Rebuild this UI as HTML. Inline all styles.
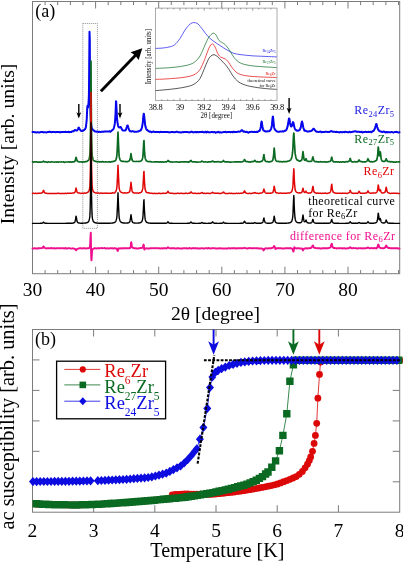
<!DOCTYPE html>
<html><head><meta charset="utf-8"><title>fig</title>
<style>html,body{margin:0;padding:0;background:#fff;}body{width:403px;height:566px;overflow:hidden;}svg{display:block;will-change:transform;}text{font-family:'Liberation Serif', serif;}</style>
</head><body>
<svg width="403" height="566" viewBox="0 0 403 566">
<rect x="0" y="0" width="403" height="566" fill="#fff"/>
<g stroke="#7c7c7c" stroke-width="1" fill="none">
<rect x="32.5" y="1.5" width="367.2" height="272.2"/>
<path d="M45.1 273.7v-3.6M45.1 1.5v3.6M57.7 273.7v-3.6M57.7 1.5v3.6M70.4 273.7v-3.6M70.4 1.5v3.6M83.0 273.7v-3.6M83.0 1.5v3.6M95.6 273.7v-7.0M95.6 1.5v7.0M108.2 273.7v-3.6M108.2 1.5v3.6M120.8 273.7v-3.6M120.8 1.5v3.6M133.5 273.7v-3.6M133.5 1.5v3.6M146.1 273.7v-3.6M146.1 1.5v3.6M158.7 273.7v-7.0M158.7 1.5v7.0M171.3 273.7v-3.6M171.3 1.5v3.6M183.9 273.7v-3.6M183.9 1.5v3.6M196.6 273.7v-3.6M196.6 1.5v3.6M209.2 273.7v-3.6M209.2 1.5v3.6M221.8 273.7v-7.0M221.8 1.5v7.0M234.4 273.7v-3.6M234.4 1.5v3.6M247.0 273.7v-3.6M247.0 1.5v3.6M259.7 273.7v-3.6M259.7 1.5v3.6M272.3 273.7v-3.6M272.3 1.5v3.6M284.9 273.7v-7.0M284.9 1.5v7.0M297.5 273.7v-3.6M297.5 1.5v3.6M310.1 273.7v-3.6M310.1 1.5v3.6M322.8 273.7v-3.6M322.8 1.5v3.6M335.4 273.7v-3.6M335.4 1.5v3.6M348.0 273.7v-7.0M348.0 1.5v7.0M360.6 273.7v-3.6M360.6 1.5v3.6M373.2 273.7v-3.6M373.2 1.5v3.6M385.9 273.7v-3.6M385.9 1.5v3.6M398.5 273.7v-3.6M398.5 1.5v3.6"/>
</g>
<rect x="82.8" y="23.5" width="14.6" height="204.8" fill="none" stroke="#777" stroke-width="0.8" stroke-dasharray="1 1"/>
<g fill="none" stroke-linejoin="round" stroke-linecap="round">
<path d="M32.5 131.9 L32.8 131.9 L33.0 131.9 L33.2 131.9 L33.5 131.9 L33.8 131.9 L34.0 132.0 L34.2 132.1 L34.5 132.2 L34.8 132.2 L35.0 132.3 L35.2 132.3 L35.5 132.3 L35.8 132.4 L36.0 132.4 L36.2 132.4 L36.5 132.4 L36.8 132.4 L37.0 132.3 L37.2 132.2 L37.5 132.2 L37.8 132.2 L38.0 132.3 L38.2 132.3 L38.5 132.4 L38.8 132.4 L39.0 132.4 L39.2 132.5 L39.5 132.5 L39.8 132.4 L40.0 132.3 L40.2 132.2 L40.5 132.1 L40.8 132.1 L41.0 132.1 L41.2 132.1 L41.5 132.1 L41.8 132.1 L42.0 132.1 L42.2 132.1 L42.5 132.0 L42.8 132.1 L43.0 132.2 L43.2 132.3 L43.5 132.4 L43.8 132.3 L44.0 132.3 L44.2 132.2 L44.5 132.2 L44.8 132.2 L45.0 132.2 L45.2 132.2 L45.5 132.2 L45.8 132.3 L46.0 132.3 L46.2 132.4 L46.5 132.5 L46.8 132.4 L47.0 132.3 L47.2 132.2 L47.5 132.0 L47.8 132.1 L48.0 132.1 L48.2 132.1 L48.5 132.1 L48.8 132.0 L49.0 131.9 L49.2 131.7 L49.5 131.6 L49.8 131.7 L50.0 131.9 L50.2 132.0 L50.5 132.1 L50.8 132.1 L51.0 132.1 L51.2 132.2 L51.5 132.2 L51.8 132.1 L52.0 132.0 L52.2 132.0 L52.5 131.9 L52.8 131.9 L53.0 132.0 L53.2 132.0 L53.5 132.1 L53.8 132.1 L54.0 132.0 L54.2 132.0 L54.5 131.9 L54.8 132.0 L55.0 132.1 L55.2 132.1 L55.5 132.2 L55.8 132.2 L56.0 132.2 L56.2 132.1 L56.5 132.1 L56.8 132.0 L57.0 132.0 L57.2 131.9 L57.5 131.9 L57.8 131.9 L58.0 131.9 L58.2 132.0 L58.5 132.0 L58.8 132.0 L59.0 132.0 L59.2 132.1 L59.5 132.1 L59.8 132.2 L60.0 132.2 L60.2 132.3 L60.5 132.4 L60.8 132.3 L61.0 132.2 L61.2 132.1 L61.5 132.0 L61.8 132.0 L62.0 132.0 L62.2 132.1 L62.5 132.1 L62.8 132.0 L63.0 132.0 L63.2 132.0 L63.5 131.9 L63.8 132.0 L64.0 132.0 L64.2 132.0 L64.5 132.0 L64.8 132.0 L65.0 131.9 L65.2 131.9 L65.5 131.8 L65.8 131.9 L66.0 131.9 L66.2 132.0 L66.5 132.1 L66.8 132.0 L67.0 132.0 L67.2 132.0 L67.5 132.0 L67.8 131.9 L68.0 131.9 L68.2 131.9 L68.5 131.8 L68.8 131.9 L69.0 132.0 L69.2 132.1 L69.5 132.2 L69.8 132.1 L70.0 132.1 L70.2 132.0 L70.5 132.0 L70.8 132.0 L71.0 132.0 L71.2 131.9 L71.5 131.9 L71.8 131.7 L72.0 131.6 L72.2 131.4 L72.5 131.2 L72.8 131.2 L73.0 131.3 L73.2 131.3 L73.5 131.3 L73.8 131.1 L74.0 130.8 L74.2 130.6 L74.5 130.3 L74.8 130.1 L75.0 130.0 L75.2 130.0 L75.5 130.1 L75.8 130.3 L76.0 130.4 L76.2 130.5 L76.5 130.6 L76.8 130.6 L77.0 130.5 L77.2 130.4 L77.5 130.1 L77.8 129.6 L78.0 129.0 L78.2 128.3 L78.5 127.7 L78.8 127.6 L79.0 127.7 L79.2 128.2 L79.5 128.8 L79.8 129.2 L80.0 129.6 L80.2 129.9 L80.5 130.1 L80.8 130.4 L81.0 130.7 L81.2 130.9 L81.5 131.1 L81.8 131.1 L82.0 131.1 L82.2 131.0 L82.5 130.9 L82.8 130.8 L83.0 130.7 L83.2 130.5 L83.5 130.3 L83.8 130.2 L84.0 130.0 L84.2 129.8 L84.5 129.6 L84.8 129.4 L85.0 129.2 L85.2 128.8 L85.5 128.3 L85.8 127.5 L86.0 126.3 L86.2 124.5 L86.5 122.0 L86.8 118.3 L87.0 113.2 L87.2 108.1 L87.5 105.8 L87.8 106.8 L88.0 107.5 L88.2 106.2 L88.5 103.1 L88.8 98.4 L89.0 88.9 L89.2 66.3 L89.5 31.7 L89.8 39.8 L90.0 78.3 L90.2 101.5 L90.5 113.0 L90.8 119.1 L91.0 122.8 L91.2 125.1 L91.5 126.7 L91.8 127.7 L92.0 128.4 L92.2 128.9 L92.5 129.3 L92.8 129.6 L93.0 129.9 L93.2 130.1 L93.5 130.2 L93.8 130.5 L94.0 130.7 L94.2 130.9 L94.5 131.1 L94.8 131.3 L95.0 131.4 L95.2 131.5 L95.5 131.6 L95.8 131.6 L96.0 131.7 L96.2 131.7 L96.5 131.7 L96.8 131.6 L97.0 131.6 L97.2 131.5 L97.5 131.4 L97.8 131.6 L98.0 131.8 L98.2 131.9 L98.5 132.1 L98.8 132.0 L99.0 131.9 L99.2 131.8 L99.5 131.8 L99.8 131.8 L100.0 131.9 L100.2 131.9 L100.5 132.0 L100.8 132.0 L101.0 131.9 L101.2 131.9 L101.5 131.8 L101.8 131.8 L102.0 131.8 L102.2 131.8 L102.5 131.8 L102.8 131.8 L103.0 131.8 L103.2 131.8 L103.5 131.8 L103.8 131.7 L104.0 131.6 L104.2 131.5 L104.5 131.4 L104.8 131.5 L105.0 131.5 L105.2 131.6 L105.5 131.6 L105.8 131.6 L106.0 131.5 L106.2 131.5 L106.5 131.4 L106.8 131.5 L107.0 131.5 L107.2 131.6 L107.5 131.6 L107.8 131.6 L108.0 131.6 L108.2 131.6 L108.5 131.6 L108.8 131.5 L109.0 131.4 L109.2 131.4 L109.5 131.3 L109.8 131.4 L110.0 131.5 L110.2 131.6 L110.5 131.7 L110.8 131.5 L111.0 131.2 L111.2 131.0 L111.5 130.7 L111.8 130.5 L112.0 130.4 L112.2 130.2 L112.5 129.9 L112.8 129.8 L113.0 129.5 L113.2 129.2 L113.5 128.8 L113.8 128.2 L114.0 127.4 L114.2 126.4 L114.5 125.2 L114.8 123.7 L115.0 121.6 L115.2 118.7 L115.5 114.1 L115.8 107.6 L116.0 101.2 L116.2 101.8 L116.5 108.4 L116.8 114.1 L117.0 118.0 L117.2 120.7 L117.5 122.5 L117.8 124.1 L118.0 125.2 L118.2 126.1 L118.5 126.8 L118.8 127.2 L119.0 127.5 L119.2 127.5 L119.5 127.5 L119.8 127.3 L120.0 127.1 L120.2 126.9 L120.5 126.9 L120.8 127.1 L121.0 127.5 L121.2 128.0 L121.5 128.5 L121.8 129.0 L122.0 129.4 L122.2 129.8 L122.5 130.1 L122.8 130.3 L123.0 130.4 L123.2 130.5 L123.5 130.6 L123.8 130.6 L124.0 130.6 L124.2 130.6 L124.5 130.5 L124.8 130.5 L125.0 130.6 L125.2 130.5 L125.5 130.4 L125.8 130.0 L126.0 129.4 L126.2 128.7 L126.5 127.8 L126.8 127.1 L127.0 126.3 L127.2 125.6 L127.5 125.5 L127.8 125.7 L128.0 126.4 L128.2 127.3 L128.5 128.1 L128.8 128.9 L129.0 129.6 L129.2 130.1 L129.5 130.6 L129.8 130.8 L130.0 131.0 L130.2 131.2 L130.5 131.3 L130.8 131.4 L131.0 131.4 L131.2 131.5 L131.5 131.5 L131.8 131.4 L132.0 131.3 L132.2 131.2 L132.5 131.1 L132.8 131.2 L133.0 131.3 L133.2 131.4 L133.5 131.5 L133.8 131.5 L134.0 131.6 L134.2 131.7 L134.5 131.8 L134.8 131.8 L135.0 131.7 L135.2 131.7 L135.5 131.7 L135.8 131.7 L136.0 131.8 L136.2 131.8 L136.5 131.8 L136.8 131.7 L137.0 131.7 L137.2 131.6 L137.5 131.5 L137.8 131.5 L138.0 131.4 L138.2 131.4 L138.5 131.4 L138.8 131.3 L139.0 131.1 L139.2 130.9 L139.5 130.8 L139.8 130.7 L140.0 130.7 L140.2 130.6 L140.5 130.5 L140.8 130.2 L141.0 129.8 L141.2 129.3 L141.5 128.7 L141.8 128.0 L142.0 127.2 L142.2 126.0 L142.5 124.6 L142.8 122.6 L143.0 120.2 L143.2 117.5 L143.5 115.0 L143.8 113.7 L144.0 114.2 L144.2 116.2 L144.5 118.8 L144.8 121.4 L145.0 123.6 L145.2 125.3 L145.5 126.6 L145.8 127.6 L146.0 128.3 L146.2 128.9 L146.5 129.4 L146.8 129.7 L147.0 130.0 L147.2 130.2 L147.5 130.4 L147.8 130.5 L148.0 130.7 L148.2 130.8 L148.5 130.9 L148.8 131.1 L149.0 131.4 L149.2 131.6 L149.5 131.8 L149.8 131.7 L150.0 131.7 L150.2 131.6 L150.5 131.5 L150.8 131.7 L151.0 131.9 L151.2 132.0 L151.5 132.2 L151.8 132.1 L152.0 132.0 L152.2 131.9 L152.5 131.9 L152.8 131.8 L153.0 131.7 L153.2 131.6 L153.5 131.5 L153.8 131.6 L154.0 131.7 L154.2 131.9 L154.5 132.0 L154.8 132.0 L155.0 132.0 L155.2 132.1 L155.5 132.1 L155.8 132.0 L156.0 132.0 L156.2 132.0 L156.5 132.0 L156.8 132.0 L157.0 132.0 L157.2 132.0 L157.5 132.0 L157.8 132.0 L158.0 132.0 L158.2 132.0 L158.5 132.0 L158.8 132.1 L159.0 132.1 L159.2 132.2 L159.5 132.2 L159.8 132.1 L160.0 132.0 L160.2 131.9 L160.5 131.8 L160.8 131.9 L161.0 131.9 L161.2 131.9 L161.5 131.9 L161.8 132.0 L162.0 132.0 L162.2 132.1 L162.5 132.1 L162.8 132.1 L163.0 132.1 L163.2 132.1 L163.5 132.0 L163.8 132.0 L164.0 132.0 L164.2 132.0 L164.5 132.0 L164.8 131.9 L165.0 131.9 L165.2 131.9 L165.5 131.9 L165.8 131.9 L166.0 132.0 L166.2 132.0 L166.5 132.0 L166.8 132.0 L167.0 132.0 L167.2 132.0 L167.5 132.0 L167.8 132.0 L168.0 132.1 L168.2 132.1 L168.5 132.2 L168.8 132.2 L169.0 132.3 L169.2 132.3 L169.5 132.4 L169.8 132.3 L170.0 132.3 L170.2 132.3 L170.5 132.2 L170.8 132.2 L171.0 132.1 L171.2 132.0 L171.5 131.9 L171.8 131.9 L172.0 131.9 L172.2 131.9 L172.5 131.9 L172.8 132.0 L173.0 132.0 L173.2 132.1 L173.5 132.1 L173.8 132.2 L174.0 132.2 L174.2 132.2 L174.5 132.3 L174.8 132.2 L175.0 132.2 L175.2 132.1 L175.5 132.1 L175.8 132.0 L176.0 131.9 L176.2 131.9 L176.5 131.8 L176.8 131.8 L177.0 131.8 L177.2 131.8 L177.5 131.9 L177.8 132.0 L178.0 132.1 L178.2 132.2 L178.5 132.3 L178.8 132.3 L179.0 132.2 L179.2 132.2 L179.5 132.2 L179.8 132.2 L180.0 132.3 L180.2 132.4 L180.5 132.5 L180.8 132.5 L181.0 132.4 L181.2 132.4 L181.5 132.4 L181.8 132.3 L182.0 132.3 L182.2 132.2 L182.5 132.1 L182.8 132.1 L183.0 132.1 L183.2 132.1 L183.5 132.2 L183.8 132.1 L184.0 132.1 L184.2 132.0 L184.5 132.0 L184.8 131.9 L185.0 131.9 L185.2 131.9 L185.5 131.9 L185.8 131.9 L186.0 131.9 L186.2 132.0 L186.5 132.0 L186.8 132.0 L187.0 131.9 L187.2 131.9 L187.5 131.9 L187.8 132.0 L188.0 132.1 L188.2 132.2 L188.5 132.3 L188.8 132.3 L189.0 132.4 L189.2 132.4 L189.5 132.4 L189.8 132.3 L190.0 132.2 L190.2 132.1 L190.5 132.1 L190.8 131.9 L191.0 131.8 L191.2 131.7 L191.5 131.6 L191.8 131.7 L192.0 131.8 L192.2 132.0 L192.5 132.1 L192.8 132.2 L193.0 132.3 L193.2 132.3 L193.5 132.4 L193.8 132.3 L194.0 132.3 L194.2 132.2 L194.5 132.1 L194.8 132.1 L195.0 132.0 L195.2 131.9 L195.5 131.9 L195.8 132.0 L196.0 132.1 L196.2 132.3 L196.5 132.4 L196.8 132.3 L197.0 132.2 L197.2 132.1 L197.5 132.0 L197.8 132.1 L198.0 132.1 L198.2 132.2 L198.5 132.3 L198.8 132.2 L199.0 132.1 L199.2 132.0 L199.5 131.9 L199.8 131.9 L200.0 131.9 L200.2 132.0 L200.5 132.0 L200.8 132.0 L201.0 132.1 L201.2 132.1 L201.5 132.1 L201.8 132.0 L202.0 131.9 L202.2 131.8 L202.5 131.7 L202.8 131.9 L203.0 132.0 L203.2 132.1 L203.5 132.3 L203.8 132.3 L204.0 132.3 L204.2 132.3 L204.5 132.3 L204.8 132.2 L205.0 132.0 L205.2 131.9 L205.5 131.8 L205.8 131.9 L206.0 132.1 L206.2 132.2 L206.5 132.4 L206.8 132.2 L207.0 132.0 L207.2 131.9 L207.5 131.7 L207.8 131.8 L208.0 131.9 L208.2 132.1 L208.5 132.2 L208.8 132.2 L209.0 132.3 L209.2 132.3 L209.5 132.4 L209.8 132.3 L210.0 132.3 L210.2 132.2 L210.5 132.2 L210.8 132.2 L211.0 132.2 L211.2 132.1 L211.5 132.1 L211.8 132.1 L212.0 132.1 L212.2 132.1 L212.5 132.1 L212.8 132.1 L213.0 132.2 L213.2 132.2 L213.5 132.2 L213.8 132.1 L214.0 132.1 L214.2 132.0 L214.5 131.9 L214.8 132.1 L215.0 132.3 L215.2 132.5 L215.5 132.7 L215.8 132.6 L216.0 132.5 L216.2 132.4 L216.5 132.3 L216.8 132.3 L217.0 132.3 L217.2 132.2 L217.5 132.2 L217.8 132.1 L218.0 132.0 L218.2 131.9 L218.5 131.8 L218.8 132.0 L219.0 132.2 L219.2 132.4 L219.5 132.6 L219.8 132.5 L220.0 132.4 L220.2 132.3 L220.5 132.2 L220.8 132.3 L221.0 132.3 L221.2 132.4 L221.5 132.4 L221.8 132.4 L222.0 132.4 L222.2 132.3 L222.5 132.3 L222.8 132.2 L223.0 132.2 L223.2 132.1 L223.5 132.0 L223.8 132.0 L224.0 132.0 L224.2 132.1 L224.5 132.1 L224.8 132.0 L225.0 132.0 L225.2 131.9 L225.5 131.8 L225.8 132.0 L226.0 132.1 L226.2 132.2 L226.5 132.3 L226.8 132.2 L227.0 132.2 L227.2 132.1 L227.5 132.1 L227.8 132.0 L228.0 132.0 L228.2 131.9 L228.5 131.9 L228.8 131.9 L229.0 131.9 L229.2 131.9 L229.5 131.9 L229.8 132.0 L230.0 132.1 L230.2 132.1 L230.5 132.2 L230.8 132.1 L231.0 132.0 L231.2 132.0 L231.5 131.9 L231.8 132.0 L232.0 132.1 L232.2 132.2 L232.5 132.3 L232.8 132.2 L233.0 132.0 L233.2 131.9 L233.5 131.7 L233.8 131.8 L234.0 131.9 L234.2 132.0 L234.5 132.1 L234.8 132.1 L235.0 132.1 L235.2 132.1 L235.5 132.1 L235.8 132.1 L236.0 132.0 L236.2 132.0 L236.5 132.0 L236.8 131.9 L237.0 131.9 L237.2 131.9 L237.5 131.8 L237.8 131.7 L238.0 131.7 L238.2 131.6 L238.5 131.5 L238.8 131.6 L239.0 131.7 L239.2 131.7 L239.5 131.8 L239.8 131.7 L240.0 131.6 L240.2 131.5 L240.5 131.4 L240.8 131.1 L241.0 130.9 L241.2 130.6 L241.5 130.3 L241.8 130.2 L242.0 130.2 L242.2 130.3 L242.5 130.6 L242.8 130.9 L243.0 131.2 L243.2 131.4 L243.5 131.7 L243.8 131.7 L244.0 131.6 L244.2 131.6 L244.5 131.5 L244.8 131.6 L245.0 131.8 L245.2 131.9 L245.5 132.0 L245.8 131.9 L246.0 131.9 L246.2 131.8 L246.5 131.7 L246.8 131.9 L247.0 132.0 L247.2 132.1 L247.5 132.2 L247.8 132.3 L248.0 132.5 L248.2 132.6 L248.5 132.7 L248.8 132.5 L249.0 132.3 L249.2 132.1 L249.5 132.0 L249.8 132.0 L250.0 132.0 L250.2 132.0 L250.5 132.0 L250.8 131.9 L251.0 131.8 L251.2 131.8 L251.5 131.7 L251.8 131.7 L252.0 131.8 L252.2 131.8 L252.5 131.9 L252.8 131.9 L253.0 131.9 L253.2 131.9 L253.5 131.9 L253.8 131.9 L254.0 131.9 L254.2 131.9 L254.5 131.8 L254.8 131.9 L255.0 131.9 L255.2 131.9 L255.5 132.0 L255.8 131.9 L256.0 131.9 L256.2 131.9 L256.5 131.8 L256.8 131.9 L257.0 131.9 L257.2 131.9 L257.5 132.0 L257.8 131.8 L258.0 131.6 L258.2 131.4 L258.5 131.2 L258.8 131.2 L259.0 131.1 L259.2 131.0 L259.5 130.8 L259.8 130.4 L260.0 129.9 L260.2 129.2 L260.5 128.3 L260.8 126.9 L261.0 125.1 L261.2 123.1 L261.5 121.6 L261.8 121.8 L262.0 123.3 L262.2 125.3 L262.5 126.9 L262.8 128.3 L263.0 129.2 L263.2 129.9 L263.5 130.5 L263.8 130.6 L264.0 130.7 L264.2 130.7 L264.5 130.7 L264.8 131.0 L265.0 131.2 L265.2 131.4 L265.5 131.6 L265.8 131.5 L266.0 131.5 L266.2 131.4 L266.5 131.4 L266.8 131.4 L267.0 131.3 L267.2 131.3 L267.5 131.3 L267.8 131.3 L268.0 131.3 L268.2 131.3 L268.5 131.3 L268.8 131.3 L269.0 131.2 L269.2 131.1 L269.5 131.0 L269.8 130.8 L270.0 130.5 L270.2 130.2 L270.5 129.8 L270.8 129.5 L271.0 129.1 L271.2 128.4 L271.5 127.6 L271.8 126.3 L272.0 124.4 L272.2 121.9 L272.5 119.0 L272.8 116.7 L273.0 116.6 L273.2 118.8 L273.5 121.9 L273.8 124.5 L274.0 126.4 L274.2 127.7 L274.5 128.7 L274.8 129.3 L275.0 129.7 L275.2 130.0 L275.5 130.2 L275.8 130.5 L276.0 130.7 L276.2 130.9 L276.5 131.1 L276.8 131.3 L277.0 131.4 L277.2 131.5 L277.5 131.6 L277.8 131.7 L278.0 131.7 L278.2 131.7 L278.5 131.7 L278.8 131.7 L279.0 131.7 L279.2 131.7 L279.5 131.7 L279.8 131.6 L280.0 131.6 L280.2 131.5 L280.5 131.5 L280.8 131.5 L281.0 131.5 L281.2 131.5 L281.5 131.5 L281.8 131.4 L282.0 131.4 L282.2 131.3 L282.5 131.3 L282.8 131.3 L283.0 131.4 L283.2 131.5 L283.5 131.5 L283.8 131.4 L284.0 131.2 L284.2 131.0 L284.5 130.8 L284.8 130.8 L285.0 130.8 L285.2 130.7 L285.5 130.7 L285.8 130.5 L286.0 130.2 L286.2 129.9 L286.5 129.6 L286.8 129.0 L287.0 128.4 L287.2 127.6 L287.5 126.6 L287.8 125.6 L288.0 124.3 L288.2 122.8 L288.5 121.1 L288.8 119.5 L289.0 118.5 L289.2 118.5 L289.5 119.5 L289.8 121.1 L290.0 122.7 L290.2 124.0 L290.5 125.1 L290.8 125.8 L291.0 126.3 L291.2 126.5 L291.5 126.5 L291.8 126.0 L292.0 125.4 L292.2 124.5 L292.5 123.4 L292.8 122.6 L293.0 122.1 L293.2 122.3 L293.5 123.1 L293.8 124.3 L294.0 125.5 L294.2 126.6 L294.5 127.6 L294.8 128.3 L295.0 128.9 L295.2 129.3 L295.5 129.7 L295.8 129.9 L296.0 130.1 L296.2 130.2 L296.5 130.3 L296.8 130.4 L297.0 130.5 L297.2 130.7 L297.5 130.7 L297.8 130.7 L298.0 130.7 L298.2 130.6 L298.5 130.5 L298.8 130.4 L299.0 130.3 L299.2 130.2 L299.5 130.0 L299.8 129.7 L300.0 129.4 L300.2 128.9 L300.5 128.3 L300.8 127.3 L301.0 126.1 L301.2 124.7 L301.5 123.2 L301.8 122.0 L302.0 121.5 L302.2 122.0 L302.5 123.2 L302.8 124.7 L303.0 126.1 L303.2 127.2 L303.5 128.1 L303.8 129.0 L304.0 129.7 L304.2 130.2 L304.5 130.7 L304.8 130.8 L305.0 130.8 L305.2 130.7 L305.5 130.6 L305.8 130.8 L306.0 130.9 L306.2 131.1 L306.5 131.2 L306.8 131.3 L307.0 131.4 L307.2 131.5 L307.5 131.6 L307.8 131.6 L308.0 131.6 L308.2 131.6 L308.5 131.6 L308.8 131.5 L309.0 131.4 L309.2 131.4 L309.5 131.3 L309.8 131.3 L310.0 131.2 L310.2 131.2 L310.5 131.1 L310.8 131.1 L311.0 131.0 L311.2 130.9 L311.5 130.8 L311.8 130.6 L312.0 130.4 L312.2 130.2 L312.5 129.9 L312.8 129.6 L313.0 129.2 L313.2 128.9 L313.5 128.7 L313.8 128.7 L314.0 128.9 L314.2 129.2 L314.5 129.5 L314.8 129.9 L315.0 130.3 L315.2 130.6 L315.5 130.9 L315.8 131.1 L316.0 131.3 L316.2 131.5 L316.5 131.6 L316.8 131.7 L317.0 131.8 L317.2 131.8 L317.5 131.8 L317.8 131.8 L318.0 131.9 L318.2 131.9 L318.5 131.9 L318.8 131.9 L319.0 131.9 L319.2 131.8 L319.5 131.8 L319.8 131.7 L320.0 131.6 L320.2 131.6 L320.5 131.5 L320.8 131.7 L321.0 131.9 L321.2 132.1 L321.5 132.3 L321.8 132.2 L322.0 132.1 L322.2 132.0 L322.5 131.9 L322.8 131.9 L323.0 132.0 L323.2 132.0 L323.5 132.0 L323.8 132.0 L324.0 132.0 L324.2 132.0 L324.5 131.9 L324.8 131.9 L325.0 131.8 L325.2 131.8 L325.5 131.7 L325.8 131.7 L326.0 131.7 L326.2 131.7 L326.5 131.7 L326.8 131.8 L327.0 131.8 L327.2 131.9 L327.5 131.9 L327.8 131.9 L328.0 131.9 L328.2 131.9 L328.5 131.9 L328.8 131.9 L329.0 131.9 L329.2 131.9 L329.5 131.9 L329.8 131.8 L330.0 131.6 L330.2 131.5 L330.5 131.4 L330.8 131.3 L331.0 131.2 L331.2 131.1 L331.5 131.1 L331.8 131.2 L332.0 131.4 L332.2 131.5 L332.5 131.7 L332.8 131.7 L333.0 131.7 L333.2 131.7 L333.5 131.7 L333.8 131.7 L334.0 131.7 L334.2 131.8 L334.5 131.8 L334.8 131.8 L335.0 131.9 L335.2 131.9 L335.5 131.9 L335.8 131.9 L336.0 131.9 L336.2 131.8 L336.5 131.8 L336.8 131.9 L337.0 132.0 L337.2 132.0 L337.5 132.1 L337.8 132.1 L338.0 132.2 L338.2 132.2 L338.5 132.3 L338.8 132.3 L339.0 132.3 L339.2 132.3 L339.5 132.4 L339.8 132.2 L340.0 132.1 L340.2 132.0 L340.5 131.9 L340.8 132.0 L341.0 132.0 L341.2 132.1 L341.5 132.2 L341.8 132.2 L342.0 132.2 L342.2 132.2 L342.5 132.2 L342.8 132.1 L343.0 132.1 L343.2 132.0 L343.5 131.9 L343.8 132.0 L344.0 132.1 L344.2 132.2 L344.5 132.3 L344.8 132.1 L345.0 132.0 L345.2 131.9 L345.5 131.7 L345.8 131.8 L346.0 131.8 L346.2 131.9 L346.5 132.0 L346.8 132.0 L347.0 132.1 L347.2 132.1 L347.5 132.2 L347.8 132.2 L348.0 132.2 L348.2 132.2 L348.5 132.2 L348.8 132.1 L349.0 132.0 L349.2 131.9 L349.5 131.8 L349.8 131.9 L350.0 132.0 L350.2 132.2 L350.5 132.3 L350.8 132.2 L351.0 132.2 L351.2 132.1 L351.5 132.1 L351.8 132.0 L352.0 132.0 L352.2 131.9 L352.5 131.8 L352.8 131.8 L353.0 131.7 L353.2 131.7 L353.5 131.6 L353.8 131.5 L354.0 131.5 L354.2 131.4 L354.5 131.4 L354.8 131.3 L355.0 131.3 L355.2 131.3 L355.5 131.3 L355.8 131.4 L356.0 131.5 L356.2 131.6 L356.5 131.7 L356.8 131.8 L357.0 131.8 L357.2 131.8 L357.5 131.9 L357.8 131.8 L358.0 131.8 L358.2 131.7 L358.5 131.7 L358.8 131.7 L359.0 131.8 L359.2 131.8 L359.5 131.9 L359.8 131.9 L360.0 132.0 L360.2 132.1 L360.5 132.1 L360.8 132.0 L361.0 131.9 L361.2 131.8 L361.5 131.7 L361.8 131.9 L362.0 132.1 L362.2 132.3 L362.5 132.5 L362.8 132.4 L363.0 132.3 L363.2 132.2 L363.5 132.0 L363.8 132.0 L364.0 132.0 L364.2 131.9 L364.5 131.9 L364.8 131.9 L365.0 131.9 L365.2 131.8 L365.5 131.8 L365.8 131.9 L366.0 131.9 L366.2 132.0 L366.5 132.0 L366.8 132.0 L367.0 132.0 L367.2 132.1 L367.5 132.1 L367.8 132.0 L368.0 132.0 L368.2 131.9 L368.5 131.8 L368.8 131.9 L369.0 131.9 L369.2 131.9 L369.5 131.9 L369.8 131.9 L370.0 131.8 L370.2 131.8 L370.5 131.7 L370.8 131.8 L371.0 132.0 L371.2 132.1 L371.5 132.3 L371.8 132.0 L372.0 131.8 L372.2 131.5 L372.5 131.3 L372.8 131.2 L373.0 131.1 L373.2 131.1 L373.5 130.9 L373.8 130.6 L374.0 130.2 L374.2 129.8 L374.5 129.2 L374.8 128.7 L375.0 128.0 L375.2 127.2 L375.5 126.2 L375.8 125.2 L376.0 124.4 L376.2 124.0 L376.5 124.2 L376.8 124.9 L377.0 125.9 L377.2 127.0 L377.5 128.0 L377.8 128.7 L378.0 129.2 L378.2 129.7 L378.5 130.0 L378.8 130.4 L379.0 130.7 L379.2 130.9 L379.5 131.1 L379.8 131.2 L380.0 131.3 L380.2 131.4 L380.5 131.4 L380.8 131.5 L381.0 131.6 L381.2 131.7 L381.5 131.7 L381.8 131.8 L382.0 131.9 L382.2 132.0 L382.5 132.0 L382.8 131.9 L383.0 131.8 L383.2 131.6 L383.5 131.5 L383.8 131.6 L384.0 131.7 L384.2 131.7 L384.5 131.8 L384.8 132.0 L385.0 132.2 L385.2 132.3 L385.5 132.5 L385.8 132.3 L386.0 132.2 L386.2 132.0 L386.5 131.9 L386.8 132.0 L387.0 132.1 L387.2 132.3 L387.5 132.4 L387.8 132.3 L388.0 132.3 L388.2 132.2 L388.5 132.1 L388.8 132.2 L389.0 132.2 L389.2 132.2 L389.5 132.2 L389.8 132.2 L390.0 132.2 L390.2 132.2 L390.5 132.2 L390.8 132.2 L391.0 132.2 L391.2 132.1 L391.5 132.1 L391.8 132.1 L392.0 132.1 L392.2 132.2 L392.5 132.2 L392.8 132.3 L393.0 132.3 L393.2 132.4 L393.5 132.5 L393.8 132.4 L394.0 132.3 L394.2 132.2 L394.5 132.1 L394.8 132.1 L395.0 132.1 L395.2 132.1 L395.5 132.1 L395.8 132.0 L396.0 131.9 L396.2 131.8 L396.5 131.8 L396.8 131.9 L397.0 132.0 L397.2 132.1 L397.5 132.3 L397.8 132.3 L398.0 132.3 L398.2 132.4 L398.5 132.4 L398.8 132.4 L399.0 132.3 L399.2 132.3 L399.5 132.2" stroke="#0505ee" stroke-width="2.0"/>
<path d="M32.5 161.7 L32.8 161.8 L33.0 161.9 L33.2 162.0 L33.5 162.1 L33.8 162.0 L34.0 162.0 L34.2 162.0 L34.5 161.9 L34.8 161.9 L35.0 162.0 L35.2 162.0 L35.5 162.0 L35.8 161.9 L36.0 161.9 L36.2 161.9 L36.5 161.9 L36.8 161.9 L37.0 162.0 L37.2 162.1 L37.5 162.2 L37.8 162.1 L38.0 162.1 L38.2 162.1 L38.5 162.0 L38.8 162.0 L39.0 162.1 L39.2 162.1 L39.5 162.1 L39.8 162.1 L40.0 162.1 L40.2 162.1 L40.5 162.1 L40.8 162.1 L41.0 162.1 L41.2 162.1 L41.5 162.0 L41.8 162.0 L42.0 162.0 L42.2 161.9 L42.5 161.8 L42.8 161.7 L43.0 161.6 L43.2 161.4 L43.5 161.2 L43.8 161.4 L44.0 161.6 L44.2 161.8 L44.5 161.9 L44.8 161.9 L45.0 161.9 L45.2 161.9 L45.5 161.9 L45.8 161.9 L46.0 162.0 L46.2 162.0 L46.5 162.0 L46.8 162.1 L47.0 162.2 L47.2 162.3 L47.5 162.4 L47.8 162.2 L48.0 162.1 L48.2 162.0 L48.5 161.8 L48.8 161.9 L49.0 161.9 L49.2 162.0 L49.5 162.0 L49.8 162.0 L50.0 162.1 L50.2 162.1 L50.5 162.1 L50.8 162.0 L51.0 162.0 L51.2 162.0 L51.5 161.9 L51.8 161.9 L52.0 161.9 L52.2 161.9 L52.5 162.0 L52.8 162.0 L53.0 162.0 L53.2 162.0 L53.5 162.0 L53.8 162.0 L54.0 162.0 L54.2 162.1 L54.5 162.1 L54.8 162.1 L55.0 162.0 L55.2 162.0 L55.5 162.0 L55.8 162.0 L56.0 162.1 L56.2 162.1 L56.5 162.2 L56.8 162.1 L57.0 162.0 L57.2 161.9 L57.5 161.8 L57.8 161.9 L58.0 162.0 L58.2 162.1 L58.5 162.1 L58.8 162.1 L59.0 162.1 L59.2 162.0 L59.5 162.0 L59.8 162.0 L60.0 162.0 L60.2 162.0 L60.5 162.0 L60.8 162.0 L61.0 162.0 L61.2 162.0 L61.5 161.9 L61.8 162.0 L62.0 162.0 L62.2 162.0 L62.5 162.0 L62.8 162.0 L63.0 162.0 L63.2 161.9 L63.5 161.9 L63.8 162.0 L64.0 162.2 L64.2 162.3 L64.5 162.4 L64.8 162.3 L65.0 162.2 L65.2 162.1 L65.5 162.0 L65.8 162.0 L66.0 162.0 L66.2 162.0 L66.5 162.0 L66.8 162.0 L67.0 162.0 L67.2 162.0 L67.5 162.0 L67.8 162.0 L68.0 161.9 L68.2 161.8 L68.5 161.8 L68.8 161.8 L69.0 161.9 L69.2 162.0 L69.5 162.1 L69.8 162.0 L70.0 162.0 L70.2 162.0 L70.5 161.9 L70.8 162.0 L71.0 162.1 L71.2 162.1 L71.5 162.2 L71.8 162.1 L72.0 162.0 L72.2 161.9 L72.5 161.8 L72.8 161.9 L73.0 161.9 L73.2 161.9 L73.5 162.0 L73.8 161.9 L74.0 161.8 L74.2 161.7 L74.5 161.6 L74.8 161.3 L75.0 160.9 L75.2 160.3 L75.5 159.4 L75.8 158.3 L76.0 157.3 L76.2 157.5 L76.5 158.7 L76.8 159.8 L77.0 160.5 L77.2 160.9 L77.5 161.2 L77.8 161.4 L78.0 161.5 L78.2 161.6 L78.5 161.6 L78.8 161.7 L79.0 161.8 L79.2 161.9 L79.5 162.0 L79.8 162.0 L80.0 162.0 L80.2 162.0 L80.5 162.0 L80.8 161.9 L81.0 161.9 L81.2 161.8 L81.5 161.8 L81.8 161.9 L82.0 161.9 L82.2 162.0 L82.5 162.1 L82.8 162.0 L83.0 161.9 L83.2 161.8 L83.5 161.7 L83.8 161.8 L84.0 161.8 L84.2 161.9 L84.5 161.9 L84.8 161.9 L85.0 161.8 L85.2 161.7 L85.5 161.6 L85.8 161.6 L86.0 161.6 L86.2 161.6 L86.5 161.6 L86.8 161.4 L87.0 161.3 L87.2 161.1 L87.5 160.9 L87.8 160.8 L88.0 160.6 L88.2 160.4 L88.5 160.1 L88.8 159.8 L89.0 159.3 L89.2 158.5 L89.5 157.4 L89.8 155.5 L90.0 152.2 L90.2 145.8 L90.5 131.6 L90.8 98.0 L91.0 61.2 L91.2 98.0 L91.5 131.4 L91.8 145.7 L92.0 152.1 L92.2 155.4 L92.5 157.3 L92.8 158.6 L93.0 159.4 L93.2 160.0 L93.5 160.4 L93.8 160.6 L94.0 160.8 L94.2 161.0 L94.5 161.1 L94.8 161.1 L95.0 161.2 L95.2 161.3 L95.5 161.3 L95.8 161.4 L96.0 161.5 L96.2 161.6 L96.5 161.6 L96.8 161.7 L97.0 161.7 L97.2 161.7 L97.5 161.8 L97.8 161.8 L98.0 161.7 L98.2 161.7 L98.5 161.7 L98.8 161.7 L99.0 161.8 L99.2 161.8 L99.5 161.9 L99.8 161.8 L100.0 161.8 L100.2 161.8 L100.5 161.7 L100.8 161.8 L101.0 161.8 L101.2 161.9 L101.5 161.9 L101.8 161.8 L102.0 161.8 L102.2 161.7 L102.5 161.7 L102.8 161.7 L103.0 161.8 L103.2 161.9 L103.5 161.9 L103.8 161.9 L104.0 162.0 L104.2 162.0 L104.5 162.0 L104.8 162.0 L105.0 161.9 L105.2 161.9 L105.5 161.9 L105.8 161.9 L106.0 161.9 L106.2 161.9 L106.5 162.0 L106.8 162.0 L107.0 162.0 L107.2 162.0 L107.5 162.0 L107.8 162.0 L108.0 161.9 L108.2 161.9 L108.5 161.9 L108.8 161.8 L109.0 161.8 L109.2 161.8 L109.5 161.7 L109.8 161.8 L110.0 161.9 L110.2 162.0 L110.5 162.1 L110.8 162.0 L111.0 161.9 L111.2 161.8 L111.5 161.7 L111.8 161.7 L112.0 161.7 L112.2 161.7 L112.5 161.6 L112.8 161.6 L113.0 161.6 L113.2 161.5 L113.5 161.5 L113.8 161.4 L114.0 161.3 L114.2 161.1 L114.5 161.0 L114.8 160.9 L115.0 160.9 L115.2 160.7 L115.5 160.5 L115.8 160.1 L116.0 159.5 L116.2 158.8 L116.5 157.7 L116.8 156.3 L117.0 154.0 L117.2 150.3 L117.5 144.3 L117.8 136.4 L118.0 132.0 L118.2 136.4 L118.5 144.2 L118.8 150.3 L119.0 154.0 L119.2 156.4 L119.5 157.9 L119.8 158.8 L120.0 159.5 L120.2 160.0 L120.5 160.4 L120.8 160.6 L121.0 160.9 L121.2 161.0 L121.5 161.2 L121.8 161.2 L122.0 161.3 L122.2 161.3 L122.5 161.4 L122.8 161.4 L123.0 161.3 L123.2 161.3 L123.5 161.3 L123.8 161.4 L124.0 161.4 L124.2 161.5 L124.5 161.5 L124.8 161.5 L125.0 161.6 L125.2 161.6 L125.5 161.6 L125.8 161.6 L126.0 161.6 L126.2 161.6 L126.5 161.6 L126.8 161.6 L127.0 161.7 L127.2 161.7 L127.5 161.7 L127.8 161.6 L128.0 161.5 L128.2 161.4 L128.5 161.3 L128.8 161.2 L129.0 161.0 L129.2 160.8 L129.5 160.5 L129.8 160.2 L130.0 159.6 L130.2 158.7 L130.5 157.2 L130.8 154.9 L131.0 153.6 L131.2 154.8 L131.5 156.9 L131.8 158.5 L132.0 159.6 L132.2 160.2 L132.5 160.6 L132.8 160.9 L133.0 161.1 L133.2 161.3 L133.5 161.4 L133.8 161.5 L134.0 161.5 L134.2 161.5 L134.5 161.5 L134.8 161.5 L135.0 161.5 L135.2 161.5 L135.5 161.5 L135.8 161.5 L136.0 161.5 L136.2 161.5 L136.5 161.4 L136.8 161.5 L137.0 161.5 L137.2 161.5 L137.5 161.5 L137.8 161.5 L138.0 161.5 L138.2 161.5 L138.5 161.4 L138.8 161.5 L139.0 161.5 L139.2 161.5 L139.5 161.5 L139.8 161.4 L140.0 161.4 L140.2 161.3 L140.5 161.2 L140.8 161.1 L141.0 161.0 L141.2 160.8 L141.5 160.6 L141.8 160.3 L142.0 159.9 L142.2 159.4 L142.5 158.5 L142.8 157.2 L143.0 155.2 L143.2 151.9 L143.5 146.8 L143.8 141.3 L144.0 140.5 L144.2 145.5 L144.5 150.9 L144.8 154.5 L145.0 156.8 L145.2 158.2 L145.5 159.1 L145.8 159.7 L146.0 160.2 L146.2 160.6 L146.5 160.9 L146.8 161.0 L147.0 161.2 L147.2 161.3 L147.5 161.3 L147.8 161.4 L148.0 161.5 L148.2 161.5 L148.5 161.5 L148.8 161.6 L149.0 161.6 L149.2 161.7 L149.5 161.7 L149.8 161.7 L150.0 161.7 L150.2 161.7 L150.5 161.7 L150.8 161.7 L151.0 161.7 L151.2 161.8 L151.5 161.8 L151.8 161.9 L152.0 161.9 L152.2 162.0 L152.5 162.0 L152.8 162.0 L153.0 162.0 L153.2 162.0 L153.5 162.0 L153.8 162.0 L154.0 161.9 L154.2 161.9 L154.5 161.8 L154.8 161.8 L155.0 161.8 L155.2 161.8 L155.5 161.8 L155.8 161.8 L156.0 161.8 L156.2 161.8 L156.5 161.8 L156.8 161.8 L157.0 161.8 L157.2 161.9 L157.5 161.9 L157.8 161.9 L158.0 161.9 L158.2 161.9 L158.5 161.9 L158.8 162.0 L159.0 162.0 L159.2 162.1 L159.5 162.2 L159.8 162.1 L160.0 162.0 L160.2 161.9 L160.5 161.8 L160.8 161.8 L161.0 161.9 L161.2 162.0 L161.5 162.1 L161.8 162.0 L162.0 161.9 L162.2 161.9 L162.5 161.8 L162.8 161.9 L163.0 162.0 L163.2 162.0 L163.5 162.1 L163.8 162.1 L164.0 162.1 L164.2 162.0 L164.5 162.0 L164.8 162.0 L165.0 161.9 L165.2 161.9 L165.5 161.9 L165.8 161.9 L166.0 161.9 L166.2 161.8 L166.5 161.8 L166.8 161.7 L167.0 161.6 L167.2 161.4 L167.5 161.1 L167.8 160.7 L168.0 160.4 L168.2 160.5 L168.5 160.9 L168.8 161.2 L169.0 161.5 L169.2 161.6 L169.5 161.7 L169.8 161.7 L170.0 161.8 L170.2 161.8 L170.5 161.8 L170.8 161.9 L171.0 161.9 L171.2 161.9 L171.5 162.0 L171.8 162.0 L172.0 162.0 L172.2 162.0 L172.5 162.1 L172.8 162.1 L173.0 162.0 L173.2 162.0 L173.5 162.0 L173.8 162.0 L174.0 162.0 L174.2 162.0 L174.5 162.0 L174.8 162.0 L175.0 162.0 L175.2 162.0 L175.5 162.0 L175.8 161.9 L176.0 161.9 L176.2 161.9 L176.5 161.9 L176.8 161.9 L177.0 161.9 L177.2 162.0 L177.5 162.0 L177.8 162.0 L178.0 162.0 L178.2 162.1 L178.5 162.1 L178.8 162.1 L179.0 162.1 L179.2 162.1 L179.5 162.1 L179.8 162.0 L180.0 161.9 L180.2 161.9 L180.5 161.8 L180.8 161.8 L181.0 161.9 L181.2 161.9 L181.5 162.0 L181.8 162.0 L182.0 162.0 L182.2 161.9 L182.5 161.9 L182.8 161.9 L183.0 161.9 L183.2 161.9 L183.5 161.9 L183.8 161.9 L184.0 161.9 L184.2 161.9 L184.5 161.9 L184.8 161.9 L185.0 161.9 L185.2 161.9 L185.5 161.9 L185.8 161.9 L186.0 161.9 L186.2 161.8 L186.5 161.8 L186.8 161.8 L187.0 161.8 L187.2 161.8 L187.5 161.8 L187.8 161.9 L188.0 162.1 L188.2 162.2 L188.5 162.3 L188.8 162.2 L189.0 162.1 L189.2 161.9 L189.5 161.8 L189.8 161.6 L190.0 161.4 L190.2 161.1 L190.5 160.7 L190.8 160.5 L191.0 160.4 L191.2 160.7 L191.5 161.3 L191.8 161.5 L192.0 161.7 L192.2 161.7 L192.5 161.8 L192.8 161.8 L193.0 161.8 L193.2 161.8 L193.5 161.8 L193.8 161.8 L194.0 161.9 L194.2 161.9 L194.5 161.9 L194.8 161.9 L195.0 161.9 L195.2 161.8 L195.5 161.8 L195.8 161.9 L196.0 162.0 L196.2 162.0 L196.5 162.1 L196.8 162.1 L197.0 162.1 L197.2 162.1 L197.5 162.1 L197.8 162.1 L198.0 162.0 L198.2 162.0 L198.5 162.0 L198.8 162.0 L199.0 162.0 L199.2 162.0 L199.5 162.0 L199.8 162.0 L200.0 162.0 L200.2 162.0 L200.5 162.0 L200.8 161.9 L201.0 161.8 L201.2 161.6 L201.5 161.4 L201.8 161.1 L202.0 161.0 L202.2 161.2 L202.5 161.4 L202.8 161.6 L203.0 161.7 L203.2 161.8 L203.5 161.9 L203.8 161.9 L204.0 161.9 L204.2 162.0 L204.5 162.0 L204.8 162.0 L205.0 162.0 L205.2 161.9 L205.5 161.9 L205.8 161.9 L206.0 161.9 L206.2 162.0 L206.5 162.0 L206.8 162.0 L207.0 162.0 L207.2 162.0 L207.5 162.1 L207.8 162.0 L208.0 162.0 L208.2 161.9 L208.5 161.9 L208.8 161.9 L209.0 161.9 L209.2 161.9 L209.5 161.9 L209.8 161.9 L210.0 161.9 L210.2 161.9 L210.5 161.9 L210.8 161.8 L211.0 161.8 L211.2 161.7 L211.5 161.6 L211.8 161.5 L212.0 161.4 L212.2 161.2 L212.5 161.0 L212.8 161.0 L213.0 161.2 L213.2 161.5 L213.5 161.6 L213.8 161.8 L214.0 161.8 L214.2 161.9 L214.5 161.9 L214.8 161.9 L215.0 161.9 L215.2 161.8 L215.5 161.8 L215.8 161.8 L216.0 161.8 L216.2 161.8 L216.5 161.9 L216.8 161.8 L217.0 161.8 L217.2 161.7 L217.5 161.7 L217.8 161.7 L218.0 161.7 L218.2 161.7 L218.5 161.7 L218.8 161.8 L219.0 161.9 L219.2 161.9 L219.5 162.0 L219.8 162.0 L220.0 162.0 L220.2 162.0 L220.5 162.1 L220.8 162.0 L221.0 161.9 L221.2 161.9 L221.5 161.8 L221.8 161.8 L222.0 161.8 L222.2 161.7 L222.5 161.6 L222.8 161.4 L223.0 161.1 L223.2 160.7 L223.5 160.5 L223.8 160.8 L224.0 161.2 L224.2 161.5 L224.5 161.7 L224.8 161.8 L225.0 161.8 L225.2 161.8 L225.5 161.8 L225.8 161.8 L226.0 161.8 L226.2 161.9 L226.5 161.9 L226.8 161.9 L227.0 161.9 L227.2 161.9 L227.5 161.9 L227.8 161.9 L228.0 161.9 L228.2 161.9 L228.5 161.9 L228.8 162.0 L229.0 162.0 L229.2 162.0 L229.5 162.1 L229.8 162.1 L230.0 162.2 L230.2 162.2 L230.5 162.3 L230.8 162.2 L231.0 162.1 L231.2 162.1 L231.5 162.0 L231.8 162.0 L232.0 162.0 L232.2 162.0 L232.5 162.0 L232.8 162.0 L233.0 162.0 L233.2 162.0 L233.5 162.0 L233.8 162.0 L234.0 161.9 L234.2 161.9 L234.5 161.8 L234.8 161.9 L235.0 161.9 L235.2 161.9 L235.5 162.0 L235.8 161.9 L236.0 161.9 L236.2 161.8 L236.5 161.8 L236.8 161.8 L237.0 161.8 L237.2 161.9 L237.5 161.9 L237.8 161.9 L238.0 161.9 L238.2 161.9 L238.5 161.9 L238.8 161.9 L239.0 161.9 L239.2 161.9 L239.5 161.9 L239.8 161.9 L240.0 161.8 L240.2 161.8 L240.5 161.8 L240.8 161.9 L241.0 161.9 L241.2 162.0 L241.5 162.0 L241.8 161.9 L242.0 161.8 L242.2 161.7 L242.5 161.6 L242.8 161.6 L243.0 161.5 L243.2 161.4 L243.5 161.3 L243.8 161.0 L244.0 160.5 L244.2 159.8 L244.5 159.5 L244.8 159.8 L245.0 160.5 L245.2 160.9 L245.5 161.2 L245.8 161.4 L246.0 161.5 L246.2 161.6 L246.5 161.7 L246.8 161.7 L247.0 161.7 L247.2 161.7 L247.5 161.7 L247.8 161.7 L248.0 161.7 L248.2 161.8 L248.5 161.8 L248.8 161.8 L249.0 161.8 L249.2 161.8 L249.5 161.9 L249.8 161.9 L250.0 162.0 L250.2 162.0 L250.5 162.1 L250.8 162.0 L251.0 161.9 L251.2 161.8 L251.5 161.7 L251.8 161.7 L252.0 161.7 L252.2 161.7 L252.5 161.6 L252.8 161.6 L253.0 161.6 L253.2 161.6 L253.5 161.5 L253.8 161.4 L254.0 161.3 L254.2 161.0 L254.5 160.6 L254.8 160.3 L255.0 160.4 L255.2 160.8 L255.5 161.1 L255.8 161.4 L256.0 161.6 L256.2 161.7 L256.5 161.8 L256.8 161.8 L257.0 161.8 L257.2 161.8 L257.5 161.7 L257.8 161.7 L258.0 161.8 L258.2 161.8 L258.5 161.8 L258.8 161.8 L259.0 161.9 L259.2 161.9 L259.5 161.9 L259.8 161.9 L260.0 161.8 L260.2 161.7 L260.5 161.7 L260.8 161.6 L261.0 161.6 L261.2 161.5 L261.5 161.4 L261.8 161.3 L262.0 161.1 L262.2 160.9 L262.5 160.5 L262.8 160.1 L263.0 159.4 L263.2 158.3 L263.5 156.6 L263.8 154.8 L264.0 154.7 L264.2 156.4 L264.5 158.4 L264.8 159.6 L265.0 160.4 L265.2 160.9 L265.5 161.2 L265.8 161.4 L266.0 161.4 L266.2 161.5 L266.5 161.5 L266.8 161.6 L267.0 161.6 L267.2 161.6 L267.5 161.7 L267.8 161.7 L268.0 161.7 L268.2 161.8 L268.5 161.8 L268.8 161.8 L269.0 161.8 L269.2 161.8 L269.5 161.8 L269.8 161.8 L270.0 161.7 L270.2 161.6 L270.5 161.6 L270.8 161.5 L271.0 161.5 L271.2 161.5 L271.5 161.4 L271.8 161.3 L272.0 161.1 L272.2 160.8 L272.5 160.5 L272.8 159.9 L273.0 159.1 L273.2 157.9 L273.5 155.9 L273.8 153.0 L274.0 149.4 L274.2 148.1 L274.5 150.8 L274.8 154.4 L275.0 157.0 L275.2 158.6 L275.5 159.6 L275.8 160.2 L276.0 160.6 L276.2 160.9 L276.5 161.2 L276.8 161.3 L277.0 161.4 L277.2 161.4 L277.5 161.5 L277.8 161.5 L278.0 161.4 L278.2 161.4 L278.5 161.4 L278.8 161.5 L279.0 161.6 L279.2 161.7 L279.5 161.8 L279.8 161.7 L280.0 161.6 L280.2 161.6 L280.5 161.5 L280.8 161.6 L281.0 161.7 L281.2 161.7 L281.5 161.8 L281.8 161.8 L282.0 161.8 L282.2 161.8 L282.5 161.8 L282.8 161.7 L283.0 161.7 L283.2 161.6 L283.5 161.6 L283.8 161.7 L284.0 161.7 L284.2 161.7 L284.5 161.8 L284.8 161.7 L285.0 161.7 L285.2 161.6 L285.5 161.6 L285.8 161.6 L286.0 161.6 L286.2 161.7 L286.5 161.7 L286.8 161.6 L287.0 161.5 L287.2 161.4 L287.5 161.3 L287.8 161.2 L288.0 161.2 L288.2 161.1 L288.5 161.0 L288.8 161.0 L289.0 160.9 L289.2 160.9 L289.5 160.8 L289.8 160.7 L290.0 160.5 L290.2 160.2 L290.5 159.9 L290.8 159.7 L291.0 159.3 L291.2 158.8 L291.5 158.2 L291.8 157.4 L292.0 156.4 L292.2 155.0 L292.5 153.0 L292.8 150.0 L293.0 146.0 L293.2 141.0 L293.5 135.9 L293.8 133.2 L294.0 134.5 L294.2 139.0 L294.5 144.1 L294.8 148.3 L295.0 151.6 L295.2 153.9 L295.5 155.6 L295.8 156.8 L296.0 157.7 L296.2 158.4 L296.5 159.0 L296.8 159.4 L297.0 159.7 L297.2 160.0 L297.5 160.2 L297.8 160.3 L298.0 160.4 L298.2 160.4 L298.5 160.5 L298.8 160.7 L299.0 160.9 L299.2 161.0 L299.5 161.2 L299.8 161.2 L300.0 161.1 L300.2 161.0 L300.5 160.9 L300.8 160.8 L301.0 160.7 L301.2 160.5 L301.5 160.2 L301.8 159.7 L302.0 159.0 L302.2 157.7 L302.5 155.7 L302.8 153.1 L303.0 151.6 L303.2 153.0 L303.5 155.6 L303.8 157.6 L304.0 158.9 L304.2 159.6 L304.5 160.1 L304.8 160.3 L305.0 160.3 L305.2 160.1 L305.5 159.6 L305.8 158.9 L306.0 158.6 L306.2 159.1 L306.5 159.9 L306.8 160.5 L307.0 160.8 L307.2 161.0 L307.5 161.2 L307.8 161.3 L308.0 161.3 L308.2 161.4 L308.5 161.4 L308.8 161.4 L309.0 161.4 L309.2 161.5 L309.5 161.5 L309.8 161.4 L310.0 161.4 L310.2 161.3 L310.5 161.3 L310.8 161.3 L311.0 161.3 L311.2 161.2 L311.5 161.1 L311.8 160.8 L312.0 160.3 L312.2 159.5 L312.5 158.3 L312.8 157.0 L313.0 156.9 L313.2 158.0 L313.5 159.3 L313.8 160.2 L314.0 160.7 L314.2 161.1 L314.5 161.3 L314.8 161.5 L315.0 161.6 L315.2 161.7 L315.5 161.7 L315.8 161.7 L316.0 161.7 L316.2 161.7 L316.5 161.7 L316.8 161.7 L317.0 161.8 L317.2 161.9 L317.5 161.9 L317.8 161.9 L318.0 161.9 L318.2 161.9 L318.5 161.9 L318.8 161.9 L319.0 162.0 L319.2 162.0 L319.5 162.0 L319.8 161.9 L320.0 161.8 L320.2 161.8 L320.5 161.7 L320.8 161.7 L321.0 161.8 L321.2 161.9 L321.5 161.9 L321.8 161.9 L322.0 161.9 L322.2 162.0 L322.5 162.0 L322.8 162.0 L323.0 162.0 L323.2 162.0 L323.5 161.9 L323.8 161.9 L324.0 161.9 L324.2 161.9 L324.5 161.9 L324.8 161.9 L325.0 161.9 L325.2 161.9 L325.5 161.9 L325.8 161.9 L326.0 162.0 L326.2 162.1 L326.5 162.1 L326.8 162.1 L327.0 162.1 L327.2 162.0 L327.5 162.0 L327.8 161.9 L328.0 161.9 L328.2 161.8 L328.5 161.7 L328.8 161.7 L329.0 161.6 L329.2 161.6 L329.5 161.5 L329.8 161.5 L330.0 161.4 L330.2 161.3 L330.5 161.1 L330.8 160.7 L331.0 160.0 L331.2 158.9 L331.5 157.6 L331.8 157.2 L332.0 158.2 L332.2 159.4 L332.5 160.3 L332.8 160.9 L333.0 161.3 L333.2 161.6 L333.5 161.8 L333.8 161.8 L334.0 161.8 L334.2 161.8 L334.5 161.8 L334.8 161.8 L335.0 161.9 L335.2 161.9 L335.5 162.0 L335.8 161.9 L336.0 161.9 L336.2 161.8 L336.5 161.8 L336.8 161.8 L337.0 161.9 L337.2 161.9 L337.5 161.9 L337.8 161.9 L338.0 161.9 L338.2 161.9 L338.5 161.9 L338.8 162.0 L339.0 162.0 L339.2 162.1 L339.5 162.1 L339.8 162.1 L340.0 162.0 L340.2 162.0 L340.5 161.9 L340.8 162.0 L341.0 162.1 L341.2 162.1 L341.5 162.2 L341.8 162.1 L342.0 162.0 L342.2 162.0 L342.5 161.9 L342.8 161.9 L343.0 161.8 L343.2 161.8 L343.5 161.8 L343.8 161.8 L344.0 161.9 L344.2 162.0 L344.5 162.1 L344.8 162.0 L345.0 161.9 L345.2 161.9 L345.5 161.8 L345.8 161.8 L346.0 161.7 L346.2 161.7 L346.5 161.7 L346.8 161.7 L347.0 161.8 L347.2 161.8 L347.5 161.8 L347.8 161.7 L348.0 161.7 L348.2 161.6 L348.5 161.4 L348.8 161.3 L349.0 161.2 L349.2 160.9 L349.5 160.5 L349.8 159.7 L350.0 158.8 L350.2 158.5 L350.5 159.2 L350.8 160.2 L351.0 160.9 L351.2 161.3 L351.5 161.6 L351.8 161.7 L352.0 161.8 L352.2 161.8 L352.5 161.9 L352.8 161.9 L353.0 162.0 L353.2 162.0 L353.5 162.0 L353.8 161.9 L354.0 161.8 L354.2 161.7 L354.5 161.6 L354.8 161.6 L355.0 161.7 L355.2 161.8 L355.5 161.8 L355.8 161.8 L356.0 161.8 L356.2 161.9 L356.5 161.9 L356.8 161.9 L357.0 161.9 L357.2 161.9 L357.5 161.9 L357.8 161.7 L358.0 161.5 L358.2 161.1 L358.5 160.7 L358.8 160.3 L359.0 160.0 L359.2 160.1 L359.5 160.7 L359.8 161.1 L360.0 161.3 L360.2 161.4 L360.5 161.4 L360.8 161.5 L361.0 161.6 L361.2 161.6 L361.5 161.7 L361.8 161.7 L362.0 161.8 L362.2 161.8 L362.5 161.8 L362.8 161.9 L363.0 161.9 L363.2 161.9 L363.5 161.9 L363.8 161.9 L364.0 161.9 L364.2 161.9 L364.5 161.8 L364.8 161.9 L365.0 161.9 L365.2 161.9 L365.5 161.9 L365.8 161.8 L366.0 161.7 L366.2 161.6 L366.5 161.4 L366.8 161.2 L367.0 161.0 L367.2 160.6 L367.5 159.9 L367.8 159.2 L368.0 158.7 L368.2 159.2 L368.5 160.0 L368.8 160.6 L369.0 161.0 L369.2 161.2 L369.5 161.3 L369.8 161.5 L370.0 161.6 L370.2 161.7 L370.5 161.8 L370.8 161.8 L371.0 161.8 L371.2 161.7 L371.5 161.7 L371.8 161.7 L372.0 161.8 L372.2 161.8 L372.5 161.9 L372.8 161.8 L373.0 161.8 L373.2 161.8 L373.5 161.7 L373.8 161.6 L374.0 161.6 L374.2 161.5 L374.5 161.4 L374.8 161.3 L375.0 161.2 L375.2 161.0 L375.5 160.9 L375.8 160.8 L376.0 160.7 L376.2 160.5 L376.5 160.3 L376.8 159.8 L377.0 159.1 L377.2 158.1 L377.5 156.3 L377.8 153.7 L378.0 149.9 L378.2 147.0 L378.5 148.3 L378.8 151.7 L379.0 154.4 L379.2 155.7 L379.5 155.8 L379.8 155.0 L380.0 153.2 L380.2 151.8 L380.5 153.0 L380.8 155.5 L381.0 157.6 L381.2 159.0 L381.5 159.8 L381.8 160.4 L382.0 160.7 L382.2 161.0 L382.5 161.2 L382.8 161.3 L383.0 161.3 L383.2 161.3 L383.5 161.3 L383.8 161.4 L384.0 161.4 L384.2 161.4 L384.5 161.4 L384.8 161.3 L385.0 161.1 L385.2 160.8 L385.5 160.4 L385.8 159.8 L386.0 159.1 L386.2 158.8 L386.5 159.5 L386.8 160.2 L387.0 160.8 L387.2 161.1 L387.5 161.3 L387.8 161.4 L388.0 161.5 L388.2 161.5 L388.5 161.5 L388.8 161.6 L389.0 161.6 L389.2 161.7 L389.5 161.7 L389.8 161.7 L390.0 161.7 L390.2 161.8 L390.5 161.8 L390.8 161.8 L391.0 161.7 L391.2 161.7 L391.5 161.7 L391.8 161.8 L392.0 161.8 L392.2 161.8 L392.5 161.9 L392.8 161.9 L393.0 162.0 L393.2 162.0 L393.5 162.1 L393.8 162.1 L394.0 162.1 L394.2 162.0 L394.5 162.0 L394.8 162.1 L395.0 162.1 L395.2 162.1 L395.5 162.2 L395.8 162.1 L396.0 162.0 L396.2 162.0 L396.5 161.9 L396.8 161.9 L397.0 162.0 L397.2 162.0 L397.5 162.0 L397.8 162.0 L398.0 162.0 L398.2 161.9 L398.5 161.9 L398.8 161.9 L399.0 161.9 L399.2 161.9 L399.5 161.9" stroke="#0b6a22" stroke-width="1.7"/>
<path d="M32.5 193.4 L32.8 193.3 L33.0 193.3 L33.2 193.3 L33.5 193.2 L33.8 193.3 L34.0 193.4 L34.2 193.4 L34.5 193.5 L34.8 193.4 L35.0 193.4 L35.2 193.3 L35.5 193.3 L35.8 193.3 L36.0 193.3 L36.2 193.4 L36.5 193.4 L36.8 193.4 L37.0 193.4 L37.2 193.4 L37.5 193.4 L37.8 193.3 L38.0 193.3 L38.2 193.2 L38.5 193.1 L38.8 193.2 L39.0 193.2 L39.2 193.3 L39.5 193.3 L39.8 193.3 L40.0 193.3 L40.2 193.3 L40.5 193.3 L40.8 193.2 L41.0 193.2 L41.2 193.1 L41.5 193.1 L41.8 193.0 L42.0 192.9 L42.2 192.7 L42.5 192.5 L42.8 192.1 L43.0 191.6 L43.2 190.8 L43.5 190.4 L43.8 190.8 L44.0 191.6 L44.2 192.2 L44.5 192.5 L44.8 192.8 L45.0 193.0 L45.2 193.1 L45.5 193.2 L45.8 193.3 L46.0 193.3 L46.2 193.3 L46.5 193.3 L46.8 193.3 L47.0 193.3 L47.2 193.4 L47.5 193.4 L47.8 193.4 L48.0 193.4 L48.2 193.5 L48.5 193.5 L48.8 193.5 L49.0 193.5 L49.2 193.5 L49.5 193.5 L49.8 193.5 L50.0 193.5 L50.2 193.5 L50.5 193.5 L50.8 193.5 L51.0 193.5 L51.2 193.4 L51.5 193.4 L51.8 193.4 L52.0 193.4 L52.2 193.4 L52.5 193.4 L52.8 193.4 L53.0 193.4 L53.2 193.4 L53.5 193.4 L53.8 193.4 L54.0 193.4 L54.2 193.4 L54.5 193.4 L54.8 193.4 L55.0 193.4 L55.2 193.5 L55.5 193.5 L55.8 193.5 L56.0 193.5 L56.2 193.4 L56.5 193.4 L56.8 193.4 L57.0 193.4 L57.2 193.4 L57.5 193.3 L57.8 193.3 L58.0 193.3 L58.2 193.3 L58.5 193.3 L58.8 193.3 L59.0 193.4 L59.2 193.4 L59.5 193.5 L59.8 193.5 L60.0 193.4 L60.2 193.4 L60.5 193.4 L60.8 193.5 L61.0 193.5 L61.2 193.5 L61.5 193.6 L61.8 193.5 L62.0 193.5 L62.2 193.5 L62.5 193.4 L62.8 193.5 L63.0 193.5 L63.2 193.6 L63.5 193.6 L63.8 193.6 L64.0 193.6 L64.2 193.5 L64.5 193.5 L64.8 193.4 L65.0 193.4 L65.2 193.3 L65.5 193.2 L65.8 193.3 L66.0 193.4 L66.2 193.5 L66.5 193.6 L66.8 193.5 L67.0 193.4 L67.2 193.3 L67.5 193.3 L67.8 193.3 L68.0 193.3 L68.2 193.3 L68.5 193.3 L68.8 193.3 L69.0 193.3 L69.2 193.3 L69.5 193.4 L69.8 193.3 L70.0 193.3 L70.2 193.3 L70.5 193.3 L70.8 193.2 L71.0 193.2 L71.2 193.2 L71.5 193.2 L71.8 193.2 L72.0 193.2 L72.2 193.1 L72.5 193.1 L72.8 193.1 L73.0 193.1 L73.2 193.1 L73.5 193.1 L73.8 193.1 L74.0 193.0 L74.2 192.9 L74.5 192.7 L74.8 192.5 L75.0 192.2 L75.2 191.6 L75.5 190.7 L75.8 189.3 L76.0 188.1 L76.2 188.3 L76.5 189.6 L76.8 190.9 L77.0 191.7 L77.2 192.2 L77.5 192.5 L77.8 192.7 L78.0 192.9 L78.2 193.0 L78.5 193.1 L78.8 193.1 L79.0 193.1 L79.2 193.0 L79.5 193.0 L79.8 193.1 L80.0 193.2 L80.2 193.3 L80.5 193.4 L80.8 193.4 L81.0 193.4 L81.2 193.3 L81.5 193.3 L81.8 193.3 L82.0 193.3 L82.2 193.3 L82.5 193.3 L82.8 193.3 L83.0 193.3 L83.2 193.4 L83.5 193.4 L83.8 193.3 L84.0 193.1 L84.2 193.0 L84.5 192.9 L84.8 193.0 L85.0 193.1 L85.2 193.2 L85.5 193.3 L85.8 193.2 L86.0 193.1 L86.2 193.0 L86.5 192.9 L86.8 192.8 L87.0 192.7 L87.2 192.6 L87.5 192.5 L87.8 192.3 L88.0 192.1 L88.2 191.8 L88.5 191.5 L88.8 191.2 L89.0 190.7 L89.2 190.0 L89.5 188.9 L89.8 186.9 L90.0 183.5 L90.2 177.0 L90.5 162.6 L90.8 129.1 L91.0 92.4 L91.2 129.2 L91.5 162.8 L91.8 177.1 L92.0 183.5 L92.2 186.8 L92.5 188.7 L92.8 189.9 L93.0 190.7 L93.2 191.3 L93.5 191.7 L93.8 192.0 L94.0 192.2 L94.2 192.3 L94.5 192.4 L94.8 192.6 L95.0 192.7 L95.2 192.8 L95.5 193.0 L95.8 193.0 L96.0 193.0 L96.2 193.0 L96.5 193.0 L96.8 193.0 L97.0 193.0 L97.2 193.1 L97.5 193.1 L97.8 193.0 L98.0 193.0 L98.2 193.0 L98.5 193.0 L98.8 193.1 L99.0 193.2 L99.2 193.3 L99.5 193.5 L99.8 193.4 L100.0 193.3 L100.2 193.2 L100.5 193.1 L100.8 193.1 L101.0 193.1 L101.2 193.1 L101.5 193.1 L101.8 193.2 L102.0 193.2 L102.2 193.3 L102.5 193.3 L102.8 193.3 L103.0 193.3 L103.2 193.3 L103.5 193.2 L103.8 193.3 L104.0 193.3 L104.2 193.3 L104.5 193.3 L104.8 193.3 L105.0 193.2 L105.2 193.1 L105.5 193.1 L105.8 193.1 L106.0 193.2 L106.2 193.2 L106.5 193.2 L106.8 193.2 L107.0 193.3 L107.2 193.3 L107.5 193.3 L107.8 193.3 L108.0 193.3 L108.2 193.3 L108.5 193.3 L108.8 193.3 L109.0 193.2 L109.2 193.2 L109.5 193.2 L109.8 193.2 L110.0 193.2 L110.2 193.2 L110.5 193.2 L110.8 193.2 L111.0 193.2 L111.2 193.2 L111.5 193.2 L111.8 193.1 L112.0 193.0 L112.2 192.9 L112.5 192.8 L112.8 192.9 L113.0 192.9 L113.2 193.0 L113.5 193.1 L113.8 193.1 L114.0 193.0 L114.2 193.0 L114.5 193.0 L114.8 192.7 L115.0 192.5 L115.2 192.2 L115.5 191.8 L115.8 191.5 L116.0 191.1 L116.2 190.4 L116.5 189.5 L116.8 188.1 L117.0 185.9 L117.2 182.4 L117.5 176.8 L117.8 169.5 L118.0 165.3 L118.2 169.5 L118.5 176.8 L118.8 182.4 L119.0 186.0 L119.2 188.1 L119.5 189.5 L119.8 190.4 L120.0 191.0 L120.2 191.5 L120.5 191.8 L120.8 192.0 L121.0 192.2 L121.2 192.3 L121.5 192.4 L121.8 192.6 L122.0 192.7 L122.2 192.8 L122.5 192.9 L122.8 192.9 L123.0 193.0 L123.2 193.0 L123.5 193.0 L123.8 193.0 L124.0 192.9 L124.2 192.9 L124.5 192.8 L124.8 192.9 L125.0 192.9 L125.2 193.0 L125.5 193.0 L125.8 193.0 L126.0 193.1 L126.2 193.1 L126.5 193.1 L126.8 193.0 L127.0 192.9 L127.2 192.8 L127.5 192.7 L127.8 192.7 L128.0 192.7 L128.2 192.6 L128.5 192.6 L128.8 192.5 L129.0 192.4 L129.2 192.1 L129.5 191.8 L129.8 191.3 L130.0 190.5 L130.2 189.1 L130.5 186.9 L130.8 184.0 L131.0 182.3 L131.2 183.9 L131.5 186.8 L131.8 189.0 L132.0 190.4 L132.2 191.3 L132.5 191.9 L132.8 192.2 L133.0 192.5 L133.2 192.7 L133.5 192.8 L133.8 192.9 L134.0 193.0 L134.2 193.0 L134.5 193.1 L134.8 193.1 L135.0 193.1 L135.2 193.1 L135.5 193.1 L135.8 193.1 L136.0 193.0 L136.2 193.0 L136.5 193.0 L136.8 193.0 L137.0 193.0 L137.2 193.1 L137.5 193.1 L137.8 193.1 L138.0 193.2 L138.2 193.2 L138.5 193.2 L138.8 193.1 L139.0 193.0 L139.2 192.9 L139.5 192.8 L139.8 192.8 L140.0 192.8 L140.2 192.7 L140.5 192.6 L140.8 192.5 L141.0 192.4 L141.2 192.2 L141.5 191.9 L141.8 191.6 L142.0 191.2 L142.2 190.6 L142.5 189.7 L142.8 188.4 L143.0 186.3 L143.2 182.9 L143.5 177.7 L143.8 172.1 L144.0 171.4 L144.2 176.5 L144.5 182.1 L144.8 185.9 L145.0 188.2 L145.2 189.6 L145.5 190.6 L145.8 191.2 L146.0 191.7 L146.2 192.1 L146.5 192.3 L146.8 192.5 L147.0 192.6 L147.2 192.6 L147.5 192.7 L147.8 192.7 L148.0 192.8 L148.2 192.8 L148.5 192.8 L148.8 192.9 L149.0 193.0 L149.2 193.0 L149.5 193.1 L149.8 193.1 L150.0 193.2 L150.2 193.2 L150.5 193.2 L150.8 193.2 L151.0 193.2 L151.2 193.3 L151.5 193.3 L151.8 193.3 L152.0 193.3 L152.2 193.3 L152.5 193.4 L152.8 193.4 L153.0 193.4 L153.2 193.4 L153.5 193.4 L153.8 193.4 L154.0 193.4 L154.2 193.4 L154.5 193.3 L154.8 193.4 L155.0 193.4 L155.2 193.4 L155.5 193.4 L155.8 193.4 L156.0 193.4 L156.2 193.4 L156.5 193.4 L156.8 193.4 L157.0 193.4 L157.2 193.5 L157.5 193.5 L157.8 193.5 L158.0 193.4 L158.2 193.4 L158.5 193.3 L158.8 193.3 L159.0 193.3 L159.2 193.3 L159.5 193.3 L159.8 193.4 L160.0 193.4 L160.2 193.4 L160.5 193.5 L160.8 193.5 L161.0 193.5 L161.2 193.6 L161.5 193.6 L161.8 193.5 L162.0 193.5 L162.2 193.4 L162.5 193.3 L162.8 193.3 L163.0 193.3 L163.2 193.2 L163.5 193.2 L163.8 193.3 L164.0 193.3 L164.2 193.3 L164.5 193.4 L164.8 193.4 L165.0 193.4 L165.2 193.3 L165.5 193.3 L165.8 193.3 L166.0 193.3 L166.2 193.2 L166.5 193.2 L166.8 193.0 L167.0 192.8 L167.2 192.6 L167.5 192.1 L167.8 191.6 L168.0 191.4 L168.2 191.7 L168.5 192.3 L168.8 192.6 L169.0 192.8 L169.2 192.9 L169.5 193.0 L169.8 193.1 L170.0 193.2 L170.2 193.2 L170.5 193.3 L170.8 193.3 L171.0 193.3 L171.2 193.2 L171.5 193.2 L171.8 193.3 L172.0 193.3 L172.2 193.3 L172.5 193.3 L172.8 193.4 L173.0 193.4 L173.2 193.4 L173.5 193.4 L173.8 193.4 L174.0 193.5 L174.2 193.5 L174.5 193.5 L174.8 193.5 L175.0 193.5 L175.2 193.5 L175.5 193.4 L175.8 193.4 L176.0 193.4 L176.2 193.4 L176.5 193.4 L176.8 193.4 L177.0 193.3 L177.2 193.3 L177.5 193.3 L177.8 193.3 L178.0 193.3 L178.2 193.3 L178.5 193.3 L178.8 193.4 L179.0 193.4 L179.2 193.4 L179.5 193.5 L179.8 193.4 L180.0 193.4 L180.2 193.4 L180.5 193.3 L180.8 193.3 L181.0 193.3 L181.2 193.3 L181.5 193.3 L181.8 193.3 L182.0 193.3 L182.2 193.4 L182.5 193.4 L182.8 193.4 L183.0 193.4 L183.2 193.4 L183.5 193.4 L183.8 193.4 L184.0 193.4 L184.2 193.4 L184.5 193.4 L184.8 193.4 L185.0 193.3 L185.2 193.3 L185.5 193.3 L185.8 193.3 L186.0 193.3 L186.2 193.3 L186.5 193.3 L186.8 193.3 L187.0 193.4 L187.2 193.4 L187.5 193.4 L187.8 193.4 L188.0 193.4 L188.2 193.3 L188.5 193.3 L188.8 193.3 L189.0 193.3 L189.2 193.3 L189.5 193.2 L189.8 193.2 L190.0 193.1 L190.2 192.9 L190.5 192.6 L190.8 192.1 L191.0 191.9 L191.2 192.0 L191.5 192.4 L191.8 192.7 L192.0 192.9 L192.2 193.0 L192.5 193.1 L192.8 193.2 L193.0 193.3 L193.2 193.3 L193.5 193.4 L193.8 193.4 L194.0 193.4 L194.2 193.3 L194.5 193.3 L194.8 193.3 L195.0 193.3 L195.2 193.3 L195.5 193.3 L195.8 193.3 L196.0 193.4 L196.2 193.4 L196.5 193.4 L196.8 193.4 L197.0 193.4 L197.2 193.4 L197.5 193.4 L197.8 193.4 L198.0 193.3 L198.2 193.3 L198.5 193.3 L198.8 193.3 L199.0 193.4 L199.2 193.5 L199.5 193.5 L199.8 193.5 L200.0 193.4 L200.2 193.3 L200.5 193.2 L200.8 193.2 L201.0 193.1 L201.2 193.0 L201.5 192.8 L201.8 192.6 L202.0 192.5 L202.2 192.6 L202.5 192.9 L202.8 193.1 L203.0 193.2 L203.2 193.3 L203.5 193.4 L203.8 193.4 L204.0 193.4 L204.2 193.3 L204.5 193.3 L204.8 193.3 L205.0 193.4 L205.2 193.4 L205.5 193.4 L205.8 193.4 L206.0 193.4 L206.2 193.3 L206.5 193.3 L206.8 193.3 L207.0 193.3 L207.2 193.3 L207.5 193.3 L207.8 193.3 L208.0 193.3 L208.2 193.3 L208.5 193.3 L208.8 193.4 L209.0 193.4 L209.2 193.4 L209.5 193.4 L209.8 193.4 L210.0 193.4 L210.2 193.4 L210.5 193.4 L210.8 193.3 L211.0 193.2 L211.2 193.1 L211.5 193.0 L211.8 192.9 L212.0 192.8 L212.2 192.5 L212.5 192.3 L212.8 192.3 L213.0 192.6 L213.2 192.8 L213.5 193.0 L213.8 193.1 L214.0 193.1 L214.2 193.2 L214.5 193.2 L214.8 193.3 L215.0 193.3 L215.2 193.3 L215.5 193.4 L215.8 193.3 L216.0 193.2 L216.2 193.2 L216.5 193.1 L216.8 193.2 L217.0 193.2 L217.2 193.3 L217.5 193.3 L217.8 193.3 L218.0 193.2 L218.2 193.2 L218.5 193.1 L218.8 193.2 L219.0 193.3 L219.2 193.5 L219.5 193.6 L219.8 193.6 L220.0 193.6 L220.2 193.6 L220.5 193.6 L220.8 193.5 L221.0 193.4 L221.2 193.3 L221.5 193.2 L221.8 193.1 L222.0 193.1 L222.2 193.0 L222.5 192.9 L222.8 192.8 L223.0 192.5 L223.2 192.2 L223.5 192.0 L223.8 192.2 L224.0 192.6 L224.2 192.9 L224.5 193.0 L224.8 193.2 L225.0 193.3 L225.2 193.4 L225.5 193.5 L225.8 193.5 L226.0 193.4 L226.2 193.4 L226.5 193.4 L226.8 193.4 L227.0 193.4 L227.2 193.5 L227.5 193.5 L227.8 193.4 L228.0 193.4 L228.2 193.4 L228.5 193.4 L228.8 193.4 L229.0 193.3 L229.2 193.3 L229.5 193.3 L229.8 193.3 L230.0 193.3 L230.2 193.3 L230.5 193.4 L230.8 193.4 L231.0 193.4 L231.2 193.3 L231.5 193.3 L231.8 193.4 L232.0 193.4 L232.2 193.4 L232.5 193.5 L232.8 193.4 L233.0 193.4 L233.2 193.4 L233.5 193.4 L233.8 193.4 L234.0 193.4 L234.2 193.4 L234.5 193.4 L234.8 193.4 L235.0 193.4 L235.2 193.4 L235.5 193.4 L235.8 193.4 L236.0 193.3 L236.2 193.3 L236.5 193.2 L236.8 193.3 L237.0 193.3 L237.2 193.4 L237.5 193.5 L237.8 193.4 L238.0 193.3 L238.2 193.2 L238.5 193.2 L238.8 193.2 L239.0 193.3 L239.2 193.4 L239.5 193.5 L239.8 193.4 L240.0 193.3 L240.2 193.3 L240.5 193.2 L240.8 193.3 L241.0 193.3 L241.2 193.3 L241.5 193.4 L241.8 193.3 L242.0 193.2 L242.2 193.1 L242.5 193.0 L242.8 193.0 L243.0 193.0 L243.2 192.9 L243.5 192.7 L243.8 192.4 L244.0 191.9 L244.2 191.3 L244.5 190.9 L244.8 191.3 L245.0 191.9 L245.2 192.4 L245.5 192.7 L245.8 192.9 L246.0 193.0 L246.2 193.2 L246.5 193.2 L246.8 193.3 L247.0 193.3 L247.2 193.4 L247.5 193.4 L247.8 193.4 L248.0 193.5 L248.2 193.5 L248.5 193.5 L248.8 193.5 L249.0 193.4 L249.2 193.3 L249.5 193.2 L249.8 193.3 L250.0 193.3 L250.2 193.4 L250.5 193.4 L250.8 193.4 L251.0 193.4 L251.2 193.4 L251.5 193.4 L251.8 193.4 L252.0 193.3 L252.2 193.3 L252.5 193.3 L252.8 193.2 L253.0 193.1 L253.2 193.1 L253.5 193.0 L253.8 193.0 L254.0 193.0 L254.2 192.9 L254.5 192.7 L254.8 192.5 L255.0 192.5 L255.2 192.7 L255.5 192.9 L255.8 193.1 L256.0 193.2 L256.2 193.2 L256.5 193.3 L256.8 193.3 L257.0 193.3 L257.2 193.2 L257.5 193.2 L257.8 193.3 L258.0 193.4 L258.2 193.4 L258.5 193.5 L258.8 193.4 L259.0 193.4 L259.2 193.4 L259.5 193.3 L259.8 193.3 L260.0 193.2 L260.2 193.2 L260.5 193.1 L260.8 193.1 L261.0 193.0 L261.2 193.0 L261.5 192.9 L261.8 192.9 L262.0 192.8 L262.2 192.7 L262.5 192.5 L262.8 192.3 L263.0 191.9 L263.2 191.3 L263.5 190.3 L263.8 189.2 L264.0 189.0 L264.2 190.0 L264.5 191.1 L264.8 191.9 L265.0 192.3 L265.2 192.6 L265.5 192.8 L265.8 193.0 L266.0 193.1 L266.2 193.2 L266.5 193.3 L266.8 193.3 L267.0 193.3 L267.2 193.3 L267.5 193.4 L267.8 193.3 L268.0 193.3 L268.2 193.2 L268.5 193.1 L268.8 193.2 L269.0 193.2 L269.2 193.2 L269.5 193.2 L269.8 193.2 L270.0 193.2 L270.2 193.2 L270.5 193.2 L270.8 193.1 L271.0 193.0 L271.2 193.0 L271.5 192.9 L271.8 192.9 L272.0 192.8 L272.2 192.8 L272.5 192.7 L272.8 192.4 L273.0 191.9 L273.2 191.3 L273.5 190.2 L273.8 188.7 L274.0 186.8 L274.2 186.2 L274.5 187.6 L274.8 189.4 L275.0 190.8 L275.2 191.6 L275.5 192.1 L275.8 192.4 L276.0 192.6 L276.2 192.7 L276.5 192.8 L276.8 192.9 L277.0 193.0 L277.2 193.1 L277.5 193.1 L277.8 193.1 L278.0 193.1 L278.2 193.2 L278.5 193.2 L278.8 193.2 L279.0 193.2 L279.2 193.2 L279.5 193.2 L279.8 193.2 L280.0 193.1 L280.2 193.1 L280.5 193.1 L280.8 193.1 L281.0 193.2 L281.2 193.2 L281.5 193.3 L281.8 193.3 L282.0 193.2 L282.2 193.2 L282.5 193.2 L282.8 193.2 L283.0 193.2 L283.2 193.2 L283.5 193.2 L283.8 193.2 L284.0 193.2 L284.2 193.3 L284.5 193.3 L284.8 193.3 L285.0 193.2 L285.2 193.2 L285.5 193.1 L285.8 193.2 L286.0 193.2 L286.2 193.3 L286.5 193.3 L286.8 193.2 L287.0 193.2 L287.2 193.1 L287.5 193.0 L287.8 193.0 L288.0 193.1 L288.2 193.1 L288.5 193.1 L288.8 193.1 L289.0 193.1 L289.2 193.0 L289.5 192.9 L289.8 192.9 L290.0 192.8 L290.2 192.7 L290.5 192.5 L290.8 192.4 L291.0 192.2 L291.2 192.0 L291.5 191.7 L291.8 191.3 L292.0 190.8 L292.2 190.0 L292.5 188.9 L292.8 187.2 L293.0 184.4 L293.2 179.8 L293.5 173.5 L293.8 168.8 L294.0 171.1 L294.2 177.5 L294.5 182.9 L294.8 186.3 L295.0 188.5 L295.2 189.8 L295.5 190.7 L295.8 191.3 L296.0 191.6 L296.2 191.9 L296.5 192.1 L296.8 192.3 L297.0 192.4 L297.2 192.5 L297.5 192.6 L297.8 192.7 L298.0 192.8 L298.2 192.9 L298.5 193.0 L298.8 193.0 L299.0 192.9 L299.2 192.9 L299.5 192.8 L299.8 192.9 L300.0 192.9 L300.2 192.9 L300.5 192.9 L300.8 192.8 L301.0 192.8 L301.2 192.7 L301.5 192.6 L301.8 192.3 L302.0 191.9 L302.2 191.2 L302.5 190.2 L302.8 188.9 L303.0 188.2 L303.2 189.0 L303.5 190.4 L303.8 191.3 L304.0 191.9 L304.2 192.2 L304.5 192.4 L304.8 192.4 L305.0 192.4 L305.2 192.2 L305.5 191.8 L305.8 191.4 L306.0 191.1 L306.2 191.5 L306.5 192.1 L306.8 192.5 L307.0 192.7 L307.2 192.8 L307.5 192.9 L307.8 193.0 L308.0 193.1 L308.2 193.1 L308.5 193.2 L308.8 193.1 L309.0 193.1 L309.2 193.0 L309.5 192.9 L309.8 193.0 L310.0 193.0 L310.2 193.0 L310.5 192.9 L310.8 192.8 L311.0 192.7 L311.2 192.5 L311.5 192.2 L311.8 191.8 L312.0 191.1 L312.2 190.1 L312.5 188.4 L312.8 186.6 L313.0 186.3 L313.2 188.0 L313.5 189.7 L313.8 190.9 L314.0 191.6 L314.2 192.1 L314.5 192.3 L314.8 192.6 L315.0 192.7 L315.2 192.8 L315.5 192.9 L315.8 193.0 L316.0 193.2 L316.2 193.3 L316.5 193.4 L316.8 193.3 L317.0 193.2 L317.2 193.2 L317.5 193.1 L317.8 193.1 L318.0 193.1 L318.2 193.2 L318.5 193.2 L318.8 193.2 L319.0 193.2 L319.2 193.3 L319.5 193.3 L319.8 193.3 L320.0 193.2 L320.2 193.2 L320.5 193.1 L320.8 193.2 L321.0 193.3 L321.2 193.4 L321.5 193.4 L321.8 193.4 L322.0 193.4 L322.2 193.3 L322.5 193.3 L322.8 193.3 L323.0 193.2 L323.2 193.2 L323.5 193.2 L323.8 193.2 L324.0 193.2 L324.2 193.2 L324.5 193.2 L324.8 193.1 L325.0 193.1 L325.2 193.1 L325.5 193.1 L325.8 193.2 L326.0 193.3 L326.2 193.3 L326.5 193.4 L326.8 193.4 L327.0 193.4 L327.2 193.4 L327.5 193.4 L327.8 193.3 L328.0 193.2 L328.2 193.1 L328.5 193.0 L328.8 193.0 L329.0 193.0 L329.2 193.0 L329.5 192.9 L329.8 192.7 L330.0 192.4 L330.2 192.1 L330.5 191.5 L330.8 190.8 L331.0 189.6 L331.2 187.6 L331.5 185.2 L331.8 184.3 L332.0 186.0 L332.2 188.3 L332.5 189.9 L332.8 191.0 L333.0 191.7 L333.2 192.1 L333.5 192.4 L333.8 192.6 L334.0 192.7 L334.2 192.8 L334.5 192.9 L334.8 193.0 L335.0 193.0 L335.2 193.1 L335.5 193.1 L335.8 193.2 L336.0 193.2 L336.2 193.2 L336.5 193.2 L336.8 193.3 L337.0 193.3 L337.2 193.3 L337.5 193.3 L337.8 193.3 L338.0 193.3 L338.2 193.3 L338.5 193.3 L338.8 193.3 L339.0 193.3 L339.2 193.3 L339.5 193.3 L339.8 193.3 L340.0 193.3 L340.2 193.3 L340.5 193.3 L340.8 193.3 L341.0 193.3 L341.2 193.4 L341.5 193.4 L341.8 193.3 L342.0 193.3 L342.2 193.2 L342.5 193.1 L342.8 193.2 L343.0 193.2 L343.2 193.3 L343.5 193.3 L343.8 193.3 L344.0 193.2 L344.2 193.2 L344.5 193.2 L344.8 193.2 L345.0 193.2 L345.2 193.2 L345.5 193.2 L345.8 193.2 L346.0 193.3 L346.2 193.3 L346.5 193.4 L346.8 193.4 L347.0 193.4 L347.2 193.4 L347.5 193.4 L347.8 193.3 L348.0 193.2 L348.2 193.0 L348.5 192.9 L348.8 192.8 L349.0 192.7 L349.2 192.5 L349.5 192.1 L349.8 191.5 L350.0 190.7 L350.2 190.4 L350.5 191.0 L350.8 191.7 L351.0 192.3 L351.2 192.6 L351.5 192.9 L351.8 193.0 L352.0 193.1 L352.2 193.1 L352.5 193.2 L352.8 193.2 L353.0 193.3 L353.2 193.3 L353.5 193.4 L353.8 193.4 L354.0 193.3 L354.2 193.3 L354.5 193.3 L354.8 193.3 L355.0 193.3 L355.2 193.3 L355.5 193.3 L355.8 193.3 L356.0 193.3 L356.2 193.3 L356.5 193.2 L356.8 193.3 L357.0 193.3 L357.2 193.4 L357.5 193.4 L357.8 193.2 L358.0 193.0 L358.2 192.7 L358.5 192.3 L358.8 191.8 L359.0 191.3 L359.2 191.4 L359.5 191.9 L359.8 192.5 L360.0 192.8 L360.2 193.1 L360.5 193.2 L360.8 193.3 L361.0 193.3 L361.2 193.3 L361.5 193.3 L361.8 193.3 L362.0 193.3 L362.2 193.3 L362.5 193.3 L362.8 193.3 L363.0 193.2 L363.2 193.2 L363.5 193.2 L363.8 193.2 L364.0 193.2 L364.2 193.3 L364.5 193.3 L364.8 193.2 L365.0 193.2 L365.2 193.1 L365.5 193.1 L365.8 193.1 L366.0 193.1 L366.2 193.0 L366.5 193.0 L366.8 192.9 L367.0 192.7 L367.2 192.4 L367.5 192.0 L367.8 191.3 L368.0 190.9 L368.2 191.3 L368.5 191.9 L368.8 192.4 L369.0 192.7 L369.2 192.8 L369.5 192.9 L369.8 193.0 L370.0 193.1 L370.2 193.2 L370.5 193.2 L370.8 193.2 L371.0 193.2 L371.2 193.2 L371.5 193.1 L371.8 193.1 L372.0 193.1 L372.2 193.1 L372.5 193.1 L372.8 193.1 L373.0 193.1 L373.2 193.1 L373.5 193.1 L373.8 193.1 L374.0 193.1 L374.2 193.0 L374.5 193.0 L374.8 193.0 L375.0 193.0 L375.2 193.0 L375.5 193.0 L375.8 192.9 L376.0 192.8 L376.2 192.7 L376.5 192.5 L376.8 192.2 L377.0 191.9 L377.2 191.3 L377.5 190.3 L377.8 188.8 L378.0 186.7 L378.2 185.0 L378.5 185.7 L378.8 187.8 L379.0 189.5 L379.2 190.4 L379.5 190.8 L379.8 190.6 L380.0 190.1 L380.2 189.7 L380.5 190.1 L380.8 191.0 L381.0 191.7 L381.2 192.2 L381.5 192.5 L381.8 192.7 L382.0 192.9 L382.2 193.0 L382.5 193.0 L382.8 193.0 L383.0 193.0 L383.2 192.9 L383.5 192.9 L383.8 192.8 L384.0 192.8 L384.2 192.7 L384.5 192.5 L384.8 192.4 L385.0 192.1 L385.2 191.6 L385.5 190.8 L385.8 189.5 L386.0 187.9 L386.2 187.3 L386.5 188.4 L386.8 189.9 L387.0 191.0 L387.2 191.7 L387.5 192.2 L387.8 192.5 L388.0 192.6 L388.2 192.8 L388.5 192.9 L388.8 193.0 L389.0 193.1 L389.2 193.2 L389.5 193.2 L389.8 193.3 L390.0 193.3 L390.2 193.4 L390.5 193.4 L390.8 193.4 L391.0 193.3 L391.2 193.3 L391.5 193.2 L391.8 193.2 L392.0 193.3 L392.2 193.3 L392.5 193.3 L392.8 193.3 L393.0 193.3 L393.2 193.3 L393.5 193.3 L393.8 193.3 L394.0 193.3 L394.2 193.3 L394.5 193.3 L394.8 193.3 L395.0 193.3 L395.2 193.2 L395.5 193.2 L395.8 193.3 L396.0 193.3 L396.2 193.3 L396.5 193.4 L396.8 193.4 L397.0 193.3 L397.2 193.3 L397.5 193.3 L397.8 193.3 L398.0 193.4 L398.2 193.4 L398.5 193.5 L398.8 193.5 L399.0 193.5 L399.2 193.6 L399.5 193.6" stroke="#e00606" stroke-width="1.5"/>
<path d="M32.5 223.4 L32.8 223.4 L33.0 223.4 L33.2 223.4 L33.5 223.4 L33.8 223.4 L34.0 223.4 L34.2 223.4 L34.5 223.4 L34.8 223.4 L35.0 223.4 L35.2 223.4 L35.5 223.4 L35.8 223.4 L36.0 223.4 L36.2 223.4 L36.5 223.4 L36.8 223.4 L37.0 223.4 L37.2 223.4 L37.5 223.4 L37.8 223.4 L38.0 223.4 L38.2 223.4 L38.5 223.4 L38.8 223.4 L39.0 223.4 L39.2 223.4 L39.5 223.4 L39.8 223.4 L40.0 223.4 L40.2 223.3 L40.5 223.3 L40.8 223.3 L41.0 223.3 L41.2 223.3 L41.5 223.3 L41.8 223.3 L42.0 223.2 L42.2 223.1 L42.5 223.0 L42.8 222.9 L43.0 222.6 L43.2 222.3 L43.5 222.1 L43.8 222.3 L44.0 222.6 L44.2 222.9 L44.5 223.0 L44.8 223.1 L45.0 223.2 L45.2 223.3 L45.5 223.3 L45.8 223.3 L46.0 223.3 L46.2 223.3 L46.5 223.3 L46.8 223.3 L47.0 223.3 L47.2 223.4 L47.5 223.4 L47.8 223.4 L48.0 223.4 L48.2 223.4 L48.5 223.4 L48.8 223.4 L49.0 223.4 L49.2 223.4 L49.5 223.4 L49.8 223.4 L50.0 223.4 L50.2 223.4 L50.5 223.4 L50.8 223.4 L51.0 223.4 L51.2 223.4 L51.5 223.4 L51.8 223.4 L52.0 223.4 L52.2 223.4 L52.5 223.4 L52.8 223.4 L53.0 223.4 L53.2 223.4 L53.5 223.4 L53.8 223.4 L54.0 223.4 L54.2 223.4 L54.5 223.4 L54.8 223.4 L55.0 223.4 L55.2 223.4 L55.5 223.4 L55.8 223.4 L56.0 223.4 L56.2 223.4 L56.5 223.4 L56.8 223.4 L57.0 223.4 L57.2 223.4 L57.5 223.4 L57.8 223.4 L58.0 223.4 L58.2 223.4 L58.5 223.4 L58.8 223.4 L59.0 223.4 L59.2 223.4 L59.5 223.4 L59.8 223.4 L60.0 223.4 L60.2 223.4 L60.5 223.4 L60.8 223.4 L61.0 223.4 L61.2 223.4 L61.5 223.4 L61.8 223.4 L62.0 223.4 L62.2 223.4 L62.5 223.4 L62.8 223.4 L63.0 223.4 L63.2 223.4 L63.5 223.4 L63.8 223.4 L64.0 223.4 L64.2 223.4 L64.5 223.4 L64.8 223.4 L65.0 223.4 L65.2 223.4 L65.5 223.4 L65.8 223.4 L66.0 223.3 L66.2 223.3 L66.5 223.3 L66.8 223.3 L67.0 223.3 L67.2 223.3 L67.5 223.3 L67.8 223.3 L68.0 223.3 L68.2 223.3 L68.5 223.3 L68.8 223.3 L69.0 223.3 L69.2 223.3 L69.5 223.3 L69.8 223.3 L70.0 223.3 L70.2 223.3 L70.5 223.3 L70.8 223.3 L71.0 223.3 L71.2 223.3 L71.5 223.2 L71.8 223.2 L72.0 223.2 L72.2 223.2 L72.5 223.2 L72.8 223.1 L73.0 223.1 L73.2 223.0 L73.5 223.0 L73.8 222.9 L74.0 222.8 L74.2 222.6 L74.5 222.4 L74.8 222.1 L75.0 221.7 L75.2 220.9 L75.5 219.6 L75.8 217.8 L76.0 216.1 L76.2 216.4 L76.5 218.2 L76.8 219.9 L77.0 221.1 L77.2 221.7 L77.5 222.2 L77.8 222.5 L78.0 222.7 L78.2 222.8 L78.5 222.9 L78.8 223.0 L79.0 223.0 L79.2 223.0 L79.5 223.1 L79.8 223.1 L80.0 223.1 L80.2 223.1 L80.5 223.2 L80.8 223.2 L81.0 223.2 L81.2 223.2 L81.5 223.2 L81.8 223.2 L82.0 223.2 L82.2 223.2 L82.5 223.2 L82.8 223.2 L83.0 223.2 L83.2 223.2 L83.5 223.1 L83.8 223.1 L84.0 223.1 L84.2 223.1 L84.5 223.1 L84.8 223.1 L85.0 223.0 L85.2 223.0 L85.5 223.0 L85.8 223.0 L86.0 222.9 L86.2 222.9 L86.5 222.8 L86.8 222.8 L87.0 222.7 L87.2 222.6 L87.5 222.5 L87.8 222.3 L88.0 222.2 L88.2 221.9 L88.5 221.6 L88.8 221.2 L89.0 220.7 L89.2 219.9 L89.5 218.7 L89.8 216.8 L90.0 213.4 L90.2 207.0 L90.5 192.7 L90.8 159.2 L91.0 122.4 L91.2 159.2 L91.5 192.7 L91.8 207.0 L92.0 213.4 L92.2 216.8 L92.5 218.7 L92.8 219.9 L93.0 220.7 L93.2 221.2 L93.5 221.6 L93.8 221.9 L94.0 222.2 L94.2 222.3 L94.5 222.5 L94.8 222.6 L95.0 222.7 L95.2 222.8 L95.5 222.8 L95.8 222.9 L96.0 222.9 L96.2 223.0 L96.5 223.0 L96.8 223.0 L97.0 223.1 L97.2 223.1 L97.5 223.1 L97.8 223.1 L98.0 223.1 L98.2 223.1 L98.5 223.2 L98.8 223.2 L99.0 223.2 L99.2 223.2 L99.5 223.2 L99.8 223.2 L100.0 223.2 L100.2 223.2 L100.5 223.2 L100.8 223.2 L101.0 223.2 L101.2 223.2 L101.5 223.2 L101.8 223.2 L102.0 223.3 L102.2 223.3 L102.5 223.3 L102.8 223.3 L103.0 223.3 L103.2 223.3 L103.5 223.3 L103.8 223.3 L104.0 223.3 L104.2 223.3 L104.5 223.3 L104.8 223.3 L105.0 223.3 L105.2 223.3 L105.5 223.3 L105.8 223.3 L106.0 223.3 L106.2 223.3 L106.5 223.3 L106.8 223.3 L107.0 223.3 L107.2 223.2 L107.5 223.2 L107.8 223.2 L108.0 223.2 L108.2 223.2 L108.5 223.2 L108.8 223.2 L109.0 223.2 L109.2 223.2 L109.5 223.2 L109.8 223.2 L110.0 223.2 L110.2 223.2 L110.5 223.2 L110.8 223.1 L111.0 223.1 L111.2 223.1 L111.5 223.1 L111.8 223.1 L112.0 223.1 L112.2 223.0 L112.5 223.0 L112.8 223.0 L113.0 222.9 L113.2 222.9 L113.5 222.8 L113.8 222.8 L114.0 222.7 L114.2 222.6 L114.5 222.5 L114.8 222.3 L115.0 222.2 L115.2 222.0 L115.5 221.7 L115.8 221.3 L116.0 220.8 L116.2 220.1 L116.5 219.1 L116.8 217.6 L117.0 215.3 L117.2 211.4 L117.5 205.3 L117.8 197.3 L118.0 192.8 L118.2 197.3 L118.5 205.3 L118.8 211.4 L119.0 215.2 L119.2 217.6 L119.5 219.1 L119.8 220.1 L120.0 220.8 L120.2 221.3 L120.5 221.7 L120.8 221.9 L121.0 222.2 L121.2 222.3 L121.5 222.5 L121.8 222.6 L122.0 222.7 L122.2 222.7 L122.5 222.8 L122.8 222.8 L123.0 222.9 L123.2 222.9 L123.5 223.0 L123.8 223.0 L124.0 223.0 L124.2 223.0 L124.5 223.0 L124.8 223.0 L125.0 223.1 L125.2 223.1 L125.5 223.1 L125.8 223.1 L126.0 223.1 L126.2 223.1 L126.5 223.1 L126.8 223.0 L127.0 223.0 L127.2 223.0 L127.5 223.0 L127.8 223.0 L128.0 222.9 L128.2 222.9 L128.5 222.8 L128.8 222.7 L129.0 222.5 L129.2 222.3 L129.5 222.1 L129.8 221.6 L130.0 221.0 L130.2 219.9 L130.5 218.1 L130.8 215.9 L131.0 214.6 L131.2 215.9 L131.5 218.1 L131.8 219.9 L132.0 221.0 L132.2 221.6 L132.5 222.1 L132.8 222.4 L133.0 222.6 L133.2 222.7 L133.5 222.8 L133.8 222.9 L134.0 222.9 L134.2 223.0 L134.5 223.0 L134.8 223.0 L135.0 223.1 L135.2 223.1 L135.5 223.1 L135.8 223.1 L136.0 223.1 L136.2 223.1 L136.5 223.1 L136.8 223.1 L137.0 223.1 L137.2 223.1 L137.5 223.1 L137.8 223.1 L138.0 223.1 L138.2 223.0 L138.5 223.0 L138.8 223.0 L139.0 223.0 L139.2 222.9 L139.5 222.9 L139.8 222.8 L140.0 222.8 L140.2 222.7 L140.5 222.6 L140.8 222.5 L141.0 222.3 L141.2 222.2 L141.5 221.9 L141.8 221.6 L142.0 221.2 L142.2 220.5 L142.5 219.6 L142.8 218.2 L143.0 215.9 L143.2 212.2 L143.5 206.6 L143.8 200.6 L144.0 199.8 L144.2 205.3 L144.5 211.3 L144.8 215.3 L145.0 217.8 L145.2 219.4 L145.5 220.4 L145.8 221.1 L146.0 221.5 L146.2 221.9 L146.5 222.1 L146.8 222.3 L147.0 222.5 L147.2 222.6 L147.5 222.7 L147.8 222.8 L148.0 222.9 L148.2 222.9 L148.5 223.0 L148.8 223.0 L149.0 223.0 L149.2 223.1 L149.5 223.1 L149.8 223.1 L150.0 223.1 L150.2 223.2 L150.5 223.2 L150.8 223.2 L151.0 223.2 L151.2 223.2 L151.5 223.2 L151.8 223.2 L152.0 223.2 L152.2 223.3 L152.5 223.3 L152.8 223.3 L153.0 223.3 L153.2 223.3 L153.5 223.3 L153.8 223.3 L154.0 223.3 L154.2 223.3 L154.5 223.3 L154.8 223.3 L155.0 223.3 L155.2 223.3 L155.5 223.3 L155.8 223.3 L156.0 223.3 L156.2 223.3 L156.5 223.3 L156.8 223.3 L157.0 223.3 L157.2 223.3 L157.5 223.3 L157.8 223.3 L158.0 223.3 L158.2 223.3 L158.5 223.3 L158.8 223.3 L159.0 223.3 L159.2 223.3 L159.5 223.3 L159.8 223.3 L160.0 223.3 L160.2 223.3 L160.5 223.3 L160.8 223.3 L161.0 223.3 L161.2 223.3 L161.5 223.3 L161.8 223.3 L162.0 223.3 L162.2 223.3 L162.5 223.3 L162.8 223.3 L163.0 223.3 L163.2 223.3 L163.5 223.3 L163.8 223.3 L164.0 223.3 L164.2 223.3 L164.5 223.3 L164.8 223.3 L165.0 223.3 L165.2 223.3 L165.5 223.3 L165.8 223.3 L166.0 223.2 L166.2 223.2 L166.5 223.1 L166.8 223.1 L167.0 222.9 L167.2 222.7 L167.5 222.4 L167.8 222.0 L168.0 221.8 L168.2 222.0 L168.5 222.4 L168.8 222.7 L169.0 223.0 L169.2 223.1 L169.5 223.2 L169.8 223.2 L170.0 223.2 L170.2 223.3 L170.5 223.3 L170.8 223.3 L171.0 223.3 L171.2 223.3 L171.5 223.3 L171.8 223.3 L172.0 223.3 L172.2 223.3 L172.5 223.3 L172.8 223.4 L173.0 223.4 L173.2 223.4 L173.5 223.4 L173.8 223.4 L174.0 223.4 L174.2 223.4 L174.5 223.4 L174.8 223.4 L175.0 223.4 L175.2 223.4 L175.5 223.4 L175.8 223.4 L176.0 223.4 L176.2 223.4 L176.5 223.4 L176.8 223.4 L177.0 223.4 L177.2 223.4 L177.5 223.4 L177.8 223.4 L178.0 223.4 L178.2 223.4 L178.5 223.4 L178.8 223.4 L179.0 223.4 L179.2 223.4 L179.5 223.4 L179.8 223.4 L180.0 223.4 L180.2 223.4 L180.5 223.4 L180.8 223.4 L181.0 223.4 L181.2 223.4 L181.5 223.4 L181.8 223.4 L182.0 223.4 L182.2 223.4 L182.5 223.4 L182.8 223.4 L183.0 223.4 L183.2 223.4 L183.5 223.4 L183.8 223.4 L184.0 223.4 L184.2 223.4 L184.5 223.4 L184.8 223.4 L185.0 223.4 L185.2 223.4 L185.5 223.4 L185.8 223.4 L186.0 223.4 L186.2 223.4 L186.5 223.4 L186.8 223.4 L187.0 223.4 L187.2 223.3 L187.5 223.3 L187.8 223.3 L188.0 223.3 L188.2 223.3 L188.5 223.3 L188.8 223.3 L189.0 223.3 L189.2 223.2 L189.5 223.2 L189.8 223.1 L190.0 223.0 L190.2 222.8 L190.5 222.5 L190.8 222.1 L191.0 221.9 L191.2 222.1 L191.5 222.5 L191.8 222.8 L192.0 223.0 L192.2 223.1 L192.5 223.2 L192.8 223.2 L193.0 223.3 L193.2 223.3 L193.5 223.3 L193.8 223.3 L194.0 223.3 L194.2 223.3 L194.5 223.3 L194.8 223.3 L195.0 223.3 L195.2 223.4 L195.5 223.4 L195.8 223.4 L196.0 223.4 L196.2 223.4 L196.5 223.4 L196.8 223.4 L197.0 223.4 L197.2 223.4 L197.5 223.4 L197.8 223.4 L198.0 223.4 L198.2 223.4 L198.5 223.4 L198.8 223.3 L199.0 223.3 L199.2 223.3 L199.5 223.3 L199.8 223.3 L200.0 223.3 L200.2 223.3 L200.5 223.3 L200.8 223.2 L201.0 223.1 L201.2 223.0 L201.5 222.8 L201.8 222.6 L202.0 222.5 L202.2 222.6 L202.5 222.8 L202.8 223.0 L203.0 223.1 L203.2 223.2 L203.5 223.3 L203.8 223.3 L204.0 223.3 L204.2 223.3 L204.5 223.3 L204.8 223.3 L205.0 223.3 L205.2 223.3 L205.5 223.3 L205.8 223.4 L206.0 223.4 L206.2 223.4 L206.5 223.4 L206.8 223.4 L207.0 223.4 L207.2 223.4 L207.5 223.4 L207.8 223.4 L208.0 223.4 L208.2 223.3 L208.5 223.3 L208.8 223.3 L209.0 223.3 L209.2 223.3 L209.5 223.3 L209.8 223.3 L210.0 223.3 L210.2 223.3 L210.5 223.3 L210.8 223.2 L211.0 223.2 L211.2 223.1 L211.5 223.0 L211.8 222.9 L212.0 222.6 L212.2 222.2 L212.5 221.8 L212.8 221.9 L213.0 222.3 L213.2 222.6 L213.5 222.9 L213.8 223.0 L214.0 223.1 L214.2 223.2 L214.5 223.2 L214.8 223.3 L215.0 223.3 L215.2 223.3 L215.5 223.3 L215.8 223.3 L216.0 223.3 L216.2 223.3 L216.5 223.3 L216.8 223.3 L217.0 223.3 L217.2 223.4 L217.5 223.4 L217.8 223.4 L218.0 223.4 L218.2 223.4 L218.5 223.4 L218.8 223.4 L219.0 223.4 L219.2 223.4 L219.5 223.3 L219.8 223.3 L220.0 223.3 L220.2 223.3 L220.5 223.3 L220.8 223.3 L221.0 223.3 L221.2 223.3 L221.5 223.3 L221.8 223.3 L222.0 223.2 L222.2 223.2 L222.5 223.1 L222.8 222.9 L223.0 222.7 L223.2 222.4 L223.5 222.2 L223.8 222.4 L224.0 222.7 L224.2 222.9 L224.5 223.1 L224.8 223.2 L225.0 223.2 L225.2 223.3 L225.5 223.3 L225.8 223.3 L226.0 223.3 L226.2 223.3 L226.5 223.3 L226.8 223.3 L227.0 223.3 L227.2 223.4 L227.5 223.4 L227.8 223.4 L228.0 223.4 L228.2 223.4 L228.5 223.4 L228.8 223.4 L229.0 223.4 L229.2 223.4 L229.5 223.4 L229.8 223.4 L230.0 223.4 L230.2 223.4 L230.5 223.4 L230.8 223.4 L231.0 223.4 L231.2 223.4 L231.5 223.4 L231.8 223.4 L232.0 223.4 L232.2 223.4 L232.5 223.4 L232.8 223.4 L233.0 223.4 L233.2 223.4 L233.5 223.4 L233.8 223.4 L234.0 223.4 L234.2 223.4 L234.5 223.4 L234.8 223.4 L235.0 223.4 L235.2 223.4 L235.5 223.4 L235.8 223.4 L236.0 223.4 L236.2 223.4 L236.5 223.4 L236.8 223.4 L237.0 223.4 L237.2 223.4 L237.5 223.4 L237.8 223.4 L238.0 223.4 L238.2 223.4 L238.5 223.4 L238.8 223.4 L239.0 223.4 L239.2 223.4 L239.5 223.4 L239.8 223.3 L240.0 223.3 L240.2 223.3 L240.5 223.3 L240.8 223.3 L241.0 223.3 L241.2 223.3 L241.5 223.3 L241.8 223.3 L242.0 223.3 L242.2 223.2 L242.5 223.2 L242.8 223.1 L243.0 223.1 L243.2 223.0 L243.5 222.8 L243.8 222.5 L244.0 222.1 L244.2 221.5 L244.5 221.2 L244.8 221.5 L245.0 222.1 L245.2 222.5 L245.5 222.8 L245.8 223.0 L246.0 223.1 L246.2 223.1 L246.5 223.2 L246.8 223.2 L247.0 223.3 L247.2 223.3 L247.5 223.3 L247.8 223.3 L248.0 223.3 L248.2 223.3 L248.5 223.3 L248.8 223.3 L249.0 223.3 L249.2 223.3 L249.5 223.3 L249.8 223.3 L250.0 223.3 L250.2 223.3 L250.5 223.3 L250.8 223.3 L251.0 223.3 L251.2 223.3 L251.5 223.3 L251.8 223.3 L252.0 223.3 L252.2 223.3 L252.5 223.3 L252.8 223.3 L253.0 223.3 L253.2 223.3 L253.5 223.2 L253.8 223.2 L254.0 223.1 L254.2 222.9 L254.5 222.7 L254.8 222.6 L255.0 222.6 L255.2 222.8 L255.5 223.0 L255.8 223.1 L256.0 223.2 L256.2 223.2 L256.5 223.2 L256.8 223.3 L257.0 223.3 L257.2 223.3 L257.5 223.3 L257.8 223.3 L258.0 223.3 L258.2 223.3 L258.5 223.3 L258.8 223.3 L259.0 223.3 L259.2 223.3 L259.5 223.3 L259.8 223.2 L260.0 223.2 L260.2 223.2 L260.5 223.2 L260.8 223.2 L261.0 223.1 L261.2 223.1 L261.5 223.0 L261.8 223.0 L262.0 222.9 L262.2 222.7 L262.5 222.5 L262.8 222.2 L263.0 221.7 L263.2 220.8 L263.5 219.5 L263.8 218.2 L264.0 218.0 L264.2 219.2 L264.5 220.6 L264.8 221.5 L265.0 222.1 L265.2 222.4 L265.5 222.7 L265.8 222.8 L266.0 222.9 L266.2 223.0 L266.5 223.1 L266.8 223.1 L267.0 223.1 L267.2 223.2 L267.5 223.2 L267.8 223.2 L268.0 223.2 L268.2 223.2 L268.5 223.2 L268.8 223.2 L269.0 223.2 L269.2 223.2 L269.5 223.2 L269.8 223.2 L270.0 223.2 L270.2 223.2 L270.5 223.1 L270.8 223.1 L271.0 223.1 L271.2 223.0 L271.5 223.0 L271.8 222.9 L272.0 222.8 L272.2 222.7 L272.5 222.5 L272.8 222.3 L273.0 221.9 L273.2 221.3 L273.5 220.3 L273.8 218.7 L274.0 216.9 L274.2 216.2 L274.5 217.6 L274.8 219.4 L275.0 220.8 L275.2 221.6 L275.5 222.1 L275.8 222.4 L276.0 222.6 L276.2 222.8 L276.5 222.9 L276.8 223.0 L277.0 223.0 L277.2 223.1 L277.5 223.1 L277.8 223.1 L278.0 223.2 L278.2 223.2 L278.5 223.2 L278.8 223.2 L279.0 223.2 L279.2 223.2 L279.5 223.2 L279.8 223.2 L280.0 223.3 L280.2 223.3 L280.5 223.3 L280.8 223.3 L281.0 223.3 L281.2 223.3 L281.5 223.3 L281.8 223.3 L282.0 223.3 L282.2 223.3 L282.5 223.3 L282.8 223.3 L283.0 223.3 L283.2 223.3 L283.5 223.3 L283.8 223.3 L284.0 223.2 L284.2 223.2 L284.5 223.2 L284.8 223.2 L285.0 223.2 L285.2 223.2 L285.5 223.2 L285.8 223.2 L286.0 223.2 L286.2 223.2 L286.5 223.2 L286.8 223.2 L287.0 223.1 L287.2 223.1 L287.5 223.1 L287.8 223.1 L288.0 223.1 L288.2 223.0 L288.5 223.0 L288.8 223.0 L289.0 222.9 L289.2 222.9 L289.5 222.8 L289.8 222.8 L290.0 222.7 L290.2 222.6 L290.5 222.5 L290.8 222.3 L291.0 222.1 L291.2 221.9 L291.5 221.6 L291.8 221.1 L292.0 220.6 L292.2 219.7 L292.5 218.4 L292.8 216.5 L293.0 213.3 L293.2 208.1 L293.5 200.9 L293.8 195.5 L294.0 198.1 L294.2 205.4 L294.5 211.5 L294.8 215.3 L295.0 217.7 L295.2 219.2 L295.5 220.2 L295.8 220.9 L296.0 221.4 L296.2 221.7 L296.5 222.0 L296.8 222.2 L297.0 222.3 L297.2 222.5 L297.5 222.6 L297.8 222.6 L298.0 222.7 L298.2 222.7 L298.5 222.8 L298.8 222.8 L299.0 222.8 L299.2 222.8 L299.5 222.8 L299.8 222.8 L300.0 222.8 L300.2 222.7 L300.5 222.7 L300.8 222.6 L301.0 222.5 L301.2 222.3 L301.5 222.0 L301.8 221.6 L302.0 221.0 L302.2 220.0 L302.5 218.3 L302.8 216.2 L303.0 214.9 L303.2 216.1 L303.5 218.3 L303.8 219.9 L304.0 220.9 L304.2 221.4 L304.5 221.7 L304.8 221.9 L305.0 221.8 L305.2 221.6 L305.5 221.1 L305.8 220.4 L306.0 220.0 L306.2 220.5 L306.5 221.3 L306.8 221.9 L307.0 222.3 L307.2 222.6 L307.5 222.7 L307.8 222.8 L308.0 222.9 L308.2 223.0 L308.5 223.0 L308.8 223.0 L309.0 223.1 L309.2 223.1 L309.5 223.1 L309.8 223.1 L310.0 223.1 L310.2 223.0 L310.5 223.0 L310.8 223.0 L311.0 222.9 L311.2 222.8 L311.5 222.7 L311.8 222.4 L312.0 222.1 L312.2 221.5 L312.5 220.5 L312.8 219.5 L313.0 219.4 L313.2 220.3 L313.5 221.3 L313.8 222.0 L314.0 222.4 L314.2 222.7 L314.5 222.8 L314.8 222.9 L315.0 223.0 L315.2 223.1 L315.5 223.1 L315.8 223.2 L316.0 223.2 L316.2 223.2 L316.5 223.2 L316.8 223.2 L317.0 223.3 L317.2 223.3 L317.5 223.3 L317.8 223.3 L318.0 223.3 L318.2 223.3 L318.5 223.3 L318.8 223.3 L319.0 223.3 L319.2 223.3 L319.5 223.3 L319.8 223.3 L320.0 223.3 L320.2 223.3 L320.5 223.3 L320.8 223.3 L321.0 223.3 L321.2 223.3 L321.5 223.3 L321.8 223.3 L322.0 223.3 L322.2 223.3 L322.5 223.3 L322.8 223.3 L323.0 223.3 L323.2 223.3 L323.5 223.3 L323.8 223.3 L324.0 223.3 L324.2 223.3 L324.5 223.3 L324.8 223.3 L325.0 223.3 L325.2 223.3 L325.5 223.3 L325.8 223.3 L326.0 223.3 L326.2 223.3 L326.5 223.3 L326.8 223.3 L327.0 223.3 L327.2 223.3 L327.5 223.3 L327.8 223.3 L328.0 223.3 L328.2 223.3 L328.5 223.2 L328.8 223.2 L329.0 223.2 L329.2 223.1 L329.5 223.1 L329.8 223.0 L330.0 222.9 L330.2 222.8 L330.5 222.6 L330.8 222.2 L331.0 221.7 L331.2 220.8 L331.5 219.8 L331.8 219.4 L332.0 220.2 L332.2 221.2 L332.5 221.9 L332.8 222.4 L333.0 222.7 L333.2 222.9 L333.5 223.0 L333.8 223.1 L334.0 223.1 L334.2 223.2 L334.5 223.2 L334.8 223.2 L335.0 223.2 L335.2 223.3 L335.5 223.3 L335.8 223.3 L336.0 223.3 L336.2 223.3 L336.5 223.3 L336.8 223.3 L337.0 223.3 L337.2 223.3 L337.5 223.3 L337.8 223.3 L338.0 223.3 L338.2 223.3 L338.5 223.3 L338.8 223.3 L339.0 223.4 L339.2 223.4 L339.5 223.4 L339.8 223.4 L340.0 223.4 L340.2 223.4 L340.5 223.4 L340.8 223.4 L341.0 223.4 L341.2 223.4 L341.5 223.4 L341.8 223.4 L342.0 223.4 L342.2 223.4 L342.5 223.4 L342.8 223.4 L343.0 223.4 L343.2 223.4 L343.5 223.4 L343.8 223.4 L344.0 223.4 L344.2 223.4 L344.5 223.4 L344.8 223.4 L345.0 223.4 L345.2 223.4 L345.5 223.3 L345.8 223.3 L346.0 223.3 L346.2 223.3 L346.5 223.3 L346.8 223.3 L347.0 223.3 L347.2 223.3 L347.5 223.3 L347.8 223.3 L348.0 223.3 L348.2 223.2 L348.5 223.2 L348.8 223.1 L349.0 223.0 L349.2 222.9 L349.5 222.7 L349.8 222.3 L350.0 221.8 L350.2 221.7 L350.5 222.0 L350.8 222.5 L351.0 222.8 L351.2 223.0 L351.5 223.1 L351.8 223.2 L352.0 223.2 L352.2 223.2 L352.5 223.3 L352.8 223.3 L353.0 223.3 L353.2 223.3 L353.5 223.3 L353.8 223.3 L354.0 223.3 L354.2 223.3 L354.5 223.3 L354.8 223.3 L355.0 223.3 L355.2 223.3 L355.5 223.3 L355.8 223.3 L356.0 223.3 L356.2 223.3 L356.5 223.3 L356.8 223.3 L357.0 223.3 L357.2 223.3 L357.5 223.2 L357.8 223.2 L358.0 223.1 L358.2 223.0 L358.5 222.9 L358.8 222.6 L359.0 222.4 L359.2 222.4 L359.5 222.7 L359.8 222.9 L360.0 223.1 L360.2 223.1 L360.5 223.2 L360.8 223.2 L361.0 223.3 L361.2 223.3 L361.5 223.3 L361.8 223.3 L362.0 223.3 L362.2 223.3 L362.5 223.3 L362.8 223.3 L363.0 223.3 L363.2 223.3 L363.5 223.3 L363.8 223.3 L364.0 223.3 L364.2 223.3 L364.5 223.3 L364.8 223.3 L365.0 223.3 L365.2 223.3 L365.5 223.3 L365.8 223.2 L366.0 223.2 L366.2 223.2 L366.5 223.1 L366.8 223.0 L367.0 222.9 L367.2 222.7 L367.5 222.3 L367.8 221.9 L368.0 221.6 L368.2 221.9 L368.5 222.3 L368.8 222.7 L369.0 222.9 L369.2 223.0 L369.5 223.1 L369.8 223.1 L370.0 223.2 L370.2 223.2 L370.5 223.2 L370.8 223.2 L371.0 223.2 L371.2 223.2 L371.5 223.2 L371.8 223.2 L372.0 223.2 L372.2 223.2 L372.5 223.2 L372.8 223.2 L373.0 223.2 L373.2 223.2 L373.5 223.2 L373.8 223.2 L374.0 223.1 L374.2 223.1 L374.5 223.1 L374.8 223.0 L375.0 223.0 L375.2 222.9 L375.5 222.9 L375.8 222.8 L376.0 222.7 L376.2 222.5 L376.5 222.3 L376.8 222.0 L377.0 221.5 L377.2 220.8 L377.5 219.6 L377.8 217.7 L378.0 215.1 L378.2 213.1 L378.5 214.0 L378.8 216.4 L379.0 218.4 L379.2 219.5 L379.5 219.9 L379.8 219.7 L380.0 219.1 L380.2 218.5 L380.5 219.1 L380.8 220.2 L381.0 221.2 L381.2 221.8 L381.5 222.2 L381.8 222.5 L382.0 222.6 L382.2 222.7 L382.5 222.8 L382.8 222.9 L383.0 222.9 L383.2 223.0 L383.5 223.0 L383.8 223.0 L384.0 223.0 L384.2 222.9 L384.5 222.9 L384.8 222.8 L385.0 222.6 L385.2 222.3 L385.5 221.9 L385.8 221.2 L386.0 220.3 L386.2 220.0 L386.5 220.7 L386.8 221.5 L387.0 222.1 L387.2 222.5 L387.5 222.7 L387.8 222.9 L388.0 223.0 L388.2 223.1 L388.5 223.1 L388.8 223.2 L389.0 223.2 L389.2 223.2 L389.5 223.2 L389.8 223.3 L390.0 223.3 L390.2 223.3 L390.5 223.3 L390.8 223.3 L391.0 223.3 L391.2 223.3 L391.5 223.3 L391.8 223.3 L392.0 223.3 L392.2 223.3 L392.5 223.3 L392.8 223.3 L393.0 223.3 L393.2 223.3 L393.5 223.3 L393.8 223.4 L394.0 223.4 L394.2 223.4 L394.5 223.4 L394.8 223.4 L395.0 223.4 L395.2 223.4 L395.5 223.4 L395.8 223.4 L396.0 223.4 L396.2 223.4 L396.5 223.4 L396.8 223.4 L397.0 223.4 L397.2 223.4 L397.5 223.4 L397.8 223.4 L398.0 223.4 L398.2 223.4 L398.5 223.4 L398.8 223.4 L399.0 223.4 L399.2 223.4 L399.5 223.4" stroke="#000" stroke-width="1.4"/>
<path d="M32.5 248.4 L32.8 248.4 L33.0 248.4 L33.2 248.4 L33.5 248.4 L33.8 248.4 L34.0 248.3 L34.2 248.3 L34.5 248.2 L34.8 248.3 L35.0 248.4 L35.2 248.5 L35.5 248.6 L35.8 248.5 L36.0 248.4 L36.2 248.4 L36.5 248.3 L36.8 248.4 L37.0 248.4 L37.2 248.5 L37.5 248.6 L37.8 248.5 L38.0 248.3 L38.2 248.2 L38.5 248.1 L38.8 248.2 L39.0 248.2 L39.2 248.2 L39.5 248.2 L39.8 248.2 L40.0 248.2 L40.2 248.1 L40.5 248.1 L40.8 248.1 L41.0 248.2 L41.2 248.2 L41.5 248.2 L41.8 248.1 L42.0 248.1 L42.2 247.9 L42.5 247.8 L42.8 247.6 L43.0 247.2 L43.2 246.8 L43.5 246.5 L43.8 246.8 L44.0 247.3 L44.2 247.7 L44.5 247.9 L44.8 248.0 L45.0 248.1 L45.2 248.1 L45.5 248.1 L45.8 248.2 L46.0 248.3 L46.2 248.3 L46.5 248.4 L46.8 248.4 L47.0 248.3 L47.2 248.3 L47.5 248.3 L47.8 248.3 L48.0 248.2 L48.2 248.2 L48.5 248.2 L48.8 248.2 L49.0 248.2 L49.2 248.3 L49.5 248.3 L49.8 248.3 L50.0 248.3 L50.2 248.3 L50.5 248.3 L50.8 248.3 L51.0 248.2 L51.2 248.1 L51.5 248.0 L51.8 248.1 L52.0 248.2 L52.2 248.2 L52.5 248.3 L52.8 248.3 L53.0 248.3 L53.2 248.3 L53.5 248.4 L53.8 248.3 L54.0 248.3 L54.2 248.3 L54.5 248.3 L54.8 248.3 L55.0 248.3 L55.2 248.3 L55.5 248.4 L55.8 248.4 L56.0 248.4 L56.2 248.3 L56.5 248.3 L56.8 248.3 L57.0 248.3 L57.2 248.3 L57.5 248.3 L57.8 248.3 L58.0 248.2 L58.2 248.1 L58.5 248.1 L58.8 248.1 L59.0 248.2 L59.2 248.2 L59.5 248.3 L59.8 248.3 L60.0 248.3 L60.2 248.3 L60.5 248.3 L60.8 248.3 L61.0 248.3 L61.2 248.2 L61.5 248.2 L61.8 248.2 L62.0 248.1 L62.2 248.1 L62.5 248.1 L62.8 248.1 L63.0 248.2 L63.2 248.3 L63.5 248.3 L63.8 248.3 L64.0 248.4 L64.2 248.4 L64.5 248.4 L64.8 248.3 L65.0 248.2 L65.2 248.1 L65.5 248.0 L65.8 248.1 L66.0 248.3 L66.2 248.4 L66.5 248.5 L66.8 248.5 L67.0 248.4 L67.2 248.4 L67.5 248.4 L67.8 248.3 L68.0 248.3 L68.2 248.3 L68.5 248.2 L68.8 248.2 L69.0 248.1 L69.2 248.1 L69.5 248.1 L69.8 248.2 L70.0 248.3 L70.2 248.4 L70.5 248.5 L70.8 248.5 L71.0 248.6 L71.2 248.6 L71.5 248.6 L71.8 248.6 L72.0 248.5 L72.2 248.4 L72.5 248.3 L72.8 248.4 L73.0 248.4 L73.2 248.5 L73.5 248.5 L73.8 248.6 L74.0 248.6 L74.2 248.7 L74.5 248.7 L74.8 248.8 L75.0 249.0 L75.2 249.2 L75.5 249.5 L75.8 249.9 L76.0 250.2 L76.2 250.2 L76.5 249.9 L76.8 249.5 L77.0 249.2 L77.2 248.9 L77.5 248.8 L77.8 248.7 L78.0 248.6 L78.2 248.6 L78.5 248.6 L78.8 248.5 L79.0 248.4 L79.2 248.3 L79.5 248.3 L79.8 248.2 L80.0 248.2 L80.2 248.2 L80.5 248.2 L80.8 248.2 L81.0 248.3 L81.2 248.3 L81.5 248.3 L81.8 248.4 L82.0 248.4 L82.2 248.4 L82.5 248.4 L82.8 248.3 L83.0 248.3 L83.2 248.3 L83.5 248.2 L83.8 248.2 L84.0 248.2 L84.2 248.3 L84.5 248.3 L84.8 248.3 L85.0 248.3 L85.2 248.4 L85.5 248.4 L85.8 248.4 L86.0 248.4 L86.2 248.4 L86.5 248.4 L86.8 248.3 L87.0 248.3 L87.2 248.2 L87.5 248.2 L87.8 248.2 L88.0 248.2 L88.2 248.2 L88.5 248.2 L88.8 248.2 L89.0 248.1 L89.2 248.0 L89.5 247.8 L89.8 247.3 L90.0 246.3 L90.2 243.7 L90.5 236.8 L90.8 232.8 L91.0 245.6 L91.2 257.1 L91.5 260.3 L91.8 255.2 L92.0 251.7 L92.2 250.2 L92.5 249.4 L92.8 249.1 L93.0 248.9 L93.2 248.8 L93.5 248.8 L93.8 248.6 L94.0 248.5 L94.2 248.3 L94.5 248.2 L94.8 248.2 L95.0 248.3 L95.2 248.3 L95.5 248.3 L95.8 248.4 L96.0 248.4 L96.2 248.4 L96.5 248.4 L96.8 248.4 L97.0 248.3 L97.2 248.3 L97.5 248.2 L97.8 248.2 L98.0 248.2 L98.2 248.3 L98.5 248.3 L98.8 248.3 L99.0 248.3 L99.2 248.3 L99.5 248.3 L99.8 248.3 L100.0 248.2 L100.2 248.2 L100.5 248.2 L100.8 248.1 L101.0 248.1 L101.2 248.1 L101.5 248.0 L101.8 248.1 L102.0 248.1 L102.2 248.2 L102.5 248.2 L102.8 248.2 L103.0 248.2 L103.2 248.1 L103.5 248.1 L103.8 248.1 L104.0 248.1 L104.2 248.1 L104.5 248.0 L104.8 248.1 L105.0 248.2 L105.2 248.3 L105.5 248.4 L105.8 248.4 L106.0 248.4 L106.2 248.4 L106.5 248.4 L106.8 248.3 L107.0 248.3 L107.2 248.3 L107.5 248.2 L107.8 248.3 L108.0 248.4 L108.2 248.4 L108.5 248.5 L108.8 248.5 L109.0 248.4 L109.2 248.4 L109.5 248.3 L109.8 248.3 L110.0 248.2 L110.2 248.2 L110.5 248.2 L110.8 248.2 L111.0 248.2 L111.2 248.2 L111.5 248.2 L111.8 248.2 L112.0 248.2 L112.2 248.2 L112.5 248.2 L112.8 248.3 L113.0 248.4 L113.2 248.5 L113.5 248.6 L113.8 248.4 L114.0 248.3 L114.2 248.2 L114.5 248.1 L114.8 248.1 L115.0 248.2 L115.2 248.3 L115.5 248.3 L115.8 248.4 L116.0 248.4 L116.2 248.5 L116.5 248.6 L116.8 248.8 L117.0 249.1 L117.2 249.7 L117.5 250.6 L117.8 251.0 L118.0 250.1 L118.2 249.0 L118.5 248.3 L118.8 248.2 L119.0 248.4 L119.2 248.4 L119.5 248.5 L119.8 248.5 L120.0 248.5 L120.2 248.5 L120.5 248.5 L120.8 248.4 L121.0 248.3 L121.2 248.2 L121.5 248.1 L121.8 248.2 L122.0 248.2 L122.2 248.3 L122.5 248.4 L122.8 248.4 L123.0 248.4 L123.2 248.3 L123.5 248.3 L123.8 248.3 L124.0 248.3 L124.2 248.3 L124.5 248.3 L124.8 248.3 L125.0 248.3 L125.2 248.2 L125.5 248.2 L125.8 248.2 L126.0 248.2 L126.2 248.2 L126.5 248.2 L126.8 248.2 L127.0 248.2 L127.2 248.2 L127.5 248.2 L127.8 248.2 L128.0 248.2 L128.2 248.3 L128.5 248.3 L128.8 248.3 L129.0 248.3 L129.2 248.3 L129.5 248.3 L129.8 248.2 L130.0 248.0 L130.2 247.8 L130.5 247.5 L130.8 246.0 L131.0 243.4 L131.2 242.2 L131.5 243.7 L131.8 245.5 L132.0 246.5 L132.2 247.1 L132.5 247.4 L132.8 247.6 L133.0 247.8 L133.2 247.9 L133.5 248.0 L133.8 248.1 L134.0 248.2 L134.2 248.2 L134.5 248.2 L134.8 248.2 L135.0 248.2 L135.2 248.2 L135.5 248.2 L135.8 248.2 L136.0 248.3 L136.2 248.4 L136.5 248.4 L136.8 248.4 L137.0 248.4 L137.2 248.4 L137.5 248.4 L137.8 248.4 L138.0 248.4 L138.2 248.4 L138.5 248.4 L138.8 248.3 L139.0 248.3 L139.2 248.3 L139.5 248.2 L139.8 248.2 L140.0 248.1 L140.2 248.0 L140.5 248.0 L140.8 248.0 L141.0 248.0 L141.2 248.0 L141.5 248.1 L141.8 248.0 L142.0 247.9 L142.2 247.8 L142.5 247.6 L142.8 247.4 L143.0 246.9 L143.2 245.9 L143.5 244.6 L143.8 245.1 L144.0 247.0 L144.2 248.8 L144.5 249.5 L144.8 249.0 L145.0 248.6 L145.2 248.4 L145.5 248.4 L145.8 248.3 L146.0 248.3 L146.2 248.3 L146.5 248.3 L146.8 248.4 L147.0 248.4 L147.2 248.5 L147.5 248.6 L147.8 248.5 L148.0 248.5 L148.2 248.5 L148.5 248.4 L148.8 248.4 L149.0 248.4 L149.2 248.4 L149.5 248.4 L149.8 248.4 L150.0 248.3 L150.2 248.3 L150.5 248.2 L150.8 248.2 L151.0 248.2 L151.2 248.2 L151.5 248.2 L151.8 248.2 L152.0 248.2 L152.2 248.2 L152.5 248.2 L152.8 248.1 L153.0 248.1 L153.2 248.1 L153.5 248.1 L153.8 248.2 L154.0 248.2 L154.2 248.3 L154.5 248.3 L154.8 248.3 L155.0 248.2 L155.2 248.2 L155.5 248.2 L155.8 248.1 L156.0 248.1 L156.2 248.1 L156.5 248.1 L156.8 248.1 L157.0 248.2 L157.2 248.2 L157.5 248.3 L157.8 248.3 L158.0 248.2 L158.2 248.2 L158.5 248.2 L158.8 248.2 L159.0 248.2 L159.2 248.3 L159.5 248.3 L159.8 248.4 L160.0 248.4 L160.2 248.4 L160.5 248.5 L160.8 248.4 L161.0 248.4 L161.2 248.3 L161.5 248.3 L161.8 248.3 L162.0 248.3 L162.2 248.4 L162.5 248.4 L162.8 248.4 L163.0 248.3 L163.2 248.3 L163.5 248.3 L163.8 248.3 L164.0 248.3 L164.2 248.3 L164.5 248.3 L164.8 248.3 L165.0 248.3 L165.2 248.2 L165.5 248.2 L165.8 248.3 L166.0 248.3 L166.2 248.4 L166.5 248.4 L166.8 248.3 L167.0 248.1 L167.2 247.9 L167.5 247.6 L167.8 247.4 L168.0 247.3 L168.2 247.4 L168.5 247.7 L168.8 247.9 L169.0 248.0 L169.2 248.1 L169.5 248.2 L169.8 248.3 L170.0 248.3 L170.2 248.3 L170.5 248.4 L170.8 248.3 L171.0 248.3 L171.2 248.3 L171.5 248.3 L171.8 248.3 L172.0 248.2 L172.2 248.2 L172.5 248.2 L172.8 248.2 L173.0 248.2 L173.2 248.2 L173.5 248.2 L173.8 248.2 L174.0 248.2 L174.2 248.2 L174.5 248.2 L174.8 248.3 L175.0 248.4 L175.2 248.5 L175.5 248.5 L175.8 248.5 L176.0 248.5 L176.2 248.5 L176.5 248.4 L176.8 248.4 L177.0 248.3 L177.2 248.2 L177.5 248.1 L177.8 248.2 L178.0 248.2 L178.2 248.2 L178.5 248.3 L178.8 248.3 L179.0 248.4 L179.2 248.4 L179.5 248.5 L179.8 248.5 L180.0 248.4 L180.2 248.4 L180.5 248.4 L180.8 248.4 L181.0 248.4 L181.2 248.5 L181.5 248.5 L181.8 248.5 L182.0 248.4 L182.2 248.4 L182.5 248.4 L182.8 248.4 L183.0 248.3 L183.2 248.2 L183.5 248.2 L183.8 248.2 L184.0 248.2 L184.2 248.3 L184.5 248.3 L184.8 248.3 L185.0 248.2 L185.2 248.2 L185.5 248.2 L185.8 248.2 L186.0 248.2 L186.2 248.2 L186.5 248.3 L186.8 248.3 L187.0 248.4 L187.2 248.4 L187.5 248.5 L187.8 248.5 L188.0 248.4 L188.2 248.4 L188.5 248.4 L188.8 248.3 L189.0 248.2 L189.2 248.1 L189.5 248.0 L189.8 248.1 L190.0 248.2 L190.2 248.3 L190.5 248.4 L190.8 248.4 L191.0 248.4 L191.2 248.4 L191.5 248.4 L191.8 248.4 L192.0 248.3 L192.2 248.2 L192.5 248.1 L192.8 248.2 L193.0 248.2 L193.2 248.3 L193.5 248.3 L193.8 248.3 L194.0 248.3 L194.2 248.3 L194.5 248.3 L194.8 248.3 L195.0 248.2 L195.2 248.2 L195.5 248.1 L195.8 248.2 L196.0 248.3 L196.2 248.4 L196.5 248.5 L196.8 248.4 L197.0 248.4 L197.2 248.3 L197.5 248.2 L197.8 248.3 L198.0 248.3 L198.2 248.4 L198.5 248.4 L198.8 248.4 L199.0 248.4 L199.2 248.5 L199.5 248.5 L199.8 248.5 L200.0 248.4 L200.2 248.4 L200.5 248.4 L200.8 248.3 L201.0 248.3 L201.2 248.2 L201.5 248.2 L201.8 248.2 L202.0 248.2 L202.2 248.3 L202.5 248.3 L202.8 248.4 L203.0 248.4 L203.2 248.5 L203.5 248.5 L203.8 248.5 L204.0 248.5 L204.2 248.5 L204.5 248.4 L204.8 248.4 L205.0 248.3 L205.2 248.2 L205.5 248.1 L205.8 248.1 L206.0 248.1 L206.2 248.2 L206.5 248.2 L206.8 248.2 L207.0 248.3 L207.2 248.4 L207.5 248.4 L207.8 248.3 L208.0 248.2 L208.2 248.1 L208.5 248.0 L208.8 248.1 L209.0 248.2 L209.2 248.3 L209.5 248.3 L209.8 248.4 L210.0 248.4 L210.2 248.4 L210.5 248.4 L210.8 248.4 L211.0 248.4 L211.2 248.3 L211.5 248.3 L211.8 248.3 L212.0 248.3 L212.2 248.2 L212.5 248.2 L212.8 248.2 L213.0 248.1 L213.2 248.1 L213.5 248.1 L213.8 248.1 L214.0 248.1 L214.2 248.2 L214.5 248.2 L214.8 248.2 L215.0 248.3 L215.2 248.3 L215.5 248.4 L215.8 248.4 L216.0 248.4 L216.2 248.4 L216.5 248.4 L216.8 248.4 L217.0 248.4 L217.2 248.5 L217.5 248.5 L217.8 248.4 L218.0 248.4 L218.2 248.4 L218.5 248.3 L218.8 248.3 L219.0 248.3 L219.2 248.4 L219.5 248.4 L219.8 248.3 L220.0 248.3 L220.2 248.3 L220.5 248.3 L220.8 248.3 L221.0 248.4 L221.2 248.4 L221.5 248.5 L221.8 248.4 L222.0 248.4 L222.2 248.4 L222.5 248.4 L222.8 248.4 L223.0 248.4 L223.2 248.4 L223.5 248.4 L223.8 248.4 L224.0 248.4 L224.2 248.4 L224.5 248.4 L224.8 248.4 L225.0 248.4 L225.2 248.4 L225.5 248.4 L225.8 248.4 L226.0 248.4 L226.2 248.4 L226.5 248.4 L226.8 248.4 L227.0 248.4 L227.2 248.4 L227.5 248.4 L227.8 248.4 L228.0 248.3 L228.2 248.3 L228.5 248.2 L228.8 248.2 L229.0 248.3 L229.2 248.3 L229.5 248.3 L229.8 248.3 L230.0 248.4 L230.2 248.4 L230.5 248.5 L230.8 248.4 L231.0 248.3 L231.2 248.3 L231.5 248.2 L231.8 248.2 L232.0 248.2 L232.2 248.3 L232.5 248.3 L232.8 248.2 L233.0 248.2 L233.2 248.2 L233.5 248.1 L233.8 248.2 L234.0 248.2 L234.2 248.3 L234.5 248.3 L234.8 248.3 L235.0 248.3 L235.2 248.3 L235.5 248.3 L235.8 248.3 L236.0 248.4 L236.2 248.4 L236.5 248.4 L236.8 248.4 L237.0 248.3 L237.2 248.3 L237.5 248.3 L237.8 248.3 L238.0 248.3 L238.2 248.2 L238.5 248.2 L238.8 248.2 L239.0 248.3 L239.2 248.3 L239.5 248.3 L239.8 248.3 L240.0 248.3 L240.2 248.3 L240.5 248.3 L240.8 248.3 L241.0 248.3 L241.2 248.2 L241.5 248.2 L241.8 248.2 L242.0 248.2 L242.2 248.2 L242.5 248.2 L242.8 248.2 L243.0 248.2 L243.2 248.2 L243.5 248.1 L243.8 248.1 L244.0 248.0 L244.2 247.9 L244.5 247.8 L244.8 247.9 L245.0 248.0 L245.2 248.1 L245.5 248.1 L245.8 248.2 L246.0 248.3 L246.2 248.3 L246.5 248.4 L246.8 248.4 L247.0 248.4 L247.2 248.4 L247.5 248.4 L247.8 248.4 L248.0 248.3 L248.2 248.3 L248.5 248.3 L248.8 248.2 L249.0 248.2 L249.2 248.1 L249.5 248.0 L249.8 248.1 L250.0 248.1 L250.2 248.1 L250.5 248.2 L250.8 248.2 L251.0 248.2 L251.2 248.3 L251.5 248.3 L251.8 248.3 L252.0 248.3 L252.2 248.3 L252.5 248.3 L252.8 248.3 L253.0 248.2 L253.2 248.2 L253.5 248.2 L253.8 248.2 L254.0 248.2 L254.2 248.1 L254.5 248.1 L254.8 248.1 L255.0 248.1 L255.2 248.1 L255.5 248.2 L255.8 248.2 L256.0 248.2 L256.2 248.3 L256.5 248.3 L256.8 248.3 L257.0 248.3 L257.2 248.3 L257.5 248.3 L257.8 248.3 L258.0 248.3 L258.2 248.3 L258.5 248.4 L258.8 248.4 L259.0 248.4 L259.2 248.4 L259.5 248.4 L259.8 248.4 L260.0 248.4 L260.2 248.4 L260.5 248.4 L260.8 248.4 L261.0 248.4 L261.2 248.4 L261.5 248.4 L261.8 248.5 L262.0 248.6 L262.2 248.7 L262.5 248.9 L262.8 249.0 L263.0 249.3 L263.2 249.8 L263.5 250.4 L263.8 250.2 L264.0 249.6 L264.2 249.0 L264.5 248.7 L264.8 248.6 L265.0 248.5 L265.2 248.5 L265.5 248.5 L265.8 248.5 L266.0 248.4 L266.2 248.3 L266.5 248.3 L266.8 248.3 L267.0 248.4 L267.2 248.4 L267.5 248.5 L267.8 248.4 L268.0 248.4 L268.2 248.4 L268.5 248.3 L268.8 248.3 L269.0 248.3 L269.2 248.2 L269.5 248.2 L269.8 248.3 L270.0 248.3 L270.2 248.3 L270.5 248.4 L270.8 248.3 L271.0 248.3 L271.2 248.3 L271.5 248.3 L271.8 248.1 L272.0 248.0 L272.2 247.8 L272.5 247.7 L272.8 247.7 L273.0 247.6 L273.2 247.5 L273.5 247.2 L273.8 246.7 L274.0 246.2 L274.2 246.1 L274.5 246.5 L274.8 247.2 L275.0 247.9 L275.2 248.6 L275.5 249.0 L275.8 248.9 L276.0 248.6 L276.2 248.4 L276.5 248.3 L276.8 248.3 L277.0 248.3 L277.2 248.3 L277.5 248.3 L277.8 248.2 L278.0 248.2 L278.2 248.2 L278.5 248.1 L278.8 248.2 L279.0 248.2 L279.2 248.2 L279.5 248.2 L279.8 248.2 L280.0 248.3 L280.2 248.3 L280.5 248.3 L280.8 248.3 L281.0 248.3 L281.2 248.3 L281.5 248.3 L281.8 248.4 L282.0 248.4 L282.2 248.4 L282.5 248.5 L282.8 248.5 L283.0 248.5 L283.2 248.5 L283.5 248.5 L283.8 248.5 L284.0 248.4 L284.2 248.4 L284.5 248.4 L284.8 248.3 L285.0 248.3 L285.2 248.3 L285.5 248.2 L285.8 248.2 L286.0 248.2 L286.2 248.3 L286.5 248.3 L286.8 248.3 L287.0 248.2 L287.2 248.2 L287.5 248.2 L287.8 248.2 L288.0 248.2 L288.2 248.2 L288.5 248.2 L288.8 248.2 L289.0 248.3 L289.2 248.3 L289.5 248.3 L289.8 248.3 L290.0 248.2 L290.2 248.2 L290.5 248.1 L290.8 248.2 L291.0 248.3 L291.2 248.4 L291.5 248.5 L291.8 248.6 L292.0 248.7 L292.2 248.8 L292.5 249.0 L292.8 249.5 L293.0 250.3 L293.2 251.5 L293.5 251.5 L293.8 249.9 L294.0 248.4 L294.2 247.3 L294.5 247.2 L294.8 247.7 L295.0 248.0 L295.2 248.2 L295.5 248.3 L295.8 248.3 L296.0 248.3 L296.2 248.4 L296.5 248.4 L296.8 248.4 L297.0 248.3 L297.2 248.3 L297.5 248.3 L297.8 248.2 L298.0 248.2 L298.2 248.2 L298.5 248.2 L298.8 248.2 L299.0 248.3 L299.2 248.3 L299.5 248.4 L299.8 248.4 L300.0 248.4 L300.2 248.4 L300.5 248.4 L300.8 248.4 L301.0 248.4 L301.2 248.4 L301.5 248.4 L301.8 248.5 L302.0 248.6 L302.2 248.8 L302.5 249.3 L302.8 249.9 L303.0 250.4 L303.2 249.9 L303.5 249.3 L303.8 248.9 L304.0 248.7 L304.2 248.6 L304.5 248.6 L304.8 248.5 L305.0 248.4 L305.2 248.4 L305.5 248.3 L305.8 248.3 L306.0 248.3 L306.2 248.3 L306.5 248.3 L306.8 248.3 L307.0 248.4 L307.2 248.4 L307.5 248.5 L307.8 248.4 L308.0 248.3 L308.2 248.2 L308.5 248.1 L308.8 248.1 L309.0 248.1 L309.2 248.2 L309.5 248.2 L309.8 248.2 L310.0 248.2 L310.2 248.1 L310.5 248.1 L310.8 248.0 L311.0 247.8 L311.2 247.6 L311.5 247.4 L311.8 247.3 L312.0 247.0 L312.2 246.6 L312.5 246.0 L312.8 245.4 L313.0 245.4 L313.2 246.0 L313.5 246.7 L313.8 247.2 L314.0 247.5 L314.2 247.7 L314.5 247.8 L314.8 247.9 L315.0 248.0 L315.2 248.0 L315.5 248.0 L315.8 248.0 L316.0 248.1 L316.2 248.1 L316.5 248.1 L316.8 248.1 L317.0 248.2 L317.2 248.2 L317.5 248.2 L317.8 248.3 L318.0 248.3 L318.2 248.3 L318.5 248.3 L318.8 248.3 L319.0 248.3 L319.2 248.3 L319.5 248.3 L319.8 248.3 L320.0 248.3 L320.2 248.4 L320.5 248.4 L320.8 248.4 L321.0 248.4 L321.2 248.4 L321.5 248.4 L321.8 248.4 L322.0 248.3 L322.2 248.3 L322.5 248.3 L322.8 248.3 L323.0 248.3 L323.2 248.3 L323.5 248.3 L323.8 248.3 L324.0 248.3 L324.2 248.3 L324.5 248.2 L324.8 248.3 L325.0 248.3 L325.2 248.3 L325.5 248.3 L325.8 248.3 L326.0 248.3 L326.2 248.3 L326.5 248.3 L326.8 248.3 L327.0 248.3 L327.2 248.2 L327.5 248.2 L327.8 248.2 L328.0 248.2 L328.2 248.2 L328.5 248.1 L328.8 248.0 L329.0 248.0 L329.2 247.9 L329.5 247.7 L329.8 247.7 L330.0 247.6 L330.2 247.5 L330.5 247.3 L330.8 246.8 L331.0 246.1 L331.2 245.1 L331.5 244.1 L331.8 243.8 L332.0 244.5 L332.2 245.5 L332.5 246.3 L332.8 247.0 L333.0 247.4 L333.2 247.7 L333.5 247.9 L333.8 247.9 L334.0 247.9 L334.2 248.0 L334.5 247.9 L334.8 248.0 L335.0 248.0 L335.2 248.1 L335.5 248.1 L335.8 248.2 L336.0 248.3 L336.2 248.4 L336.5 248.5 L336.8 248.4 L337.0 248.3 L337.2 248.2 L337.5 248.2 L337.8 248.2 L338.0 248.1 L338.2 248.1 L338.5 248.1 L338.8 248.2 L339.0 248.2 L339.2 248.3 L339.5 248.4 L339.8 248.3 L340.0 248.2 L340.2 248.1 L340.5 248.1 L340.8 248.1 L341.0 248.2 L341.2 248.2 L341.5 248.2 L341.8 248.3 L342.0 248.3 L342.2 248.4 L342.5 248.4 L342.8 248.4 L343.0 248.3 L343.2 248.3 L343.5 248.2 L343.8 248.2 L344.0 248.3 L344.2 248.3 L344.5 248.3 L344.8 248.3 L345.0 248.4 L345.2 248.4 L345.5 248.4 L345.8 248.5 L346.0 248.5 L346.2 248.5 L346.5 248.5 L346.8 248.4 L347.0 248.4 L347.2 248.3 L347.5 248.2 L347.8 248.2 L348.0 248.2 L348.2 248.3 L348.5 248.3 L348.8 248.2 L349.0 248.1 L349.2 248.0 L349.5 247.8 L349.8 247.6 L350.0 247.3 L350.2 247.2 L350.5 247.4 L350.8 247.7 L351.0 247.9 L351.2 248.1 L351.5 248.2 L351.8 248.2 L352.0 248.3 L352.2 248.3 L352.5 248.3 L352.8 248.2 L353.0 248.2 L353.2 248.1 L353.5 248.0 L353.8 248.0 L354.0 248.1 L354.2 248.1 L354.5 248.1 L354.8 248.1 L355.0 248.1 L355.2 248.2 L355.5 248.2 L355.8 248.2 L356.0 248.3 L356.2 248.3 L356.5 248.3 L356.8 248.3 L357.0 248.4 L357.2 248.4 L357.5 248.4 L357.8 248.4 L358.0 248.4 L358.2 248.3 L358.5 248.3 L358.8 248.3 L359.0 248.2 L359.2 248.1 L359.5 248.1 L359.8 248.1 L360.0 248.2 L360.2 248.2 L360.5 248.2 L360.8 248.2 L361.0 248.3 L361.2 248.3 L361.5 248.3 L361.8 248.3 L362.0 248.4 L362.2 248.4 L362.5 248.4 L362.8 248.4 L363.0 248.3 L363.2 248.3 L363.5 248.3 L363.8 248.3 L364.0 248.3 L364.2 248.3 L364.5 248.4 L364.8 248.3 L365.0 248.3 L365.2 248.3 L365.5 248.2 L365.8 248.2 L366.0 248.2 L366.2 248.1 L366.5 248.1 L366.8 248.0 L367.0 248.0 L367.2 247.8 L367.5 247.7 L367.8 247.5 L368.0 247.4 L368.2 247.6 L368.5 247.8 L368.8 248.0 L369.0 248.1 L369.2 248.2 L369.5 248.2 L369.8 248.2 L370.0 248.2 L370.2 248.2 L370.5 248.2 L370.8 248.2 L371.0 248.1 L371.2 248.1 L371.5 248.0 L371.8 248.1 L372.0 248.1 L372.2 248.1 L372.5 248.2 L372.8 248.2 L373.0 248.3 L373.2 248.3 L373.5 248.4 L373.8 248.3 L374.0 248.2 L374.2 248.1 L374.5 248.0 L374.8 248.1 L375.0 248.1 L375.2 248.2 L375.5 248.2 L375.8 248.2 L376.0 248.2 L376.2 248.4 L376.5 248.4 L376.8 248.1 L377.0 247.7 L377.2 247.4 L377.5 246.9 L377.8 246.1 L378.0 245.2 L378.2 244.6 L378.5 244.8 L378.8 245.6 L379.0 246.4 L379.2 247.0 L379.5 247.4 L379.8 247.6 L380.0 247.7 L380.2 247.8 L380.5 247.9 L380.8 248.0 L381.0 248.0 L381.2 248.1 L381.5 248.1 L381.8 248.2 L382.0 248.2 L382.2 248.3 L382.5 248.3 L382.8 248.3 L383.0 248.3 L383.2 248.3 L383.5 248.3 L383.8 248.2 L384.0 248.1 L384.2 248.0 L384.5 247.9 L384.8 247.8 L385.0 247.6 L385.2 247.3 L385.5 246.9 L385.8 246.4 L386.0 245.7 L386.2 245.6 L386.5 246.0 L386.8 246.5 L387.0 247.0 L387.2 247.2 L387.5 247.4 L387.8 247.6 L388.0 247.7 L388.2 247.9 L388.5 247.9 L388.8 248.0 L389.0 248.0 L389.2 248.0 L389.5 248.0 L389.8 248.1 L390.0 248.2 L390.2 248.2 L390.5 248.3 L390.8 248.3 L391.0 248.2 L391.2 248.2 L391.5 248.2 L391.8 248.2 L392.0 248.2 L392.2 248.3 L392.5 248.3 L392.8 248.3 L393.0 248.3 L393.2 248.3 L393.5 248.3 L393.8 248.3 L394.0 248.2 L394.2 248.2 L394.5 248.2 L394.8 248.2 L395.0 248.2 L395.2 248.2 L395.5 248.2 L395.8 248.2 L396.0 248.2 L396.2 248.2 L396.5 248.2 L396.8 248.2 L397.0 248.3 L397.2 248.3 L397.5 248.3 L397.8 248.3 L398.0 248.4 L398.2 248.4 L398.5 248.5 L398.8 248.4 L399.0 248.4 L399.2 248.4 L399.5 248.4" stroke="#f0108e" stroke-width="1.95"/>
</g>
<path d="M78.8 104.0V115.5" stroke="#000" stroke-width="1.4" fill="none"/>
<path d="M78.8 118.5l-2.4 -6.2l2.4 1.5l2.4 -1.5z" fill="#000"/>
<path d="M120.0 104.0V115.5" stroke="#000" stroke-width="1.4" fill="none"/>
<path d="M120.0 118.5l-2.4 -6.2l2.4 1.5l2.4 -1.5z" fill="#000"/>
<path d="M289.1 98.0V111.0" stroke="#000" stroke-width="1.4" fill="none"/>
<path d="M289.1 114.0l-2.4 -6.2l2.4 1.5l2.4 -1.5z" fill="#000"/>
<path d="M100.9 91.3L136.0 54.8" stroke="#000" stroke-width="2.9" fill="none"/>
<path d="M142.3 48.3L138.6 60.0L135.4 55.4L130.6 52.3z" fill="#000"/>
<rect x="155.6" y="8.1" width="121.4" height="92.5" fill="#fff" stroke="#888" stroke-width="0.7"/>
<path d="M161.7 100.6v-1.4M161.7 8.1v1.4M167.7 100.6v-1.4M167.7 8.1v1.4M173.8 100.6v-1.4M173.8 8.1v1.4M179.9 100.6v-2.6M179.9 8.1v2.6M185.9 100.6v-1.4M185.9 8.1v1.4M192.0 100.6v-1.4M192.0 8.1v1.4M198.1 100.6v-1.4M198.1 8.1v1.4M204.2 100.6v-2.6M204.2 8.1v2.6M210.2 100.6v-1.4M210.2 8.1v1.4M216.3 100.6v-1.4M216.3 8.1v1.4M222.4 100.6v-1.4M222.4 8.1v1.4M228.4 100.6v-2.6M228.4 8.1v2.6M234.5 100.6v-1.4M234.5 8.1v1.4M240.6 100.6v-1.4M240.6 8.1v1.4M246.6 100.6v-1.4M246.6 8.1v1.4M252.7 100.6v-2.6M252.7 8.1v2.6M258.8 100.6v-1.4M258.8 8.1v1.4M264.9 100.6v-1.4M264.9 8.1v1.4M270.9 100.6v-1.4M270.9 8.1v1.4" stroke="#777" stroke-width="0.7" fill="none"/>
<g fill="none" stroke-linejoin="round">
<path d="M155.6 48.4C156.8 48.3 160.6 48.3 163.0 48.0C165.4 47.7 168.0 47.4 170.0 46.8C172.0 46.2 173.3 45.9 175.0 44.5C176.7 43.1 178.3 40.9 180.0 38.5C181.7 36.1 183.3 32.4 185.0 30.0C186.7 27.6 188.5 25.4 190.0 24.2C191.5 23.0 192.5 22.6 193.8 22.6C195.1 22.6 196.5 22.8 198.0 24.0C199.5 25.2 201.3 27.9 203.0 30.0C204.7 32.1 206.2 34.6 208.0 36.5C209.8 38.4 212.0 40.0 214.0 41.5C216.0 43.0 217.8 44.1 220.0 45.5C222.2 46.9 224.7 48.7 227.0 50.0C229.3 51.3 231.5 52.6 234.0 53.4C236.5 54.2 239.0 54.4 242.0 54.8C245.0 55.2 248.2 55.5 252.0 55.8C255.8 56.1 260.9 56.2 265.0 56.4C269.1 56.6 274.8 56.8 276.7 56.9" stroke="#1a1ae8" stroke-width="0.7"/>
<path d="M155.6 68.4C157.2 68.3 161.8 68.2 165.0 68.0C168.2 67.8 171.5 67.6 175.0 67.2C178.5 66.8 182.8 66.3 186.0 65.5C189.2 64.7 191.7 64.1 194.0 62.5C196.3 60.9 198.2 58.9 200.0 56.0C201.8 53.1 203.5 48.2 205.0 45.0C206.5 41.8 207.6 39.0 209.0 37.0C210.4 35.0 212.0 33.5 213.2 33.2C214.4 32.9 215.0 33.8 216.0 35.0C217.0 36.2 217.9 39.2 219.0 40.5C220.1 41.8 221.3 42.0 222.5 42.8C223.7 43.6 224.8 44.1 226.0 45.5C227.2 46.9 228.7 49.0 230.0 51.0C231.3 53.0 232.7 55.8 234.0 57.5C235.3 59.2 236.5 60.4 238.0 61.5C239.5 62.6 240.7 63.3 243.0 64.0C245.3 64.7 248.3 65.3 252.0 65.8C255.7 66.3 260.9 66.6 265.0 66.9C269.1 67.2 274.8 67.5 276.7 67.6" stroke="#0b6a22" stroke-width="0.7"/>
<path d="M155.6 79.4C157.2 79.3 161.6 79.2 165.0 79.0C168.4 78.8 172.5 78.5 176.0 78.2C179.5 77.9 183.0 77.6 186.0 77.0C189.0 76.4 191.7 76.0 194.0 74.8C196.3 73.5 198.2 72.2 200.0 69.5C201.8 66.8 203.5 62.1 205.0 58.5C206.5 54.9 207.8 50.5 209.0 48.0C210.2 45.5 211.2 44.0 212.2 43.8C213.2 43.6 214.0 45.3 215.0 47.0C216.0 48.7 217.0 52.3 218.0 54.0C219.0 55.7 219.8 56.5 221.0 57.3C222.2 58.1 223.8 58.1 225.0 58.8C226.2 59.5 226.8 60.0 228.0 61.5C229.2 63.0 230.7 65.8 232.0 67.5C233.3 69.2 234.7 70.9 236.0 72.0C237.3 73.1 238.0 73.6 240.0 74.3C242.0 75.0 244.3 75.5 248.0 76.0C251.7 76.5 257.2 76.8 262.0 77.0C266.8 77.2 274.2 77.4 276.7 77.5" stroke="#e00606" stroke-width="0.7"/>
<path d="M155.6 90.6C157.2 90.5 161.6 90.1 165.0 89.8C168.4 89.5 172.5 89.1 176.0 88.6C179.5 88.1 183.0 87.6 186.0 86.9C189.0 86.2 191.7 85.6 194.0 84.2C196.3 82.8 198.2 81.4 200.0 78.5C201.8 75.6 203.5 70.4 205.0 67.0C206.5 63.6 207.7 60.3 209.0 58.3C210.3 56.3 211.7 55.1 213.0 54.8C214.3 54.4 215.7 55.3 217.0 56.2C218.3 57.1 219.7 58.9 221.0 60.2C222.3 61.5 223.7 62.7 225.0 64.2C226.3 65.8 227.7 67.5 229.0 69.5C230.3 71.5 231.5 74.0 233.0 76.0C234.5 78.0 236.2 80.1 238.0 81.5C239.8 82.9 241.7 83.7 244.0 84.6C246.3 85.5 248.7 86.1 252.0 86.7C255.3 87.3 259.9 88.0 264.0 88.4C268.1 88.9 274.6 89.2 276.7 89.4" stroke="#111" stroke-width="0.7"/>
</g>
<text x="155.6" y="110.2" font-size="8.4" letter-spacing="-0.25" text-anchor="middle" fill="#000">38.8</text>
<text x="179.9" y="110.2" font-size="8.4" letter-spacing="-0.25" text-anchor="middle" fill="#000">39</text>
<text x="204.2" y="110.2" font-size="8.4" letter-spacing="-0.25" text-anchor="middle" fill="#000">39.2</text>
<text x="228.4" y="110.2" font-size="8.4" letter-spacing="-0.25" text-anchor="middle" fill="#000">39.4</text>
<text x="252.7" y="110.2" font-size="8.4" letter-spacing="-0.25" text-anchor="middle" fill="#000">39.6</text>
<text x="277.0" y="110.2" font-size="8.4" letter-spacing="-0.25" text-anchor="middle" fill="#000">39.8</text>
<text x="200.6" y="118.4" font-size="8.3" textLength="31.5" lengthAdjust="spacingAndGlyphs" fill="#111">2&#952; [degree]</text>
<text transform="translate(150.5 84.2) rotate(-90)" font-size="8" textLength="55.2" lengthAdjust="spacingAndGlyphs" fill="#111">Intensity [arb. units]</text>
<text x="275.5" y="52.3" font-size="4.2" text-anchor="end" fill="#1010e8">Re<tspan font-size="3" dy="1">24</tspan><tspan dy="-1">Zr</tspan><tspan font-size="3" dy="1">5</tspan></text>
<text x="275.5" y="63.0" font-size="4.2" text-anchor="end" fill="#0b6a22">Re<tspan font-size="3" dy="1">27</tspan><tspan dy="-1">Zr</tspan><tspan font-size="3" dy="1">5</tspan></text>
<text x="275.5" y="74.8" font-size="4.2" text-anchor="end" fill="#e00606">Re<tspan font-size="3" dy="1">6</tspan><tspan dy="-1">Zr</tspan></text>
<text x="275.5" y="82.4" font-size="4.2" text-anchor="end" fill="#000">theoretical curve</text>
<text x="275.5" y="86.6" font-size="4.2" text-anchor="end" fill="#000">for Re<tspan font-size="3" dy="1">6</tspan><tspan dy="-1">Zr</tspan></text>
<text x="394.5" y="114.4" font-size="12" letter-spacing="0.4" text-anchor="end" fill="#1a1ae0">Re<tspan font-size="8.5" dy="2.6">24</tspan><tspan dy="-2.6">Zr</tspan><tspan font-size="8.5" dy="2.6">5</tspan></text>
<text x="394.5" y="142.6" font-size="12" letter-spacing="0.4" text-anchor="end" fill="#0b6a22">Re<tspan font-size="8.5" dy="2.6">27</tspan><tspan dy="-2.6">Zr</tspan><tspan font-size="8.5" dy="2.6">5</tspan></text>
<text x="394.5" y="175.4" font-size="12" letter-spacing="0.4" text-anchor="end" fill="#e00606">Re<tspan font-size="8.5" dy="2.6">6</tspan><tspan dy="-2.6">Zr</tspan></text>
<text x="395.3" y="205.3" font-size="12" letter-spacing="0.4" text-anchor="end" fill="#000">theoretical curve</text>
<text x="308.2" y="216.8" font-size="12" letter-spacing="0.4" text-anchor="start" fill="#000">for Re<tspan font-size="8.5" dy="2.6">6</tspan><tspan dy="-2.6">Zr</tspan></text>
<text x="395.3" y="239.8" font-size="12" letter-spacing="0.4" text-anchor="end" fill="#f0108e">difference for Re<tspan font-size="8.5" dy="2.6">6</tspan><tspan dy="-2.6">Zr</tspan></text>
<text x="35.2" y="17" font-size="18" fill="#000">(a)</text>
<text x="32.5" y="296" font-size="19.5" text-anchor="middle" fill="#000">30</text>
<text x="95.6" y="296" font-size="19.5" text-anchor="middle" fill="#000">40</text>
<text x="158.7" y="296" font-size="19.5" text-anchor="middle" fill="#000">50</text>
<text x="221.8" y="296" font-size="19.5" text-anchor="middle" fill="#000">60</text>
<text x="284.9" y="296" font-size="19.5" text-anchor="middle" fill="#000">70</text>
<text x="348.0" y="296" font-size="19.5" text-anchor="middle" fill="#000">80</text>
<text x="215.5" y="319.6" font-size="19.5" text-anchor="middle" fill="#000">2&#952; [degree]</text>
<text transform="translate(14.2 143.9) rotate(-90)" font-size="19.75" text-anchor="middle" fill="#000">Intensity [arb. units]</text>
<g stroke="#7c7c7c" stroke-width="1" fill="none">
<rect x="32.5" y="329.5" width="367.2" height="182.7"/>
<path d="M93.6 512.2v-7M93.6 329.5v7M154.8 512.2v-7M154.8 329.5v7M216.0 512.2v-7M216.0 329.5v7M277.2 512.2v-7M277.2 329.5v7M338.4 512.2v-7M338.4 329.5v7M32.5 359.9h7M399.7 359.9h-7M32.5 390.4h7M399.7 390.4h-7M32.5 420.9h7M399.7 420.9h-7M32.5 451.3h7M399.7 451.3h-7M32.5 481.8h7M399.7 481.8h-7"/>
</g>
<clipPath id="cb"><rect x="28.5" y="321.5" width="375.2" height="194.7"/></clipPath>
<g>
<path d="M36.2 504.0 L39.3 504.1 L42.4 504.3 L45.5 504.4 L48.6 504.5 L51.7 504.6 L54.8 504.7 L57.9 504.7 L61.0 504.8 L64.1 504.8 L67.2 504.9 L70.3 504.9 L73.4 505.0 L76.5 505.0 L79.6 504.9 L82.7 504.8 L85.8 504.7 L88.9 504.6 L92.0 504.5 L95.1 504.4 L98.2 504.3 L101.3 504.1 L104.4 503.9 L107.5 503.7 L110.6 503.5 L113.7 503.3 L116.8 503.1 L119.9 502.9 L123.0 502.7 L126.1 502.5 L129.2 502.3 L132.3 502.0 L135.4 501.8 L138.5 501.5 L141.6 501.3 L144.7 501.0 L147.8 500.8 L150.9 500.5 L154.0 500.2 L157.1 499.9 L160.2 499.6 L163.3 499.3 L166.4 499.0 L169.5 498.7 L172.2 495.0 L175.3 494.5 L178.4 494.3 L181.5 494.2 L184.6 494.0 L187.7 494.0 L190.8 494.1 L193.9 494.1 L197.0 494.2 L200.1 494.2 L203.2 494.3 L206.3 494.3 L209.4 494.4 L212.5 494.3 L215.6 494.0 L218.7 493.7 L221.8 493.4 L224.9 493.0 L228.0 492.7 L231.1 492.4 L234.2 492.0 L237.3 491.6 L240.4 491.2 L243.5 490.7 L246.6 490.2 L249.7 489.7 L252.8 489.2 L255.9 488.6 L259.0 488.0 L262.1 487.4 L265.2 486.8 L268.3 486.2 L271.4 485.6 L274.5 484.8 L277.6 484.0 L280.7 482.9 L283.8 481.7 L286.9 480.6 L290.0 479.3 L293.1 478.0 L296.2 476.6 L299.3 474.3 L302.4 471.4 L305.1 467.8 L307.5 464.2 L309.3 460.6 L310.7 457.0 L312.5 451.3 L314.1 443.4 L315.4 435.4 L316.7 423.3 L317.9 398.2 L319.5 374.4 L320.6 362.0 L322.5 360.3 L325.6 360.3 L328.7 360.3 L331.8 360.3 L334.9 360.3 L338.0 360.3 L341.1 360.3 L344.2 360.3 L347.3 360.3 L350.4 360.3 L353.5 360.3 L356.6 360.3 L359.7 360.3 L362.8 360.3 L365.9 360.3 L369.0 360.3 L372.1 360.3 L375.2 360.3 L378.3 360.3 L381.4 360.3 L384.5 360.3 L387.6 360.3 L390.7 360.3 L393.8 360.3 L396.9 360.3 L400.0 360.3" stroke="#dc0808" stroke-width="0.8" fill="none"/>
<g fill="#dc0808">
<circle cx="36.2" cy="504.0" r="3.4"/>
<circle cx="39.3" cy="504.1" r="3.4"/>
<circle cx="42.4" cy="504.3" r="3.4"/>
<circle cx="45.5" cy="504.4" r="3.4"/>
<circle cx="48.6" cy="504.5" r="3.4"/>
<circle cx="51.7" cy="504.6" r="3.4"/>
<circle cx="54.8" cy="504.7" r="3.4"/>
<circle cx="57.9" cy="504.7" r="3.4"/>
<circle cx="61.0" cy="504.8" r="3.4"/>
<circle cx="64.1" cy="504.8" r="3.4"/>
<circle cx="67.2" cy="504.9" r="3.4"/>
<circle cx="70.3" cy="504.9" r="3.4"/>
<circle cx="73.4" cy="505.0" r="3.4"/>
<circle cx="76.5" cy="505.0" r="3.4"/>
<circle cx="79.6" cy="504.9" r="3.4"/>
<circle cx="82.7" cy="504.8" r="3.4"/>
<circle cx="85.8" cy="504.7" r="3.4"/>
<circle cx="88.9" cy="504.6" r="3.4"/>
<circle cx="92.0" cy="504.5" r="3.4"/>
<circle cx="95.1" cy="504.4" r="3.4"/>
<circle cx="98.2" cy="504.3" r="3.4"/>
<circle cx="101.3" cy="504.1" r="3.4"/>
<circle cx="104.4" cy="503.9" r="3.4"/>
<circle cx="107.5" cy="503.7" r="3.4"/>
<circle cx="110.6" cy="503.5" r="3.4"/>
<circle cx="113.7" cy="503.3" r="3.4"/>
<circle cx="116.8" cy="503.1" r="3.4"/>
<circle cx="119.9" cy="502.9" r="3.4"/>
<circle cx="123.0" cy="502.7" r="3.4"/>
<circle cx="126.1" cy="502.5" r="3.4"/>
<circle cx="129.2" cy="502.3" r="3.4"/>
<circle cx="132.3" cy="502.0" r="3.4"/>
<circle cx="135.4" cy="501.8" r="3.4"/>
<circle cx="138.5" cy="501.5" r="3.4"/>
<circle cx="141.6" cy="501.3" r="3.4"/>
<circle cx="144.7" cy="501.0" r="3.4"/>
<circle cx="147.8" cy="500.8" r="3.4"/>
<circle cx="150.9" cy="500.5" r="3.4"/>
<circle cx="154.0" cy="500.2" r="3.4"/>
<circle cx="157.1" cy="499.9" r="3.4"/>
<circle cx="160.2" cy="499.6" r="3.4"/>
<circle cx="163.3" cy="499.3" r="3.4"/>
<circle cx="166.4" cy="499.0" r="3.4"/>
<circle cx="169.5" cy="498.7" r="3.4"/>
<circle cx="172.2" cy="495.0" r="3.4"/>
<circle cx="175.3" cy="494.5" r="3.4"/>
<circle cx="178.4" cy="494.3" r="3.4"/>
<circle cx="181.5" cy="494.2" r="3.4"/>
<circle cx="184.6" cy="494.0" r="3.4"/>
<circle cx="187.7" cy="494.0" r="3.4"/>
<circle cx="190.8" cy="494.1" r="3.4"/>
<circle cx="193.9" cy="494.1" r="3.4"/>
<circle cx="197.0" cy="494.2" r="3.4"/>
<circle cx="200.1" cy="494.2" r="3.4"/>
<circle cx="203.2" cy="494.3" r="3.4"/>
<circle cx="206.3" cy="494.3" r="3.4"/>
<circle cx="209.4" cy="494.4" r="3.4"/>
<circle cx="212.5" cy="494.3" r="3.4"/>
<circle cx="215.6" cy="494.0" r="3.4"/>
<circle cx="218.7" cy="493.7" r="3.4"/>
<circle cx="221.8" cy="493.4" r="3.4"/>
<circle cx="224.9" cy="493.0" r="3.4"/>
<circle cx="228.0" cy="492.7" r="3.4"/>
<circle cx="231.1" cy="492.4" r="3.4"/>
<circle cx="234.2" cy="492.0" r="3.4"/>
<circle cx="237.3" cy="491.6" r="3.4"/>
<circle cx="240.4" cy="491.2" r="3.4"/>
<circle cx="243.5" cy="490.7" r="3.4"/>
<circle cx="246.6" cy="490.2" r="3.4"/>
<circle cx="249.7" cy="489.7" r="3.4"/>
<circle cx="252.8" cy="489.2" r="3.4"/>
<circle cx="255.9" cy="488.6" r="3.4"/>
<circle cx="259.0" cy="488.0" r="3.4"/>
<circle cx="262.1" cy="487.4" r="3.4"/>
<circle cx="265.2" cy="486.8" r="3.4"/>
<circle cx="268.3" cy="486.2" r="3.4"/>
<circle cx="271.4" cy="485.6" r="3.4"/>
<circle cx="274.5" cy="484.8" r="3.4"/>
<circle cx="277.6" cy="484.0" r="3.4"/>
<circle cx="280.7" cy="482.9" r="3.4"/>
<circle cx="283.8" cy="481.7" r="3.4"/>
<circle cx="286.9" cy="480.6" r="3.4"/>
<circle cx="290.0" cy="479.3" r="3.4"/>
<circle cx="293.1" cy="478.0" r="3.4"/>
<circle cx="296.2" cy="476.6" r="3.4"/>
<circle cx="299.3" cy="474.3" r="3.4"/>
<circle cx="302.4" cy="471.4" r="3.4"/>
<circle cx="305.1" cy="467.8" r="3.4"/>
<circle cx="307.5" cy="464.2" r="3.4"/>
<circle cx="309.3" cy="460.6" r="3.4"/>
<circle cx="310.7" cy="457.0" r="3.4"/>
<circle cx="312.5" cy="451.3" r="3.4"/>
<circle cx="314.1" cy="443.4" r="3.4"/>
<circle cx="315.4" cy="435.4" r="3.4"/>
<circle cx="316.7" cy="423.3" r="3.4"/>
<circle cx="317.9" cy="398.2" r="3.4"/>
<circle cx="319.5" cy="374.4" r="3.4"/>
<circle cx="320.6" cy="362.0" r="3.4"/>
<circle cx="322.5" cy="360.3" r="3.4"/>
<circle cx="325.6" cy="360.3" r="3.4"/>
<circle cx="328.7" cy="360.3" r="3.4"/>
<circle cx="331.8" cy="360.3" r="3.4"/>
<circle cx="334.9" cy="360.3" r="3.4"/>
<circle cx="338.0" cy="360.3" r="3.4"/>
<circle cx="341.1" cy="360.3" r="3.4"/>
<circle cx="344.2" cy="360.3" r="3.4"/>
<circle cx="347.3" cy="360.3" r="3.4"/>
<circle cx="350.4" cy="360.3" r="3.4"/>
<circle cx="353.5" cy="360.3" r="3.4"/>
<circle cx="356.6" cy="360.3" r="3.4"/>
<circle cx="359.7" cy="360.3" r="3.4"/>
<circle cx="362.8" cy="360.3" r="3.4"/>
<circle cx="365.9" cy="360.3" r="3.4"/>
<circle cx="369.0" cy="360.3" r="3.4"/>
<circle cx="372.1" cy="360.3" r="3.4"/>
<circle cx="375.2" cy="360.3" r="3.4"/>
<circle cx="378.3" cy="360.3" r="3.4"/>
<circle cx="381.4" cy="360.3" r="3.4"/>
<circle cx="384.5" cy="360.3" r="3.4"/>
<circle cx="387.6" cy="360.3" r="3.4"/>
<circle cx="390.7" cy="360.3" r="3.4"/>
<circle cx="393.8" cy="360.3" r="3.4"/>
<circle cx="396.9" cy="360.3" r="3.4"/>
<circle cx="400.0" cy="360.3" r="3.4"/>
</g>
<path d="M36.2 503.8 L39.3 504.0 L42.4 504.2 L45.5 504.3 L48.6 504.5 L51.7 504.6 L54.8 504.7 L57.9 504.7 L61.0 504.8 L64.1 504.8 L67.2 504.9 L70.3 504.9 L73.4 505.0 L76.5 505.0 L79.6 504.9 L82.7 504.8 L85.8 504.7 L88.9 504.6 L92.0 504.5 L95.1 504.4 L98.2 504.3 L101.3 504.1 L104.4 503.9 L107.5 503.7 L110.6 503.5 L113.7 503.3 L116.8 503.1 L119.9 502.9 L123.0 502.7 L126.1 502.5 L129.2 502.3 L132.3 502.0 L135.4 501.8 L138.5 501.5 L141.6 501.3 L144.7 501.0 L147.8 500.8 L150.9 500.5 L154.0 500.2 L157.1 499.9 L160.2 499.6 L163.3 499.3 L166.4 499.0 L169.5 498.7 L172.6 498.4 L175.7 498.2 L178.8 497.9 L181.9 497.6 L185.0 497.3 L188.1 496.8 L191.2 496.3 L194.3 495.9 L197.4 495.4 L200.5 494.9 L203.6 494.3 L206.7 493.7 L209.8 493.2 L212.9 492.6 L216.0 492.0 L219.1 491.3 L222.2 490.6 L225.3 489.9 L228.4 489.2 L231.5 488.4 L234.6 487.6 L237.7 486.8 L240.8 486.0 L243.9 485.2 L247.0 484.1 L250.1 482.9 L253.2 481.6 L256.3 480.2 L259.4 478.4 L262.5 476.6 L265.6 474.0 L268.0 472.0 L271.8 467.2 L275.6 460.9 L279.4 450.7 L282.9 435.4 L286.8 413.8 L289.9 381.3 L293.4 364.8 L296.4 360.3 L299.5 360.3 L302.6 360.3 L305.7 360.3 L308.8 360.3 L311.9 360.3 L315.0 360.3 L318.1 360.3 L321.2 360.3 L324.3 360.3 L327.4 360.3 L330.5 360.3 L333.6 360.3 L336.7 360.3 L339.8 360.3 L342.9 360.3 L346.0 360.3 L349.1 360.3 L352.2 360.3 L355.3 360.3 L358.4 360.3 L361.5 360.3 L364.6 360.3 L367.7 360.3 L370.8 360.3 L373.9 360.3 L377.0 360.3 L380.1 360.3 L383.2 360.3 L386.3 360.3 L389.4 360.3 L392.5 360.3 L395.6 360.3 L398.7 360.3" stroke="#0b6a22" stroke-width="0.8" fill="none"/>
<path fill="#0b6a22" d="M32.5 500.1h7.4v7.4h-7.4zM35.6 500.3h7.4v7.4h-7.4zM38.7 500.5h7.4v7.4h-7.4zM41.8 500.6h7.4v7.4h-7.4zM44.9 500.8h7.4v7.4h-7.4zM48.0 500.9h7.4v7.4h-7.4zM51.1 501.0h7.4v7.4h-7.4zM54.2 501.0h7.4v7.4h-7.4zM57.3 501.1h7.4v7.4h-7.4zM60.4 501.1h7.4v7.4h-7.4zM63.5 501.2h7.4v7.4h-7.4zM66.6 501.2h7.4v7.4h-7.4zM69.7 501.3h7.4v7.4h-7.4zM72.8 501.3h7.4v7.4h-7.4zM75.9 501.2h7.4v7.4h-7.4zM79.0 501.1h7.4v7.4h-7.4zM82.1 501.0h7.4v7.4h-7.4zM85.2 500.9h7.4v7.4h-7.4zM88.3 500.8h7.4v7.4h-7.4zM91.4 500.7h7.4v7.4h-7.4zM94.5 500.6h7.4v7.4h-7.4zM97.6 500.4h7.4v7.4h-7.4zM100.7 500.2h7.4v7.4h-7.4zM103.8 500.0h7.4v7.4h-7.4zM106.9 499.8h7.4v7.4h-7.4zM110.0 499.6h7.4v7.4h-7.4zM113.1 499.4h7.4v7.4h-7.4zM116.2 499.2h7.4v7.4h-7.4zM119.3 499.0h7.4v7.4h-7.4zM122.4 498.8h7.4v7.4h-7.4zM125.5 498.6h7.4v7.4h-7.4zM128.6 498.3h7.4v7.4h-7.4zM131.7 498.1h7.4v7.4h-7.4zM134.8 497.8h7.4v7.4h-7.4zM137.9 497.6h7.4v7.4h-7.4zM141.0 497.3h7.4v7.4h-7.4zM144.1 497.1h7.4v7.4h-7.4zM147.2 496.8h7.4v7.4h-7.4zM150.3 496.5h7.4v7.4h-7.4zM153.4 496.2h7.4v7.4h-7.4zM156.5 495.9h7.4v7.4h-7.4zM159.6 495.6h7.4v7.4h-7.4zM162.7 495.3h7.4v7.4h-7.4zM165.8 495.0h7.4v7.4h-7.4zM168.9 494.7h7.4v7.4h-7.4zM172.0 494.5h7.4v7.4h-7.4zM175.1 494.2h7.4v7.4h-7.4zM178.2 493.9h7.4v7.4h-7.4zM181.3 493.6h7.4v7.4h-7.4zM184.4 493.1h7.4v7.4h-7.4zM187.5 492.6h7.4v7.4h-7.4zM190.6 492.2h7.4v7.4h-7.4zM193.7 491.7h7.4v7.4h-7.4zM196.8 491.2h7.4v7.4h-7.4zM199.9 490.6h7.4v7.4h-7.4zM203.0 490.0h7.4v7.4h-7.4zM206.1 489.5h7.4v7.4h-7.4zM209.2 488.9h7.4v7.4h-7.4zM212.3 488.3h7.4v7.4h-7.4zM215.4 487.6h7.4v7.4h-7.4zM218.5 486.9h7.4v7.4h-7.4zM221.6 486.2h7.4v7.4h-7.4zM224.7 485.5h7.4v7.4h-7.4zM227.8 484.7h7.4v7.4h-7.4zM230.9 483.9h7.4v7.4h-7.4zM234.0 483.1h7.4v7.4h-7.4zM237.1 482.3h7.4v7.4h-7.4zM240.2 481.5h7.4v7.4h-7.4zM243.3 480.4h7.4v7.4h-7.4zM246.4 479.2h7.4v7.4h-7.4zM249.5 477.9h7.4v7.4h-7.4zM252.6 476.5h7.4v7.4h-7.4zM255.7 474.7h7.4v7.4h-7.4zM258.8 472.9h7.4v7.4h-7.4zM261.9 470.3h7.4v7.4h-7.4zM264.3 468.3h7.4v7.4h-7.4zM268.1 463.5h7.4v7.4h-7.4zM271.9 457.2h7.4v7.4h-7.4zM275.7 447.0h7.4v7.4h-7.4zM279.2 431.7h7.4v7.4h-7.4zM283.1 410.1h7.4v7.4h-7.4zM286.2 377.6h7.4v7.4h-7.4zM289.7 361.1h7.4v7.4h-7.4zM292.7 356.6h7.4v7.4h-7.4zM295.8 356.6h7.4v7.4h-7.4zM298.9 356.6h7.4v7.4h-7.4zM302.0 356.6h7.4v7.4h-7.4zM305.1 356.6h7.4v7.4h-7.4zM308.2 356.6h7.4v7.4h-7.4zM311.3 356.6h7.4v7.4h-7.4zM314.4 356.6h7.4v7.4h-7.4zM317.5 356.6h7.4v7.4h-7.4zM320.6 356.6h7.4v7.4h-7.4zM323.7 356.6h7.4v7.4h-7.4zM326.8 356.6h7.4v7.4h-7.4zM329.9 356.6h7.4v7.4h-7.4zM333.0 356.6h7.4v7.4h-7.4zM336.1 356.6h7.4v7.4h-7.4zM339.2 356.6h7.4v7.4h-7.4zM342.3 356.6h7.4v7.4h-7.4zM345.4 356.6h7.4v7.4h-7.4zM348.5 356.6h7.4v7.4h-7.4zM351.6 356.6h7.4v7.4h-7.4zM354.7 356.6h7.4v7.4h-7.4zM357.8 356.6h7.4v7.4h-7.4zM360.9 356.6h7.4v7.4h-7.4zM364.0 356.6h7.4v7.4h-7.4zM367.1 356.6h7.4v7.4h-7.4zM370.2 356.6h7.4v7.4h-7.4zM373.3 356.6h7.4v7.4h-7.4zM376.4 356.6h7.4v7.4h-7.4zM379.5 356.6h7.4v7.4h-7.4zM382.6 356.6h7.4v7.4h-7.4zM385.7 356.6h7.4v7.4h-7.4zM388.8 356.6h7.4v7.4h-7.4zM391.9 356.6h7.4v7.4h-7.4zM395.0 356.6h7.4v7.4h-7.4z"/>
<path d="M33.0 481.6 L36.6 481.6 L40.2 481.5 L43.8 481.5 L47.4 481.5 L51.0 481.5 L54.6 481.4 L58.2 481.4 L61.8 481.4 L65.4 481.3 L69.0 481.3 L72.6 481.2 L76.2 481.2 L79.8 481.1 L83.4 481.0 L87.0 480.9 L90.6 480.8 L97.8 480.7 L101.4 480.5 L105.0 480.4 L108.6 480.2 L112.2 480.0 L115.8 479.8 L119.4 479.7 L123.0 479.5 L126.6 479.3 L130.2 479.0 L133.8 478.7 L137.4 478.4 L141.0 478.1 L144.6 477.8 L148.2 477.5 L151.8 476.9 L155.4 476.0 L159.0 475.1 L162.6 474.2 L166.2 473.2 L169.8 471.4 L173.4 469.6 L177.0 467.8 L180.6 466.0 L184.2 463.0 L187.8 459.5 L191.4 455.5 L194.6 451.5 L196.8 448.8 L199.9 439.2 L203.4 427.5 L207.3 408.4 L210.0 387.5 L212.4 377.0 L215.3 372.3 L218.2 370.3 L221.6 368.7 L225.3 367.1 L229.2 365.5 L233.1 364.4 L237.0 363.3 L240.9 362.4 L244.8 361.9 L248.7 361.4 L252.6 361.0 L256.5 360.8 L260.4 360.6 L264.3 360.5 L268.2 360.4 L272.1 360.3 L276.0 360.3 L279.9 360.3 L283.8 360.3 L287.7 360.3 L291.6 360.3 L295.5 360.3 L299.4 360.3 L303.3 360.3 L307.2 360.3 L311.1 360.3 L315.0 360.3 L318.9 360.3 L322.8 360.3 L326.7 360.3 L330.6 360.3 L334.5 360.3 L338.4 360.3 L342.3 360.3 L346.2 360.3 L350.1 360.3 L354.0 360.3 L357.9 360.3 L361.8 360.3 L365.7 360.3 L369.6 360.3 L373.5 360.3 L377.4 360.3 L381.3 360.3 L385.2 360.3 L389.1 360.3 L393.0 360.3 L396.9 360.3" stroke="#0c0ce0" stroke-width="0.8" fill="none"/>
<path fill="#0c0ce0" d="M29.0 481.6l4 -4.6l4 4.6l-4 4.6zM32.6 481.6l4 -4.6l4 4.6l-4 4.6zM36.2 481.5l4 -4.6l4 4.6l-4 4.6zM39.8 481.5l4 -4.6l4 4.6l-4 4.6zM43.4 481.5l4 -4.6l4 4.6l-4 4.6zM47.0 481.5l4 -4.6l4 4.6l-4 4.6zM50.6 481.4l4 -4.6l4 4.6l-4 4.6zM54.2 481.4l4 -4.6l4 4.6l-4 4.6zM57.8 481.4l4 -4.6l4 4.6l-4 4.6zM61.4 481.3l4 -4.6l4 4.6l-4 4.6zM65.0 481.3l4 -4.6l4 4.6l-4 4.6zM68.6 481.2l4 -4.6l4 4.6l-4 4.6zM72.2 481.2l4 -4.6l4 4.6l-4 4.6zM75.8 481.1l4 -4.6l4 4.6l-4 4.6zM79.4 481.0l4 -4.6l4 4.6l-4 4.6zM83.0 480.9l4 -4.6l4 4.6l-4 4.6zM86.6 480.8l4 -4.6l4 4.6l-4 4.6zM93.8 480.7l4 -4.6l4 4.6l-4 4.6zM97.4 480.5l4 -4.6l4 4.6l-4 4.6zM101.0 480.4l4 -4.6l4 4.6l-4 4.6zM104.6 480.2l4 -4.6l4 4.6l-4 4.6zM108.2 480.0l4 -4.6l4 4.6l-4 4.6zM111.8 479.8l4 -4.6l4 4.6l-4 4.6zM115.4 479.7l4 -4.6l4 4.6l-4 4.6zM119.0 479.5l4 -4.6l4 4.6l-4 4.6zM122.6 479.3l4 -4.6l4 4.6l-4 4.6zM126.2 479.0l4 -4.6l4 4.6l-4 4.6zM129.8 478.7l4 -4.6l4 4.6l-4 4.6zM133.4 478.4l4 -4.6l4 4.6l-4 4.6zM137.0 478.1l4 -4.6l4 4.6l-4 4.6zM140.6 477.8l4 -4.6l4 4.6l-4 4.6zM144.2 477.5l4 -4.6l4 4.6l-4 4.6zM147.8 476.9l4 -4.6l4 4.6l-4 4.6zM151.4 476.0l4 -4.6l4 4.6l-4 4.6zM155.0 475.1l4 -4.6l4 4.6l-4 4.6zM158.6 474.2l4 -4.6l4 4.6l-4 4.6zM162.2 473.2l4 -4.6l4 4.6l-4 4.6zM165.8 471.4l4 -4.6l4 4.6l-4 4.6zM169.4 469.6l4 -4.6l4 4.6l-4 4.6zM173.0 467.8l4 -4.6l4 4.6l-4 4.6zM176.6 466.0l4 -4.6l4 4.6l-4 4.6zM180.2 463.0l4 -4.6l4 4.6l-4 4.6zM183.8 459.5l4 -4.6l4 4.6l-4 4.6zM187.4 455.5l4 -4.6l4 4.6l-4 4.6zM190.6 451.5l4 -4.6l4 4.6l-4 4.6zM192.8 448.8l4 -4.6l4 4.6l-4 4.6zM195.9 439.2l4 -4.6l4 4.6l-4 4.6zM199.4 427.5l4 -4.6l4 4.6l-4 4.6zM203.3 408.4l4 -4.6l4 4.6l-4 4.6zM206.0 387.5l4 -4.6l4 4.6l-4 4.6zM208.4 377.0l4 -4.6l4 4.6l-4 4.6zM211.3 372.3l4 -4.6l4 4.6l-4 4.6zM214.2 370.3l4 -4.6l4 4.6l-4 4.6zM217.6 368.7l4 -4.6l4 4.6l-4 4.6zM221.3 367.1l4 -4.6l4 4.6l-4 4.6zM225.2 365.5l4 -4.6l4 4.6l-4 4.6zM229.1 364.4l4 -4.6l4 4.6l-4 4.6zM233.0 363.3l4 -4.6l4 4.6l-4 4.6zM236.9 362.4l4 -4.6l4 4.6l-4 4.6zM240.8 361.9l4 -4.6l4 4.6l-4 4.6zM244.7 361.4l4 -4.6l4 4.6l-4 4.6zM248.6 361.0l4 -4.6l4 4.6l-4 4.6zM252.5 360.8l4 -4.6l4 4.6l-4 4.6zM256.4 360.6l4 -4.6l4 4.6l-4 4.6zM260.3 360.5l4 -4.6l4 4.6l-4 4.6zM264.2 360.4l4 -4.6l4 4.6l-4 4.6zM268.1 360.3l4 -4.6l4 4.6l-4 4.6zM272.0 360.3l4 -4.6l4 4.6l-4 4.6zM275.9 360.3l4 -4.6l4 4.6l-4 4.6zM279.8 360.3l4 -4.6l4 4.6l-4 4.6zM283.7 360.3l4 -4.6l4 4.6l-4 4.6zM287.6 360.3l4 -4.6l4 4.6l-4 4.6zM291.5 360.3l4 -4.6l4 4.6l-4 4.6zM295.4 360.3l4 -4.6l4 4.6l-4 4.6zM299.3 360.3l4 -4.6l4 4.6l-4 4.6zM303.2 360.3l4 -4.6l4 4.6l-4 4.6zM307.1 360.3l4 -4.6l4 4.6l-4 4.6zM311.0 360.3l4 -4.6l4 4.6l-4 4.6zM314.9 360.3l4 -4.6l4 4.6l-4 4.6zM318.8 360.3l4 -4.6l4 4.6l-4 4.6zM322.7 360.3l4 -4.6l4 4.6l-4 4.6zM326.6 360.3l4 -4.6l4 4.6l-4 4.6zM330.5 360.3l4 -4.6l4 4.6l-4 4.6zM334.4 360.3l4 -4.6l4 4.6l-4 4.6zM338.3 360.3l4 -4.6l4 4.6l-4 4.6zM342.2 360.3l4 -4.6l4 4.6l-4 4.6zM346.1 360.3l4 -4.6l4 4.6l-4 4.6zM350.0 360.3l4 -4.6l4 4.6l-4 4.6zM353.9 360.3l4 -4.6l4 4.6l-4 4.6zM357.8 360.3l4 -4.6l4 4.6l-4 4.6zM361.7 360.3l4 -4.6l4 4.6l-4 4.6zM365.6 360.3l4 -4.6l4 4.6l-4 4.6zM369.5 360.3l4 -4.6l4 4.6l-4 4.6zM373.4 360.3l4 -4.6l4 4.6l-4 4.6zM377.3 360.3l4 -4.6l4 4.6l-4 4.6zM381.2 360.3l4 -4.6l4 4.6l-4 4.6zM385.1 360.3l4 -4.6l4 4.6l-4 4.6zM389.0 360.3l4 -4.6l4 4.6l-4 4.6zM392.9 360.3l4 -4.6l4 4.6l-4 4.6z"/>
</g>
<path d="M203.9 360.3H399.8" stroke="#000" stroke-width="2.1" stroke-dasharray="2.8 1.4" fill="none"/>
<path d="M197.6 463.6L214.3 355.2" stroke="#000" stroke-width="2.1" stroke-dasharray="2.8 1.4" fill="none"/>
<path d="M213.6 329.5V348" stroke="#0c0ce0" stroke-width="1.9" fill="none"/>
<path d="M213.6 354.8l-5.4 -13.6l5.4 3.6l5.4 -3.6z" fill="#0c0ce0"/>
<path d="M293.4 329.5V348" stroke="#0b6a22" stroke-width="1.9" fill="none"/>
<path d="M293.4 354.8l-5.4 -13.6l5.4 3.6l5.4 -3.6z" fill="#0b6a22"/>
<path d="M319.3 329.5V348" stroke="#dc0808" stroke-width="1.9" fill="none"/>
<path d="M319.3 354.8l-5.4 -13.6l5.4 3.6l5.4 -3.6z" fill="#dc0808"/>
<rect x="56.6" y="361.2" width="109" height="57.6" fill="#fff" stroke="#000" stroke-width="1.3"/>
<path d="M64.3 369.4H100.3" stroke="#dc0808" stroke-width="0.8"/>
<path d="M64.3 384.9H100.3" stroke="#0b6a22" stroke-width="0.8"/>
<path d="M64.3 401.2H100.3" stroke="#0c0ce0" stroke-width="0.8"/>
<circle cx="82.8" cy="369.4" r="3.1" fill="#dc0808"/>
<rect x="79.5" y="381.6" width="6.6" height="6.6" fill="#0b6a22"/>
<path d="M79.2 401.2l3.6 -4l3.6 4l-3.6 4z" fill="#0c0ce0"/>
<text x="104.3" y="377.4" font-size="18.5" fill="#dc0808">Re<tspan font-size="11.5" dy="7">6</tspan><tspan dy="-7">Zr</tspan></text>
<text x="104.3" y="393.0" font-size="18.5" fill="#0b6a22">Re<tspan font-size="11.5" dy="7">27</tspan><tspan dy="-7">Zr</tspan><tspan font-size="11.5" dy="7">5</tspan></text>
<text x="104.3" y="409.4" font-size="18.5" fill="#0c0ce0">Re<tspan font-size="11.5" dy="7">24</tspan><tspan dy="-7">Zr</tspan><tspan font-size="11.5" dy="7">5</tspan></text>
<text x="35" y="344.6" font-size="18" fill="#000">(b)</text>
<text x="32.4" y="537.2" font-size="19.5" text-anchor="middle" fill="#000">2</text>
<text x="93.6" y="537.2" font-size="19.5" text-anchor="middle" fill="#000">3</text>
<text x="154.8" y="537.2" font-size="19.5" text-anchor="middle" fill="#000">4</text>
<text x="216.0" y="537.2" font-size="19.5" text-anchor="middle" fill="#000">5</text>
<text x="277.2" y="537.2" font-size="19.5" text-anchor="middle" fill="#000">6</text>
<text x="338.4" y="537.2" font-size="19.5" text-anchor="middle" fill="#000">7</text>
<text x="399.6" y="537.2" font-size="19.5" text-anchor="middle" fill="#000">8</text>
<text x="217.4" y="557.4" font-size="20.1" text-anchor="middle" fill="#000">Temperature [K]</text>
<text transform="translate(14.4 416.5) rotate(-90)" font-size="20.35" text-anchor="middle" fill="#000">ac susceptibility [arb. units]</text>
</svg></body></html>
